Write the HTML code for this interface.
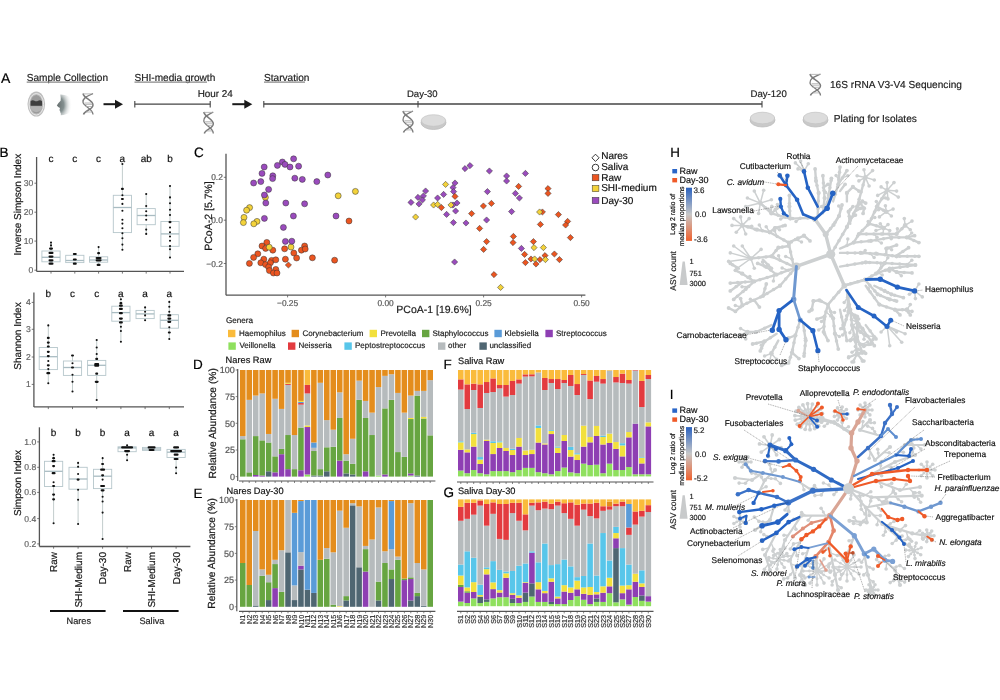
<!DOCTYPE html>
<html><head><meta charset="utf-8"><style>
html,body{margin:0;padding:0;background:#fff;width:1000px;height:700px;overflow:hidden}
svg{display:block;filter:blur(0.4px);font-family:"Liberation Sans",sans-serif}
text{text-rendering:geometricPrecision;stroke:currentColor;stroke-width:0.18px}
</style></head><body>
<svg width="1000" height="700" viewBox="0 0 1000 700">
<rect width="1000" height="700" fill="#fff"/>
<text x="1.0" y="83.0" font-size="14" fill="#000" style="color:#000" text-anchor="start" >A</text>
<text x="26.7" y="80.8" font-size="10.1" fill="#222" style="color:#222" text-anchor="start" >Sample Collection</text>
<line x1="26.7" y1="82.2" x2="100.0" y2="82.2" stroke="#888" stroke-width="1.2" />
<text x="134.5" y="80.8" font-size="10.1" fill="#222" style="color:#222" text-anchor="start" >SHI-media growth</text>
<line x1="134.5" y1="82.2" x2="207.0" y2="82.2" stroke="#888" stroke-width="1.2" />
<text x="264.0" y="80.8" font-size="10.1" fill="#222" style="color:#222" text-anchor="start" >Starvation</text>
<line x1="264.0" y1="82.2" x2="305.0" y2="82.2" stroke="#888" stroke-width="1.2" />
<ellipse cx="36.3" cy="104.1" rx="8.8" ry="12.5" fill="#bdbdbd"/>
<ellipse cx="36.3" cy="104.3" rx="7.3" ry="10.8" fill="none" stroke="#ececec" stroke-width="0.9"/>
<ellipse cx="36.3" cy="104.3" rx="6.1" ry="9.3" fill="#9a9a9a"/>
<path d="M30.6,101.2 Q32.5,99.6 34.5,100.8 Q36.3,101.8 38.1,100.8 Q40.2,99.6 42,101.2 L42,105.8 L30.6,105.8 Z" fill="#3e3e3e"/>
<path d="M30.4,106.2 L42.2,106.2 Q42,111.5 36.3,112.2 Q30.6,111.5 30.4,106.2 Z" fill="#b3b3b3"/>
<defs><radialGradient id="ng" gradientUnits="userSpaceOnUse" cx="58.5" cy="105" r="13.5" gradientTransform="translate(58.5,105) scale(1,1.4) translate(-58.5,-105)"><stop offset="0" stop-color="#6c7575"/><stop offset="0.4" stop-color="#849090"/><stop offset="1" stop-color="#fff" stop-opacity="0"/></radialGradient></defs>
<path d="M60.3,94.4 Q61,98 60.6,100.8 Q57.6,103.6 56.8,105.6 Q58,107.4 60,107.9 L59.4,110.2 Q60.6,111 60.2,112 Q61.2,113.5 60.8,115.2 Q73,115 73,104.6 Q72,94 60.3,94.4 Z" fill="url(#ng)"/>
<path d="M83.0,93.5 C84.0,98.8 93.0,99.8 93.0,105.0 C93.0,109.9 84.5,110.3 83.5,114.5" stroke="#7a7a7a" stroke-width="1.5" fill="none"/>
<path d="M93.0,93.5 C88.5,96.0 82.5,97.3 83.0,102.3 C83.5,106.5 93.0,108.6 93.0,114.5" stroke="#7a7a7a" stroke-width="1.3" fill="none"/>
<line x1="83.5" y1="93.9" x2="92.5" y2="93.9" stroke="#aaa" stroke-width="0.8"/>
<line x1="84.5" y1="103.0" x2="91.5" y2="103.0" stroke="#aaa" stroke-width="0.8"/>
<line x1="85.0" y1="104.4" x2="92.0" y2="104.4" stroke="#aaa" stroke-width="0.8"/>
<line x1="85.5" y1="106.5" x2="92.0" y2="106.5" stroke="#aaa" stroke-width="0.8"/>
<line x1="86.0" y1="112.0" x2="92.0" y2="112.0" stroke="#aaa" stroke-width="0.8"/>
<line x1="103.5" y1="104.2" x2="117.0" y2="104.2" stroke="#1a1a1a" stroke-width="2" />
<path d="M115,99.7 L123,104.2 L115,108.7 Z" fill="#1a1a1a"/>
<line x1="134.8" y1="104.2" x2="210.2" y2="104.2" stroke="#444" stroke-width="1.3" />
<line x1="134.8" y1="101.0" x2="134.8" y2="107.5" stroke="#444" stroke-width="1.1" />
<line x1="210.2" y1="101.0" x2="210.2" y2="107.5" stroke="#444" stroke-width="1.1" />
<text x="197.7" y="96.8" font-size="9.9" fill="#222" style="color:#222" text-anchor="start" >Hour 24</text>
<path d="M203.8,112.0 C204.8,117.4 213.3,118.5 213.3,123.8 C213.3,128.8 205.2,129.2 204.3,133.5" stroke="#7a7a7a" stroke-width="1.5" fill="none"/>
<path d="M213.3,112.0 C209.0,114.6 203.3,115.9 203.8,121.0 C204.3,125.3 213.3,127.5 213.3,133.5" stroke="#7a7a7a" stroke-width="1.3" fill="none"/>
<line x1="204.3" y1="112.4" x2="212.8" y2="112.4" stroke="#aaa" stroke-width="0.8"/>
<line x1="205.2" y1="121.7" x2="211.9" y2="121.7" stroke="#aaa" stroke-width="0.8"/>
<line x1="205.7" y1="123.2" x2="212.4" y2="123.2" stroke="#aaa" stroke-width="0.8"/>
<line x1="206.2" y1="125.3" x2="212.4" y2="125.3" stroke="#aaa" stroke-width="0.8"/>
<line x1="206.7" y1="130.9" x2="212.4" y2="130.9" stroke="#aaa" stroke-width="0.8"/>
<line x1="232.3" y1="104.2" x2="246.3" y2="104.2" stroke="#1a1a1a" stroke-width="2" />
<path d="M244.3,99.7 L252.3,104.2 L244.3,108.7 Z" fill="#1a1a1a"/>
<line x1="263.8" y1="104.0" x2="762.0" y2="104.0" stroke="#444" stroke-width="1.3" />
<line x1="263.8" y1="101.0" x2="263.8" y2="107.5" stroke="#444" stroke-width="1.1" />
<line x1="418.0" y1="101.0" x2="418.0" y2="107.5" stroke="#444" stroke-width="1.1" />
<line x1="762.0" y1="101.0" x2="762.0" y2="107.5" stroke="#444" stroke-width="1.1" />
<text x="407.0" y="97.0" font-size="9.5" fill="#222" style="color:#222" text-anchor="start" >Day-30</text>
<text x="750.5" y="97.0" font-size="9.6" fill="#222" style="color:#222" text-anchor="start" >Day-120</text>
<path d="M403.0,111.0 C404.0,116.4 413.0,117.5 413.0,122.8 C413.0,127.8 404.5,128.2 403.5,132.5" stroke="#7a7a7a" stroke-width="1.5" fill="none"/>
<path d="M413.0,111.0 C408.5,113.6 402.5,114.9 403.0,120.0 C403.5,124.3 413.0,126.5 413.0,132.5" stroke="#7a7a7a" stroke-width="1.3" fill="none"/>
<line x1="403.5" y1="111.4" x2="412.5" y2="111.4" stroke="#aaa" stroke-width="0.8"/>
<line x1="404.5" y1="120.7" x2="411.5" y2="120.7" stroke="#aaa" stroke-width="0.8"/>
<line x1="405.0" y1="122.2" x2="412.0" y2="122.2" stroke="#aaa" stroke-width="0.8"/>
<line x1="405.5" y1="124.3" x2="412.0" y2="124.3" stroke="#aaa" stroke-width="0.8"/>
<line x1="406.0" y1="129.9" x2="412.0" y2="129.9" stroke="#aaa" stroke-width="0.8"/>
<ellipse cx="433.5" cy="122.5" rx="12.5" ry="7" fill="#c9c9c9" stroke="#bdbdbd" stroke-width="0.8"/>
<ellipse cx="433.5" cy="120.5" rx="12.2" ry="5.8" fill="#dcdcdc" stroke="#c4c4c4" stroke-width="0.7"/>
<ellipse cx="762.5" cy="120.0" rx="12.5" ry="7" fill="#c9c9c9" stroke="#bdbdbd" stroke-width="0.8"/>
<ellipse cx="762.5" cy="118.0" rx="12.2" ry="5.8" fill="#dcdcdc" stroke="#c4c4c4" stroke-width="0.7"/>
<path d="M810.0,74.0 C811.0,79.4 820.5,80.5 820.5,85.8 C820.5,90.8 811.6,91.2 810.5,95.5" stroke="#7a7a7a" stroke-width="1.5" fill="none"/>
<path d="M820.5,74.0 C815.8,76.6 809.5,77.9 810.0,83.0 C810.5,87.3 820.5,89.5 820.5,95.5" stroke="#7a7a7a" stroke-width="1.3" fill="none"/>
<line x1="810.5" y1="74.4" x2="820.0" y2="74.4" stroke="#aaa" stroke-width="0.8"/>
<line x1="811.6" y1="83.7" x2="818.9" y2="83.7" stroke="#aaa" stroke-width="0.8"/>
<line x1="812.1" y1="85.2" x2="819.5" y2="85.2" stroke="#aaa" stroke-width="0.8"/>
<line x1="812.6" y1="87.3" x2="819.5" y2="87.3" stroke="#aaa" stroke-width="0.8"/>
<line x1="813.1" y1="92.9" x2="819.5" y2="92.9" stroke="#aaa" stroke-width="0.8"/>
<text x="830.0" y="88.0" font-size="10.1" fill="#222" style="color:#222" text-anchor="start" >16S rRNA V3-V4 Sequencing</text>
<ellipse cx="815.5" cy="120.0" rx="12.5" ry="7" fill="#c9c9c9" stroke="#bdbdbd" stroke-width="0.8"/>
<ellipse cx="815.5" cy="118.0" rx="12.2" ry="5.8" fill="#dcdcdc" stroke="#c4c4c4" stroke-width="0.7"/>
<text x="833.8" y="122.0" font-size="10.1" fill="#222" style="color:#222" text-anchor="start" >Plating for Isolates</text>
<text x="-0.6" y="156.8" font-size="13.5" fill="#000" style="color:#000" text-anchor="start" >B</text>
<line x1="36.6" y1="157.0" x2="36.6" y2="271.4" stroke="#555" stroke-width="1.3" />
<line x1="36.6" y1="271.4" x2="184.0" y2="271.4" stroke="#555" stroke-width="1.3" />
<line x1="34.4" y1="270.2" x2="36.6" y2="270.2" stroke="#555" stroke-width="0.8" />
<text x="33.4" y="273.2" font-size="8.6" fill="#666" style="color:#666" text-anchor="end" >0</text>
<line x1="34.4" y1="241.1" x2="36.6" y2="241.1" stroke="#555" stroke-width="0.8" />
<text x="33.4" y="244.1" font-size="8.6" fill="#666" style="color:#666" text-anchor="end" >10</text>
<line x1="34.4" y1="212.2" x2="36.6" y2="212.2" stroke="#555" stroke-width="0.8" />
<text x="33.4" y="215.2" font-size="8.6" fill="#666" style="color:#666" text-anchor="end" >20</text>
<line x1="34.4" y1="183.2" x2="36.6" y2="183.2" stroke="#555" stroke-width="0.8" />
<text x="33.4" y="186.2" font-size="8.6" fill="#666" style="color:#666" text-anchor="end" >30</text>
<line x1="51.0" y1="271.4" x2="51.0" y2="273.6" stroke="#555" stroke-width="0.8" />
<line x1="74.8" y1="271.4" x2="74.8" y2="273.6" stroke="#555" stroke-width="0.8" />
<line x1="98.6" y1="271.4" x2="98.6" y2="273.6" stroke="#555" stroke-width="0.8" />
<line x1="122.4" y1="271.4" x2="122.4" y2="273.6" stroke="#555" stroke-width="0.8" />
<line x1="146.2" y1="271.4" x2="146.2" y2="273.6" stroke="#555" stroke-width="0.8" />
<line x1="170.0" y1="271.4" x2="170.0" y2="273.6" stroke="#555" stroke-width="0.8" />
<line x1="51.0" y1="242.5" x2="51.0" y2="251.0" stroke="#9aa" stroke-width="0.6" />
<line x1="51.0" y1="261.8" x2="51.0" y2="264.5" stroke="#9aa" stroke-width="0.6" />
<rect x="41.9" y="251.0" width="18.2" height="10.8" fill="none" stroke="#b6c6cb" stroke-width="0.9"/>
<line x1="41.9" y1="257.3" x2="60.1" y2="257.3" stroke="#a9bcc2" stroke-width="1.3" />
<line x1="74.8" y1="254.0" x2="74.8" y2="255.3" stroke="#9aa" stroke-width="0.6" />
<line x1="74.8" y1="262.6" x2="74.8" y2="264.0" stroke="#9aa" stroke-width="0.6" />
<rect x="65.7" y="255.3" width="18.2" height="7.3" fill="none" stroke="#b6c6cb" stroke-width="0.9"/>
<line x1="65.7" y1="260.5" x2="83.9" y2="260.5" stroke="#a9bcc2" stroke-width="1.3" />
<line x1="98.6" y1="247.0" x2="98.6" y2="256.8" stroke="#9aa" stroke-width="0.6" />
<line x1="98.6" y1="262.2" x2="98.6" y2="265.0" stroke="#9aa" stroke-width="0.6" />
<rect x="89.5" y="256.8" width="18.2" height="5.4" fill="none" stroke="#b6c6cb" stroke-width="0.9"/>
<line x1="89.5" y1="260.0" x2="107.7" y2="260.0" stroke="#a9bcc2" stroke-width="1.3" />
<line x1="122.4" y1="164.0" x2="122.4" y2="195.3" stroke="#9aa" stroke-width="0.6" />
<line x1="122.4" y1="232.6" x2="122.4" y2="249.7" stroke="#9aa" stroke-width="0.6" />
<rect x="113.3" y="195.3" width="18.2" height="37.3" fill="none" stroke="#b6c6cb" stroke-width="0.9"/>
<line x1="113.3" y1="207.5" x2="131.5" y2="207.5" stroke="#a9bcc2" stroke-width="1.3" />
<line x1="146.2" y1="194.0" x2="146.2" y2="208.6" stroke="#9aa" stroke-width="0.6" />
<line x1="146.2" y1="224.7" x2="146.2" y2="233.9" stroke="#9aa" stroke-width="0.6" />
<rect x="137.1" y="208.6" width="18.2" height="16.1" fill="none" stroke="#b6c6cb" stroke-width="0.9"/>
<line x1="137.1" y1="215.5" x2="155.3" y2="215.5" stroke="#a9bcc2" stroke-width="1.3" />
<line x1="170.0" y1="186.0" x2="170.0" y2="221.5" stroke="#9aa" stroke-width="0.6" />
<line x1="170.0" y1="246.3" x2="170.0" y2="257.5" stroke="#9aa" stroke-width="0.6" />
<rect x="160.9" y="221.5" width="18.2" height="24.8" fill="none" stroke="#b6c6cb" stroke-width="0.9"/>
<line x1="160.9" y1="233.9" x2="179.1" y2="233.9" stroke="#a9bcc2" stroke-width="1.3" />
<circle cx="51.0" cy="242.6" r="1.05" fill="#111"/>
<circle cx="51.0" cy="245.4" r="1.05" fill="#111"/>
<rect x="49.0" y="247.5" width="4.0" height="2.2" rx="1.1" fill="#111"/>
<rect x="48.5" y="251.8" width="5.0" height="2.2" rx="1.1" fill="#111"/>
<rect x="48.5" y="255.5" width="5.0" height="2.2" rx="1.1" fill="#111"/>
<rect x="48.5" y="259.2" width="5.0" height="2.2" rx="1.1" fill="#111"/>
<rect x="48.5" y="262.6" width="5.0" height="2.2" rx="1.1" fill="#111"/>
<rect x="72.8" y="252.9" width="4.0" height="2.2" rx="1.1" fill="#111"/>
<rect x="72.8" y="258.4" width="4.0" height="2.2" rx="1.1" fill="#111"/>
<rect x="72.8" y="262.6" width="4.0" height="2.2" rx="1.1" fill="#111"/>
<circle cx="98.6" cy="247.1" r="1.05" fill="#111"/>
<rect x="97.1" y="252.1" width="3.0" height="2.2" rx="1.1" fill="#111"/>
<rect x="95.6" y="256.9" width="6.0" height="2.2" rx="1.1" fill="#111"/>
<rect x="95.6" y="259.2" width="6.0" height="2.2" rx="1.1" fill="#111"/>
<rect x="96.6" y="263.8" width="4.0" height="2.2" rx="1.1" fill="#111"/>
<circle cx="122.4" cy="164.0" r="1.05" fill="#111"/>
<rect x="120.9" y="187.8" width="3.0" height="2.2" rx="1.1" fill="#111"/>
<circle cx="122.4" cy="195.3" r="1.05" fill="#111"/>
<rect x="120.9" y="197.9" width="3.0" height="2.2" rx="1.1" fill="#111"/>
<circle cx="122.4" cy="203.9" r="1.05" fill="#111"/>
<circle cx="122.4" cy="210.7" r="1.05" fill="#111"/>
<circle cx="122.4" cy="219.7" r="1.05" fill="#111"/>
<circle cx="122.4" cy="223.6" r="1.05" fill="#111"/>
<circle cx="122.4" cy="228.3" r="1.05" fill="#111"/>
<circle cx="122.4" cy="233.2" r="1.05" fill="#111"/>
<circle cx="122.4" cy="238.2" r="1.05" fill="#111"/>
<circle cx="122.4" cy="244.6" r="1.05" fill="#111"/>
<circle cx="122.4" cy="249.8" r="1.05" fill="#111"/>
<circle cx="146.2" cy="194.0" r="1.05" fill="#111"/>
<circle cx="146.2" cy="206.0" r="1.05" fill="#111"/>
<circle cx="146.2" cy="211.2" r="1.05" fill="#111"/>
<circle cx="146.2" cy="215.5" r="1.05" fill="#111"/>
<circle cx="146.2" cy="219.7" r="1.05" fill="#111"/>
<circle cx="146.2" cy="229.6" r="1.05" fill="#111"/>
<circle cx="146.2" cy="233.9" r="1.05" fill="#111"/>
<circle cx="170.0" cy="186.0" r="1.05" fill="#111"/>
<circle cx="170.0" cy="197.4" r="1.05" fill="#111"/>
<circle cx="170.0" cy="203.2" r="1.05" fill="#111"/>
<circle cx="170.0" cy="209.7" r="1.05" fill="#111"/>
<circle cx="170.0" cy="215.0" r="1.05" fill="#111"/>
<rect x="168.5" y="221.0" width="3.0" height="2.2" rx="1.1" fill="#111"/>
<circle cx="170.0" cy="227.5" r="1.05" fill="#111"/>
<circle cx="170.0" cy="232.2" r="1.05" fill="#111"/>
<circle cx="170.0" cy="236.5" r="1.05" fill="#111"/>
<circle cx="170.0" cy="240.8" r="1.05" fill="#111"/>
<circle cx="170.0" cy="246.1" r="1.05" fill="#111"/>
<circle cx="170.0" cy="249.3" r="1.05" fill="#111"/>
<circle cx="170.0" cy="257.5" r="1.05" fill="#111"/>
<text x="51.0" y="161.6" font-size="10" fill="#111" style="color:#111" text-anchor="middle" >c</text>
<text x="74.8" y="161.6" font-size="10" fill="#111" style="color:#111" text-anchor="middle" >c</text>
<text x="98.6" y="161.6" font-size="10" fill="#111" style="color:#111" text-anchor="middle" >c</text>
<text x="122.4" y="161.6" font-size="10" fill="#111" style="color:#111" text-anchor="middle" >a</text>
<text x="146.2" y="161.6" font-size="10" fill="#111" style="color:#111" text-anchor="middle" >ab</text>
<text x="170.0" y="161.6" font-size="10" fill="#111" style="color:#111" text-anchor="middle" >b</text>
<text x="0" y="0" font-size="10" fill="#222" text-anchor="middle" transform="translate(21.3,204.7) rotate(-90)">Inverse Simpson Index</text>
<line x1="33.9" y1="292.4" x2="33.9" y2="406.9" stroke="#555" stroke-width="1.3" />
<line x1="33.9" y1="406.9" x2="184.0" y2="406.9" stroke="#555" stroke-width="1.3" />
<line x1="31.7" y1="384.4" x2="33.9" y2="384.4" stroke="#555" stroke-width="0.8" />
<text x="30.7" y="387.4" font-size="8.6" fill="#666" style="color:#666" text-anchor="end" >1</text>
<line x1="31.7" y1="357.0" x2="33.9" y2="357.0" stroke="#555" stroke-width="0.8" />
<text x="30.7" y="360.0" font-size="8.6" fill="#666" style="color:#666" text-anchor="end" >2</text>
<line x1="31.7" y1="329.3" x2="33.9" y2="329.3" stroke="#555" stroke-width="0.8" />
<text x="30.7" y="332.3" font-size="8.6" fill="#666" style="color:#666" text-anchor="end" >3</text>
<line x1="31.7" y1="302.4" x2="33.9" y2="302.4" stroke="#555" stroke-width="0.8" />
<text x="30.7" y="305.4" font-size="8.6" fill="#666" style="color:#666" text-anchor="end" >4</text>
<line x1="48.3" y1="406.9" x2="48.3" y2="409.1" stroke="#555" stroke-width="0.8" />
<line x1="72.5" y1="406.9" x2="72.5" y2="409.1" stroke="#555" stroke-width="0.8" />
<line x1="96.7" y1="406.9" x2="96.7" y2="409.1" stroke="#555" stroke-width="0.8" />
<line x1="120.9" y1="406.9" x2="120.9" y2="409.1" stroke="#555" stroke-width="0.8" />
<line x1="145.1" y1="406.9" x2="145.1" y2="409.1" stroke="#555" stroke-width="0.8" />
<line x1="169.3" y1="406.9" x2="169.3" y2="409.1" stroke="#555" stroke-width="0.8" />
<line x1="48.3" y1="325.4" x2="48.3" y2="347.5" stroke="#9aa" stroke-width="0.6" />
<line x1="48.3" y1="369.6" x2="48.3" y2="383.3" stroke="#9aa" stroke-width="0.6" />
<rect x="39.2" y="347.5" width="18.2" height="22.1" fill="none" stroke="#b6c6cb" stroke-width="0.9"/>
<line x1="39.2" y1="356.7" x2="57.4" y2="356.7" stroke="#a9bcc2" stroke-width="1.3" />
<line x1="72.5" y1="355.5" x2="72.5" y2="361.0" stroke="#9aa" stroke-width="0.6" />
<line x1="72.5" y1="375.4" x2="72.5" y2="391.5" stroke="#9aa" stroke-width="0.6" />
<rect x="63.4" y="361.0" width="18.2" height="14.4" fill="none" stroke="#b6c6cb" stroke-width="0.9"/>
<line x1="63.4" y1="367.5" x2="81.6" y2="367.5" stroke="#a9bcc2" stroke-width="1.3" />
<line x1="96.7" y1="340.0" x2="96.7" y2="360.4" stroke="#9aa" stroke-width="0.6" />
<line x1="96.7" y1="375.4" x2="96.7" y2="400.0" stroke="#9aa" stroke-width="0.6" />
<rect x="87.6" y="360.4" width="18.2" height="15.0" fill="none" stroke="#b6c6cb" stroke-width="0.9"/>
<line x1="87.6" y1="365.3" x2="105.8" y2="365.3" stroke="#a9bcc2" stroke-width="1.3" />
<line x1="120.9" y1="299.0" x2="120.9" y2="306.2" stroke="#9aa" stroke-width="0.6" />
<line x1="120.9" y1="321.2" x2="120.9" y2="341.7" stroke="#9aa" stroke-width="0.6" />
<rect x="111.8" y="306.2" width="18.2" height="15.0" fill="none" stroke="#b6c6cb" stroke-width="0.9"/>
<line x1="111.8" y1="312.6" x2="130.0" y2="312.6" stroke="#a9bcc2" stroke-width="1.3" />
<line x1="145.1" y1="307.4" x2="145.1" y2="310.4" stroke="#9aa" stroke-width="0.6" />
<line x1="145.1" y1="318.6" x2="145.1" y2="320.3" stroke="#9aa" stroke-width="0.6" />
<rect x="136.0" y="310.4" width="18.2" height="8.2" fill="none" stroke="#b6c6cb" stroke-width="0.9"/>
<line x1="136.0" y1="313.9" x2="154.2" y2="313.9" stroke="#a9bcc2" stroke-width="1.3" />
<line x1="169.3" y1="301.9" x2="169.3" y2="314.7" stroke="#9aa" stroke-width="0.6" />
<line x1="169.3" y1="328.2" x2="169.3" y2="339.0" stroke="#9aa" stroke-width="0.6" />
<rect x="160.2" y="314.7" width="18.2" height="13.5" fill="none" stroke="#b6c6cb" stroke-width="0.9"/>
<line x1="160.2" y1="320.3" x2="178.4" y2="320.3" stroke="#a9bcc2" stroke-width="1.3" />
<circle cx="48.3" cy="325.4" r="1.05" fill="#111"/>
<rect x="46.8" y="336.8" width="3.0" height="2.2" rx="1.1" fill="#111"/>
<rect x="46.8" y="341.5" width="3.0" height="2.2" rx="1.1" fill="#111"/>
<rect x="46.8" y="345.4" width="3.0" height="2.2" rx="1.1" fill="#111"/>
<rect x="46.8" y="350.7" width="3.0" height="2.2" rx="1.1" fill="#111"/>
<rect x="46.8" y="355.0" width="3.0" height="2.2" rx="1.1" fill="#111"/>
<circle cx="48.3" cy="361.0" r="1.05" fill="#111"/>
<rect x="46.8" y="364.2" width="3.0" height="2.2" rx="1.1" fill="#111"/>
<circle cx="48.3" cy="369.0" r="1.05" fill="#111"/>
<rect x="46.3" y="372.1" width="4.0" height="2.2" rx="1.1" fill="#111"/>
<circle cx="48.3" cy="383.3" r="1.05" fill="#111"/>
<rect x="71.0" y="354.4" width="3.0" height="2.2" rx="1.1" fill="#111"/>
<circle cx="72.5" cy="363.2" r="1.05" fill="#111"/>
<rect x="71.0" y="366.4" width="3.0" height="2.2" rx="1.1" fill="#111"/>
<circle cx="72.5" cy="374.7" r="1.05" fill="#111"/>
<circle cx="72.5" cy="381.8" r="1.05" fill="#111"/>
<circle cx="72.5" cy="391.5" r="1.05" fill="#111"/>
<circle cx="96.7" cy="340.0" r="1.05" fill="#111"/>
<circle cx="96.7" cy="347.5" r="1.05" fill="#111"/>
<circle cx="96.7" cy="354.0" r="1.05" fill="#111"/>
<rect x="95.2" y="357.8" width="3.0" height="2.2" rx="1.1" fill="#111"/>
<rect x="94.2" y="363.1" width="5.0" height="2.2" rx="1.1" fill="#111"/>
<rect x="94.2" y="364.6" width="5.0" height="2.2" rx="1.1" fill="#111"/>
<rect x="95.2" y="372.6" width="3.0" height="2.2" rx="1.1" fill="#111"/>
<rect x="94.7" y="380.7" width="4.0" height="2.2" rx="1.1" fill="#111"/>
<circle cx="96.7" cy="400.0" r="1.05" fill="#111"/>
<circle cx="120.9" cy="299.3" r="1.05" fill="#111"/>
<rect x="119.4" y="302.1" width="3.0" height="2.2" rx="1.1" fill="#111"/>
<rect x="118.9" y="304.6" width="4.0" height="2.2" rx="1.1" fill="#111"/>
<rect x="118.9" y="307.8" width="4.0" height="2.2" rx="1.1" fill="#111"/>
<rect x="118.9" y="312.1" width="4.0" height="2.2" rx="1.1" fill="#111"/>
<rect x="118.9" y="317.5" width="4.0" height="2.2" rx="1.1" fill="#111"/>
<rect x="118.9" y="321.3" width="4.0" height="2.2" rx="1.1" fill="#111"/>
<circle cx="120.9" cy="326.7" r="1.05" fill="#111"/>
<circle cx="120.9" cy="331.0" r="1.05" fill="#111"/>
<circle cx="120.9" cy="341.7" r="1.05" fill="#111"/>
<circle cx="145.1" cy="307.4" r="1.05" fill="#111"/>
<circle cx="145.1" cy="311.7" r="1.05" fill="#111"/>
<circle cx="145.1" cy="315.4" r="1.05" fill="#111"/>
<circle cx="145.1" cy="320.3" r="1.05" fill="#111"/>
<circle cx="169.3" cy="301.9" r="1.05" fill="#111"/>
<circle cx="169.3" cy="306.8" r="1.05" fill="#111"/>
<circle cx="169.3" cy="311.7" r="1.05" fill="#111"/>
<rect x="167.3" y="314.3" width="4.0" height="2.2" rx="1.1" fill="#111"/>
<rect x="167.3" y="317.5" width="4.0" height="2.2" rx="1.1" fill="#111"/>
<rect x="167.3" y="320.7" width="4.0" height="2.2" rx="1.1" fill="#111"/>
<circle cx="169.3" cy="327.2" r="1.05" fill="#111"/>
<rect x="167.8" y="331.4" width="3.0" height="2.2" rx="1.1" fill="#111"/>
<circle cx="169.3" cy="339.0" r="1.05" fill="#111"/>
<text x="48.3" y="297.4" font-size="10" fill="#111" style="color:#111" text-anchor="middle" >b</text>
<text x="72.5" y="297.4" font-size="10" fill="#111" style="color:#111" text-anchor="middle" >c</text>
<text x="96.7" y="297.4" font-size="10" fill="#111" style="color:#111" text-anchor="middle" >c</text>
<text x="120.9" y="297.4" font-size="10" fill="#111" style="color:#111" text-anchor="middle" >a</text>
<text x="145.1" y="297.4" font-size="10" fill="#111" style="color:#111" text-anchor="middle" >a</text>
<text x="169.3" y="297.4" font-size="10" fill="#111" style="color:#111" text-anchor="middle" >a</text>
<text x="0" y="0" font-size="10" fill="#222" text-anchor="middle" transform="translate(21.3,336) rotate(-90)">Shannon Index</text>
<line x1="39.4" y1="427.3" x2="39.4" y2="546.5" stroke="#555" stroke-width="1.3" />
<line x1="39.4" y1="546.5" x2="190.4" y2="546.5" stroke="#555" stroke-width="1.3" />
<line x1="37.2" y1="543.9" x2="39.4" y2="543.9" stroke="#555" stroke-width="0.8" />
<text x="36.2" y="546.9" font-size="8.6" fill="#666" style="color:#666" text-anchor="end" >0.2</text>
<line x1="37.2" y1="518.6" x2="39.4" y2="518.6" stroke="#555" stroke-width="0.8" />
<text x="36.2" y="521.6" font-size="8.6" fill="#666" style="color:#666" text-anchor="end" >0.4</text>
<line x1="37.2" y1="492.4" x2="39.4" y2="492.4" stroke="#555" stroke-width="0.8" />
<text x="36.2" y="495.4" font-size="8.6" fill="#666" style="color:#666" text-anchor="end" >0.6</text>
<line x1="37.2" y1="467.3" x2="39.4" y2="467.3" stroke="#555" stroke-width="0.8" />
<text x="36.2" y="470.3" font-size="8.6" fill="#666" style="color:#666" text-anchor="end" >0.8</text>
<line x1="37.2" y1="441.9" x2="39.4" y2="441.9" stroke="#555" stroke-width="0.8" />
<text x="36.2" y="444.9" font-size="8.6" fill="#666" style="color:#666" text-anchor="end" >1.0</text>
<line x1="53.6" y1="546.5" x2="53.6" y2="548.7" stroke="#555" stroke-width="0.8" />
<line x1="78.1" y1="546.5" x2="78.1" y2="548.7" stroke="#555" stroke-width="0.8" />
<line x1="102.6" y1="546.5" x2="102.6" y2="548.7" stroke="#555" stroke-width="0.8" />
<line x1="127.1" y1="546.5" x2="127.1" y2="548.7" stroke="#555" stroke-width="0.8" />
<line x1="151.6" y1="546.5" x2="151.6" y2="548.7" stroke="#555" stroke-width="0.8" />
<line x1="176.1" y1="546.5" x2="176.1" y2="548.7" stroke="#555" stroke-width="0.8" />
<line x1="53.6" y1="454.7" x2="53.6" y2="461.3" stroke="#9aa" stroke-width="0.6" />
<line x1="53.6" y1="486.5" x2="53.6" y2="523.3" stroke="#9aa" stroke-width="0.6" />
<rect x="44.5" y="461.3" width="18.2" height="25.2" fill="none" stroke="#b6c6cb" stroke-width="0.9"/>
<line x1="44.5" y1="471.3" x2="62.7" y2="471.3" stroke="#a9bcc2" stroke-width="1.3" />
<line x1="78.1" y1="462.9" x2="78.1" y2="467.3" stroke="#9aa" stroke-width="0.6" />
<line x1="78.1" y1="489.2" x2="78.1" y2="524.0" stroke="#9aa" stroke-width="0.6" />
<rect x="69.0" y="467.3" width="18.2" height="21.9" fill="none" stroke="#b6c6cb" stroke-width="0.9"/>
<line x1="69.0" y1="479.0" x2="87.2" y2="479.0" stroke="#a9bcc2" stroke-width="1.3" />
<line x1="102.6" y1="457.5" x2="102.6" y2="469.3" stroke="#9aa" stroke-width="0.6" />
<line x1="102.6" y1="488.6" x2="102.6" y2="539.0" stroke="#9aa" stroke-width="0.6" />
<rect x="93.5" y="469.3" width="18.2" height="19.3" fill="none" stroke="#b6c6cb" stroke-width="0.9"/>
<line x1="93.5" y1="476.2" x2="111.7" y2="476.2" stroke="#a9bcc2" stroke-width="1.3" />
<line x1="127.1" y1="445.3" x2="127.1" y2="446.8" stroke="#9aa" stroke-width="0.6" />
<line x1="127.1" y1="451.7" x2="127.1" y2="460.3" stroke="#9aa" stroke-width="0.6" />
<rect x="118.0" y="446.8" width="18.2" height="4.9" fill="none" stroke="#b6c6cb" stroke-width="0.9"/>
<line x1="118.0" y1="447.9" x2="136.2" y2="447.9" stroke="#a9bcc2" stroke-width="1.3" />
<line x1="151.6" y1="446.8" x2="151.6" y2="447.4" stroke="#9aa" stroke-width="0.6" />
<line x1="151.6" y1="450.4" x2="151.6" y2="451.0" stroke="#9aa" stroke-width="0.6" />
<rect x="142.5" y="447.4" width="18.2" height="3.0" fill="none" stroke="#b6c6cb" stroke-width="0.9"/>
<line x1="142.5" y1="449.0" x2="160.7" y2="449.0" stroke="#a9bcc2" stroke-width="1.3" />
<line x1="176.1" y1="447.4" x2="176.1" y2="449.4" stroke="#9aa" stroke-width="0.6" />
<line x1="176.1" y1="457.5" x2="176.1" y2="473.2" stroke="#9aa" stroke-width="0.6" />
<rect x="167.0" y="449.4" width="18.2" height="8.1" fill="none" stroke="#b6c6cb" stroke-width="0.9"/>
<line x1="167.0" y1="452.2" x2="185.2" y2="452.2" stroke="#a9bcc2" stroke-width="1.3" />
<circle cx="53.6" cy="454.7" r="1.05" fill="#111"/>
<rect x="52.1" y="457.1" width="3.0" height="2.2" rx="1.1" fill="#111"/>
<rect x="51.6" y="460.1" width="4.0" height="2.2" rx="1.1" fill="#111"/>
<rect x="52.1" y="465.0" width="3.0" height="2.2" rx="1.1" fill="#111"/>
<rect x="51.6" y="472.1" width="4.0" height="2.2" rx="1.1" fill="#111"/>
<circle cx="53.6" cy="482.2" r="1.05" fill="#111"/>
<rect x="52.1" y="484.9" width="3.0" height="2.2" rx="1.1" fill="#111"/>
<rect x="52.1" y="493.5" width="3.0" height="2.2" rx="1.1" fill="#111"/>
<rect x="52.1" y="498.2" width="3.0" height="2.2" rx="1.1" fill="#111"/>
<circle cx="53.6" cy="523.3" r="1.05" fill="#111"/>
<circle cx="78.1" cy="462.9" r="1.05" fill="#111"/>
<circle cx="78.1" cy="466.7" r="1.05" fill="#111"/>
<circle cx="78.1" cy="474.0" r="1.05" fill="#111"/>
<rect x="76.6" y="478.5" width="3.0" height="2.2" rx="1.1" fill="#111"/>
<circle cx="78.1" cy="489.7" r="1.05" fill="#111"/>
<circle cx="78.1" cy="499.7" r="1.05" fill="#111"/>
<circle cx="78.1" cy="524.0" r="1.05" fill="#111"/>
<rect x="101.6" y="457.1" width="2.0" height="2.2" rx="1.1" fill="#111"/>
<rect x="101.1" y="462.9" width="3.0" height="2.2" rx="1.1" fill="#111"/>
<rect x="100.1" y="468.6" width="5.0" height="2.2" rx="1.1" fill="#111"/>
<rect x="101.1" y="474.2" width="3.0" height="2.2" rx="1.1" fill="#111"/>
<circle cx="102.6" cy="479.6" r="1.05" fill="#111"/>
<rect x="100.1" y="484.9" width="5.0" height="2.2" rx="1.1" fill="#111"/>
<rect x="100.6" y="489.2" width="4.0" height="2.2" rx="1.1" fill="#111"/>
<circle cx="102.6" cy="496.7" r="1.05" fill="#111"/>
<circle cx="102.6" cy="501.5" r="1.05" fill="#111"/>
<circle cx="102.6" cy="512.6" r="1.05" fill="#111"/>
<circle cx="102.6" cy="539.0" r="1.05" fill="#111"/>
<circle cx="127.1" cy="445.3" r="1.05" fill="#111"/>
<rect x="121.1" y="446.3" width="12.0" height="2.2" rx="1.1" fill="#111"/>
<rect x="124.1" y="450.0" width="6.0" height="2.2" rx="1.1" fill="#111"/>
<circle cx="127.1" cy="454.7" r="1.05" fill="#111"/>
<circle cx="127.1" cy="460.3" r="1.05" fill="#111"/>
<rect x="147.6" y="446.3" width="8.0" height="2.2" rx="1.1" fill="#111"/>
<rect x="148.6" y="448.9" width="6.0" height="2.2" rx="1.1" fill="#111"/>
<rect x="173.1" y="446.3" width="6.0" height="2.2" rx="1.1" fill="#111"/>
<rect x="170.1" y="450.0" width="12.0" height="2.2" rx="1.1" fill="#111"/>
<rect x="173.6" y="453.6" width="5.0" height="2.2" rx="1.1" fill="#111"/>
<rect x="173.6" y="457.9" width="5.0" height="2.2" rx="1.1" fill="#111"/>
<circle cx="176.1" cy="467.6" r="1.05" fill="#111"/>
<circle cx="176.1" cy="473.2" r="1.05" fill="#111"/>
<text x="53.6" y="435.5" font-size="10" fill="#111" style="color:#111" text-anchor="middle" >b</text>
<text x="78.1" y="435.5" font-size="10" fill="#111" style="color:#111" text-anchor="middle" >b</text>
<text x="102.6" y="435.5" font-size="10" fill="#111" style="color:#111" text-anchor="middle" >b</text>
<text x="127.1" y="435.5" font-size="10" fill="#111" style="color:#111" text-anchor="middle" >a</text>
<text x="151.6" y="435.5" font-size="10" fill="#111" style="color:#111" text-anchor="middle" >a</text>
<text x="176.1" y="435.5" font-size="10" fill="#111" style="color:#111" text-anchor="middle" >a</text>
<text x="0" y="0" font-size="10" fill="#222" text-anchor="middle" transform="translate(21.3,483) rotate(-90)">Simpson Index</text>
<text x="0" y="0" font-size="10" fill="#222" text-anchor="end" transform="translate(57.1,552) rotate(-90)">Raw</text>
<text x="0" y="0" font-size="10" fill="#222" text-anchor="end" transform="translate(81.6,552) rotate(-90)">SHI-Medium</text>
<text x="0" y="0" font-size="10" fill="#222" text-anchor="end" transform="translate(106.1,552) rotate(-90)">Day-30</text>
<text x="0" y="0" font-size="10" fill="#222" text-anchor="end" transform="translate(130.6,552) rotate(-90)">Raw</text>
<text x="0" y="0" font-size="10" fill="#222" text-anchor="end" transform="translate(155.1,552) rotate(-90)">SHI-Medium</text>
<text x="0" y="0" font-size="10" fill="#222" text-anchor="end" transform="translate(179.6,552) rotate(-90)">Day-30</text>
<line x1="50.0" y1="611.0" x2="105.6" y2="611.0" stroke="#111" stroke-width="2" />
<line x1="123.0" y1="611.0" x2="178.6" y2="611.0" stroke="#111" stroke-width="2" />
<text x="78.8" y="623.6" font-size="9.2" fill="#222" style="color:#222" text-anchor="middle" >Nares</text>
<text x="151.9" y="623.6" font-size="9.2" fill="#222" style="color:#222" text-anchor="middle" >Saliva</text>
<text x="194.0" y="156.6" font-size="13.5" fill="#000" style="color:#000" text-anchor="start" >C</text>
<line x1="226.0" y1="153.7" x2="226.0" y2="295.2" stroke="#555" stroke-width="1.3" />
<line x1="226.0" y1="295.2" x2="585.4" y2="295.2" stroke="#555" stroke-width="1.3" />
<line x1="223.8" y1="177.3" x2="226.0" y2="177.3" stroke="#555" stroke-width="0.8" />
<text x="222.8" y="180.3" font-size="8.4" fill="#555" style="color:#555" text-anchor="end" >0.2</text>
<line x1="223.8" y1="220.2" x2="226.0" y2="220.2" stroke="#555" stroke-width="0.8" />
<text x="222.8" y="223.2" font-size="8.4" fill="#555" style="color:#555" text-anchor="end" >0.0</text>
<line x1="223.8" y1="263.5" x2="226.0" y2="263.5" stroke="#555" stroke-width="0.8" />
<text x="222.8" y="266.5" font-size="8.4" fill="#555" style="color:#555" text-anchor="end" >−0.2</text>
<line x1="287.6" y1="295.2" x2="287.6" y2="297.4" stroke="#555" stroke-width="0.8" />
<text x="287.6" y="306.0" font-size="8.4" fill="#555" style="color:#555" text-anchor="middle" >−0.25</text>
<line x1="385.6" y1="295.2" x2="385.6" y2="297.4" stroke="#555" stroke-width="0.8" />
<text x="385.6" y="306.0" font-size="8.4" fill="#555" style="color:#555" text-anchor="middle" >0.00</text>
<line x1="483.6" y1="295.2" x2="483.6" y2="297.4" stroke="#555" stroke-width="0.8" />
<text x="483.6" y="306.0" font-size="8.4" fill="#555" style="color:#555" text-anchor="middle" >0.25</text>
<line x1="581.6" y1="295.2" x2="581.6" y2="297.4" stroke="#555" stroke-width="0.8" />
<text x="581.6" y="306.0" font-size="8.4" fill="#555" style="color:#555" text-anchor="middle" >0.50</text>
<text x="434.0" y="313.0" font-size="10.5" fill="#222" style="color:#222" text-anchor="middle" >PCoA-1 [19.6%]</text>
<text x="0" y="0" font-size="10.5" fill="#222" text-anchor="middle" transform="translate(212,216) rotate(-90)">PCoA-2 [5.7%]</text>
<circle cx="349.0" cy="221.0" r="3" fill="#ec5520" stroke="#333" stroke-width="0.5"/>
<circle cx="266.8" cy="242.4" r="3" fill="#ec5520" stroke="#333" stroke-width="0.5"/>
<circle cx="262.0" cy="246.0" r="3" fill="#ec5520" stroke="#333" stroke-width="0.5"/>
<circle cx="265.6" cy="248.4" r="3" fill="#ec5520" stroke="#333" stroke-width="0.5"/>
<circle cx="272.8" cy="250.2" r="3" fill="#ec5520" stroke="#333" stroke-width="0.5"/>
<circle cx="284.6" cy="248.8" r="3" fill="#ec5520" stroke="#333" stroke-width="0.5"/>
<circle cx="304.6" cy="246.0" r="3" fill="#ec5520" stroke="#333" stroke-width="0.5"/>
<circle cx="301.4" cy="250.2" r="3" fill="#ec5520" stroke="#333" stroke-width="0.5"/>
<circle cx="305.2" cy="249.0" r="3" fill="#ec5520" stroke="#333" stroke-width="0.5"/>
<circle cx="293.8" cy="253.0" r="3" fill="#ec5520" stroke="#333" stroke-width="0.5"/>
<circle cx="257.8" cy="253.8" r="3" fill="#ec5520" stroke="#333" stroke-width="0.5"/>
<circle cx="253.6" cy="257.4" r="3" fill="#ec5520" stroke="#333" stroke-width="0.5"/>
<circle cx="249.4" cy="263.4" r="3" fill="#ec5520" stroke="#333" stroke-width="0.5"/>
<circle cx="263.8" cy="259.2" r="3" fill="#ec5520" stroke="#333" stroke-width="0.5"/>
<circle cx="260.8" cy="262.8" r="3" fill="#ec5520" stroke="#333" stroke-width="0.5"/>
<circle cx="265.6" cy="264.6" r="3" fill="#ec5520" stroke="#333" stroke-width="0.5"/>
<circle cx="271.6" cy="260.4" r="3" fill="#ec5520" stroke="#333" stroke-width="0.5"/>
<circle cx="275.8" cy="259.8" r="3" fill="#ec5520" stroke="#333" stroke-width="0.5"/>
<circle cx="270.4" cy="262.8" r="3" fill="#ec5520" stroke="#333" stroke-width="0.5"/>
<circle cx="285.4" cy="259.2" r="3" fill="#ec5520" stroke="#333" stroke-width="0.5"/>
<circle cx="296.6" cy="258.0" r="3" fill="#ec5520" stroke="#333" stroke-width="0.5"/>
<circle cx="312.4" cy="257.8" r="3" fill="#ec5520" stroke="#333" stroke-width="0.5"/>
<circle cx="334.6" cy="260.2" r="3" fill="#ec5520" stroke="#333" stroke-width="0.5"/>
<circle cx="268.6" cy="267.0" r="3" fill="#ec5520" stroke="#333" stroke-width="0.5"/>
<circle cx="269.4" cy="270.6" r="3" fill="#ec5520" stroke="#333" stroke-width="0.5"/>
<circle cx="275.8" cy="269.4" r="3" fill="#ec5520" stroke="#333" stroke-width="0.5"/>
<circle cx="273.4" cy="273.0" r="3" fill="#ec5520" stroke="#333" stroke-width="0.5"/>
<circle cx="277.0" cy="273.0" r="3" fill="#ec5520" stroke="#333" stroke-width="0.5"/>
<circle cx="265.4" cy="197.4" r="3" fill="#f3d23a" stroke="#333" stroke-width="0.5"/>
<circle cx="338.2" cy="195.8" r="3" fill="#f3d23a" stroke="#333" stroke-width="0.5"/>
<circle cx="355.4" cy="191.4" r="3" fill="#f3d23a" stroke="#333" stroke-width="0.5"/>
<circle cx="249.6" cy="207.6" r="3" fill="#f3d23a" stroke="#333" stroke-width="0.5"/>
<circle cx="246.6" cy="210.2" r="3" fill="#f3d23a" stroke="#333" stroke-width="0.5"/>
<circle cx="244.0" cy="217.4" r="3" fill="#f3d23a" stroke="#333" stroke-width="0.5"/>
<circle cx="243.4" cy="222.6" r="3" fill="#f3d23a" stroke="#333" stroke-width="0.5"/>
<circle cx="257.0" cy="221.4" r="3" fill="#f3d23a" stroke="#333" stroke-width="0.5"/>
<circle cx="253.8" cy="223.8" r="3" fill="#f3d23a" stroke="#333" stroke-width="0.5"/>
<circle cx="269.2" cy="247.2" r="3" fill="#f3d23a" stroke="#333" stroke-width="0.5"/>
<circle cx="291.0" cy="247.0" r="3" fill="#f3d23a" stroke="#333" stroke-width="0.5"/>
<circle cx="293.6" cy="158.8" r="3" fill="#9a4bbd" stroke="#333" stroke-width="0.5"/>
<circle cx="282.4" cy="162.0" r="3" fill="#9a4bbd" stroke="#333" stroke-width="0.5"/>
<circle cx="285.0" cy="164.4" r="3" fill="#9a4bbd" stroke="#333" stroke-width="0.5"/>
<circle cx="277.4" cy="165.4" r="3" fill="#9a4bbd" stroke="#333" stroke-width="0.5"/>
<circle cx="290.0" cy="167.0" r="3" fill="#9a4bbd" stroke="#333" stroke-width="0.5"/>
<circle cx="298.6" cy="166.2" r="3" fill="#9a4bbd" stroke="#333" stroke-width="0.5"/>
<circle cx="264.2" cy="167.0" r="3" fill="#9a4bbd" stroke="#333" stroke-width="0.5"/>
<circle cx="262.0" cy="173.4" r="3" fill="#9a4bbd" stroke="#333" stroke-width="0.5"/>
<circle cx="272.8" cy="175.8" r="3" fill="#9a4bbd" stroke="#333" stroke-width="0.5"/>
<circle cx="272.6" cy="178.6" r="3" fill="#9a4bbd" stroke="#333" stroke-width="0.5"/>
<circle cx="294.8" cy="178.2" r="3" fill="#9a4bbd" stroke="#333" stroke-width="0.5"/>
<circle cx="302.3" cy="179.4" r="3" fill="#9a4bbd" stroke="#333" stroke-width="0.5"/>
<circle cx="316.8" cy="181.6" r="3" fill="#9a4bbd" stroke="#333" stroke-width="0.5"/>
<circle cx="327.8" cy="175.0" r="3" fill="#9a4bbd" stroke="#333" stroke-width="0.5"/>
<circle cx="253.6" cy="183.0" r="3" fill="#9a4bbd" stroke="#333" stroke-width="0.5"/>
<circle cx="260.8" cy="181.6" r="3" fill="#9a4bbd" stroke="#333" stroke-width="0.5"/>
<circle cx="268.6" cy="189.4" r="3" fill="#9a4bbd" stroke="#333" stroke-width="0.5"/>
<circle cx="265.8" cy="203.0" r="3" fill="#9a4bbd" stroke="#333" stroke-width="0.5"/>
<circle cx="285.8" cy="203.0" r="3" fill="#9a4bbd" stroke="#333" stroke-width="0.5"/>
<circle cx="304.6" cy="203.8" r="3" fill="#9a4bbd" stroke="#333" stroke-width="0.5"/>
<circle cx="264.4" cy="218.4" r="3" fill="#9a4bbd" stroke="#333" stroke-width="0.5"/>
<circle cx="293.4" cy="216.0" r="3" fill="#9a4bbd" stroke="#333" stroke-width="0.5"/>
<circle cx="336.0" cy="216.0" r="3" fill="#9a4bbd" stroke="#333" stroke-width="0.5"/>
<circle cx="283.4" cy="227.4" r="3" fill="#9a4bbd" stroke="#333" stroke-width="0.5"/>
<circle cx="285.4" cy="241.4" r="3" fill="#9a4bbd" stroke="#333" stroke-width="0.5"/>
<circle cx="291.8" cy="241.2" r="3" fill="#9a4bbd" stroke="#333" stroke-width="0.5"/>
<circle cx="264.4" cy="195.0" r="3" fill="#9a4bbd" stroke="#333" stroke-width="0.5"/>
<path d="M411.0,199.3 L414.1,202.4 L411.0,205.5 L407.9,202.4 Z" fill="#9a4bbd" stroke="#333" stroke-width="0.5"/>
<path d="M418.0,194.3 L421.1,197.4 L418.0,200.5 L414.9,197.4 Z" fill="#9a4bbd" stroke="#333" stroke-width="0.5"/>
<path d="M425.6,187.9 L428.7,191.0 L425.6,194.1 L422.5,191.0 Z" fill="#9a4bbd" stroke="#333" stroke-width="0.5"/>
<path d="M423.4,192.9 L426.5,196.0 L423.4,199.1 L420.3,196.0 Z" fill="#9a4bbd" stroke="#333" stroke-width="0.5"/>
<path d="M422.4,196.9 L425.5,200.0 L422.4,203.1 L419.3,200.0 Z" fill="#9a4bbd" stroke="#333" stroke-width="0.5"/>
<path d="M419.0,200.9 L422.1,204.0 L419.0,207.1 L415.9,204.0 Z" fill="#9a4bbd" stroke="#333" stroke-width="0.5"/>
<path d="M443.6,191.3 L446.7,194.4 L443.6,197.5 L440.5,194.4 Z" fill="#9a4bbd" stroke="#333" stroke-width="0.5"/>
<path d="M437.6,194.9 L440.7,198.0 L437.6,201.1 L434.5,198.0 Z" fill="#9a4bbd" stroke="#333" stroke-width="0.5"/>
<path d="M446.6,211.3 L449.7,214.4 L446.6,217.5 L443.5,214.4 Z" fill="#9a4bbd" stroke="#333" stroke-width="0.5"/>
<path d="M465.0,165.5 L468.1,168.6 L465.0,171.7 L461.9,168.6 Z" fill="#9a4bbd" stroke="#333" stroke-width="0.5"/>
<path d="M470.0,162.5 L473.1,165.6 L470.0,168.7 L466.9,165.6 Z" fill="#9a4bbd" stroke="#333" stroke-width="0.5"/>
<path d="M489.4,167.9 L492.5,171.0 L489.4,174.1 L486.3,171.0 Z" fill="#9a4bbd" stroke="#333" stroke-width="0.5"/>
<path d="M506.6,172.9 L509.7,176.0 L506.6,179.1 L503.5,176.0 Z" fill="#9a4bbd" stroke="#333" stroke-width="0.5"/>
<path d="M506.6,177.9 L509.7,181.0 L506.6,184.1 L503.5,181.0 Z" fill="#9a4bbd" stroke="#333" stroke-width="0.5"/>
<path d="M455.0,179.9 L458.1,183.0 L455.0,186.1 L451.9,183.0 Z" fill="#9a4bbd" stroke="#333" stroke-width="0.5"/>
<path d="M453.0,184.5 L456.1,187.6 L453.0,190.7 L449.9,187.6 Z" fill="#9a4bbd" stroke="#333" stroke-width="0.5"/>
<path d="M453.6,188.5 L456.7,191.6 L453.6,194.7 L450.5,191.6 Z" fill="#9a4bbd" stroke="#333" stroke-width="0.5"/>
<path d="M487.4,188.5 L490.5,191.6 L487.4,194.7 L484.3,191.6 Z" fill="#9a4bbd" stroke="#333" stroke-width="0.5"/>
<path d="M453.0,201.9 L456.1,205.0 L453.0,208.1 L449.9,205.0 Z" fill="#9a4bbd" stroke="#333" stroke-width="0.5"/>
<path d="M457.0,199.9 L460.1,203.0 L457.0,206.1 L453.9,203.0 Z" fill="#9a4bbd" stroke="#333" stroke-width="0.5"/>
<path d="M455.6,207.9 L458.7,211.0 L455.6,214.1 L452.5,211.0 Z" fill="#9a4bbd" stroke="#333" stroke-width="0.5"/>
<path d="M453.4,219.5 L456.5,222.6 L453.4,225.7 L450.3,222.6 Z" fill="#9a4bbd" stroke="#333" stroke-width="0.5"/>
<path d="M466.0,219.9 L469.1,223.0 L466.0,226.1 L462.9,223.0 Z" fill="#9a4bbd" stroke="#333" stroke-width="0.5"/>
<path d="M486.6,216.9 L489.7,220.0 L486.6,223.1 L483.5,220.0 Z" fill="#9a4bbd" stroke="#333" stroke-width="0.5"/>
<path d="M454.6,258.9 L457.7,262.0 L454.6,265.1 L451.5,262.0 Z" fill="#9a4bbd" stroke="#333" stroke-width="0.5"/>
<path d="M525.4,170.3 L528.5,173.4 L525.4,176.5 L522.3,173.4 Z" fill="#9a4bbd" stroke="#333" stroke-width="0.5"/>
<path d="M515.4,190.3 L518.5,193.4 L515.4,196.5 L512.3,193.4 Z" fill="#9a4bbd" stroke="#333" stroke-width="0.5"/>
<path d="M519.4,194.9 L522.5,198.0 L519.4,201.1 L516.3,198.0 Z" fill="#9a4bbd" stroke="#333" stroke-width="0.5"/>
<path d="M511.6,208.5 L514.7,211.6 L511.6,214.7 L508.5,211.6 Z" fill="#9a4bbd" stroke="#333" stroke-width="0.5"/>
<path d="M521.4,245.3 L524.5,248.4 L521.4,251.5 L518.3,248.4 Z" fill="#9a4bbd" stroke="#333" stroke-width="0.5"/>
<path d="M441.4,204.5 L444.5,207.6 L441.4,210.7 L438.3,207.6 Z" fill="#ec5520" stroke="#333" stroke-width="0.5"/>
<path d="M455.0,193.3 L458.1,196.4 L455.0,199.5 L451.9,196.4 Z" fill="#ec5520" stroke="#333" stroke-width="0.5"/>
<path d="M483.4,202.9 L486.5,206.0 L483.4,209.1 L480.3,206.0 Z" fill="#ec5520" stroke="#333" stroke-width="0.5"/>
<path d="M491.4,200.3 L494.5,203.4 L491.4,206.5 L488.3,203.4 Z" fill="#ec5520" stroke="#333" stroke-width="0.5"/>
<path d="M471.6,210.5 L474.7,213.6 L471.6,216.7 L468.5,213.6 Z" fill="#ec5520" stroke="#333" stroke-width="0.5"/>
<path d="M479.6,225.3 L482.7,228.4 L479.6,231.5 L476.5,228.4 Z" fill="#ec5520" stroke="#333" stroke-width="0.5"/>
<path d="M486.6,238.5 L489.7,241.6 L486.6,244.7 L483.5,241.6 Z" fill="#ec5520" stroke="#333" stroke-width="0.5"/>
<path d="M483.6,246.3 L486.7,249.4 L483.6,252.5 L480.5,249.4 Z" fill="#ec5520" stroke="#333" stroke-width="0.5"/>
<path d="M494.0,271.5 L497.1,274.6 L494.0,277.7 L490.9,274.6 Z" fill="#ec5520" stroke="#333" stroke-width="0.5"/>
<path d="M518.6,183.3 L521.7,186.4 L518.6,189.5 L515.5,186.4 Z" fill="#ec5520" stroke="#333" stroke-width="0.5"/>
<path d="M548.0,185.5 L551.1,188.6 L548.0,191.7 L544.9,188.6 Z" fill="#ec5520" stroke="#333" stroke-width="0.5"/>
<path d="M548.0,190.3 L551.1,193.4 L548.0,196.5 L544.9,193.4 Z" fill="#ec5520" stroke="#333" stroke-width="0.5"/>
<path d="M542.4,208.9 L545.5,212.0 L542.4,215.1 L539.3,212.0 Z" fill="#ec5520" stroke="#333" stroke-width="0.5"/>
<path d="M558.4,211.5 L561.5,214.6 L558.4,217.7 L555.3,214.6 Z" fill="#ec5520" stroke="#333" stroke-width="0.5"/>
<path d="M540.4,221.3 L543.5,224.4 L540.4,227.5 L537.3,224.4 Z" fill="#ec5520" stroke="#333" stroke-width="0.5"/>
<path d="M567.6,218.3 L570.7,221.4 L567.6,224.5 L564.5,221.4 Z" fill="#ec5520" stroke="#333" stroke-width="0.5"/>
<path d="M565.6,221.9 L568.7,225.0 L565.6,228.1 L562.5,225.0 Z" fill="#ec5520" stroke="#333" stroke-width="0.5"/>
<path d="M570.4,234.5 L573.5,237.6 L570.4,240.7 L567.3,237.6 Z" fill="#ec5520" stroke="#333" stroke-width="0.5"/>
<path d="M513.4,233.3 L516.5,236.4 L513.4,239.5 L510.3,236.4 Z" fill="#ec5520" stroke="#333" stroke-width="0.5"/>
<path d="M513.0,239.5 L516.1,242.6 L513.0,245.7 L509.9,242.6 Z" fill="#ec5520" stroke="#333" stroke-width="0.5"/>
<path d="M533.4,238.5 L536.5,241.6 L533.4,244.7 L530.3,241.6 Z" fill="#ec5520" stroke="#333" stroke-width="0.5"/>
<path d="M524.6,251.3 L527.7,254.4 L524.6,257.5 L521.5,254.4 Z" fill="#ec5520" stroke="#333" stroke-width="0.5"/>
<path d="M531.0,255.9 L534.1,259.0 L531.0,262.1 L527.9,259.0 Z" fill="#ec5520" stroke="#333" stroke-width="0.5"/>
<path d="M540.0,256.5 L543.1,259.6 L540.0,262.7 L536.9,259.6 Z" fill="#ec5520" stroke="#333" stroke-width="0.5"/>
<path d="M545.0,252.5 L548.1,255.6 L545.0,258.7 L541.9,255.6 Z" fill="#ec5520" stroke="#333" stroke-width="0.5"/>
<path d="M554.4,250.9 L557.5,254.0 L554.4,257.1 L551.3,254.0 Z" fill="#ec5520" stroke="#333" stroke-width="0.5"/>
<path d="M559.4,256.5 L562.5,259.6 L559.4,262.7 L556.3,259.6 Z" fill="#ec5520" stroke="#333" stroke-width="0.5"/>
<path d="M525.4,259.5 L528.5,262.6 L525.4,265.7 L522.3,262.6 Z" fill="#ec5520" stroke="#333" stroke-width="0.5"/>
<path d="M536.0,260.9 L539.1,264.0 L536.0,267.1 L532.9,264.0 Z" fill="#ec5520" stroke="#333" stroke-width="0.5"/>
<path d="M288.4,261.9 L291.5,265.0 L288.4,268.1 L285.3,265.0 Z" fill="#ec5520" stroke="#333" stroke-width="0.5"/>
<path d="M415.6,213.9 L418.7,217.0 L415.6,220.1 L412.5,217.0 Z" fill="#f3d23a" stroke="#333" stroke-width="0.5"/>
<path d="M445.6,181.3 L448.7,184.4 L445.6,187.5 L442.5,184.4 Z" fill="#f3d23a" stroke="#333" stroke-width="0.5"/>
<path d="M433.6,201.9 L436.7,205.0 L433.6,208.1 L430.5,205.0 Z" fill="#f3d23a" stroke="#333" stroke-width="0.5"/>
<path d="M437.6,201.3 L440.7,204.4 L437.6,207.5 L434.5,204.4 Z" fill="#f3d23a" stroke="#333" stroke-width="0.5"/>
<path d="M451.0,201.9 L454.1,205.0 L451.0,208.1 L447.9,205.0 Z" fill="#f3d23a" stroke="#333" stroke-width="0.5"/>
<path d="M500.6,284.3 L503.7,287.4 L500.6,290.5 L497.5,287.4 Z" fill="#f3d23a" stroke="#333" stroke-width="0.5"/>
<path d="M539.6,208.9 L542.7,212.0 L539.6,215.1 L536.5,212.0 Z" fill="#f3d23a" stroke="#333" stroke-width="0.5"/>
<path d="M534.0,244.5 L537.1,247.6 L534.0,250.7 L530.9,247.6 Z" fill="#f3d23a" stroke="#333" stroke-width="0.5"/>
<path d="M543.4,244.5 L546.5,247.6 L543.4,250.7 L540.3,247.6 Z" fill="#f3d23a" stroke="#333" stroke-width="0.5"/>
<path d="M534.6,255.9 L537.7,259.0 L534.6,262.1 L531.5,259.0 Z" fill="#f3d23a" stroke="#333" stroke-width="0.5"/>
<path d="M545.4,256.5 L548.5,259.6 L545.4,262.7 L542.3,259.6 Z" fill="#f3d23a" stroke="#333" stroke-width="0.5"/>
<path d="M595.5,154.2 L599.1,157.8 L595.5,161.4 L591.9,157.8 Z" fill="none" stroke="#222" stroke-width="0.9"/>
<circle cx="595.5" cy="167.5" r="3.3" fill="none" stroke="#222" stroke-width="0.9"/>
<rect x="592.2" y="174.5" width="6.7" height="6.3" fill="#ec5520" stroke="#333" stroke-width="0.5"/>
<rect x="592.2" y="185.4" width="6.7" height="6.3" fill="#f3d23a" stroke="#333" stroke-width="0.5"/>
<rect x="592.2" y="197.4" width="6.7" height="6.3" fill="#9a4bbd" stroke="#333" stroke-width="0.5"/>
<text x="601.2" y="158.9" font-size="10" fill="#111" style="color:#111" text-anchor="start" >Nares</text>
<text x="601.2" y="169.9" font-size="10" fill="#111" style="color:#111" text-anchor="start" >Saliva</text>
<text x="601.2" y="180.7" font-size="10" fill="#111" style="color:#111" text-anchor="start" >Raw</text>
<text x="601.2" y="191.4" font-size="10" fill="#111" style="color:#111" text-anchor="start" >SHI-medium</text>
<text x="601.2" y="203.9" font-size="10" fill="#111" style="color:#111" text-anchor="start" >Day-30</text>
<text x="226.0" y="323.0" font-size="8.1" fill="#222" style="color:#222" text-anchor="start" >Genera</text>
<rect x="228.00" y="329.80" width="7.40" height="7.40" fill="#fabb3b" />
<text x="239.0" y="335.5" font-size="8.0" fill="#222" style="color:#222" text-anchor="start" >Haemophilus</text>
<rect x="291.60" y="329.80" width="7.40" height="7.40" fill="#e48d1c" />
<text x="302.4" y="335.5" font-size="8.0" fill="#222" style="color:#222" text-anchor="start" >Corynebacterium</text>
<rect x="369.60" y="329.80" width="7.40" height="7.40" fill="#f2e03d" />
<text x="380.4" y="335.5" font-size="8.0" fill="#222" style="color:#222" text-anchor="start" >Prevotella</text>
<rect x="422.00" y="329.80" width="7.40" height="7.40" fill="#67a541" />
<text x="432.4" y="335.5" font-size="8.0" fill="#222" style="color:#222" text-anchor="start" >Staphylococcus</text>
<rect x="494.40" y="329.80" width="7.40" height="7.40" fill="#5a9bd8" />
<text x="504.4" y="335.5" font-size="8.0" fill="#222" style="color:#222" text-anchor="start" >Klebsiella</text>
<rect x="545.40" y="329.80" width="7.40" height="7.40" fill="#8e3fb3" />
<text x="556.0" y="335.5" font-size="8.0" fill="#222" style="color:#222" text-anchor="start" >Streptococcus</text>
<rect x="228.40" y="342.40" width="7.40" height="7.40" fill="#8fe05e" />
<text x="239.4" y="347.6" font-size="8.0" fill="#222" style="color:#222" text-anchor="start" >Veillonella</text>
<rect x="288.00" y="342.40" width="7.40" height="7.40" fill="#e33b3f" />
<text x="298.4" y="347.6" font-size="8.0" fill="#222" style="color:#222" text-anchor="start" >Neisseria</text>
<rect x="344.40" y="342.40" width="7.40" height="7.40" fill="#58c6ea" />
<text x="355.0" y="347.6" font-size="8.0" fill="#222" style="color:#222" text-anchor="start" >Peptostreptococcus</text>
<rect x="438.00" y="342.40" width="7.40" height="7.40" fill="#b6bbbd" />
<text x="448.0" y="347.6" font-size="8.0" fill="#222" style="color:#222" text-anchor="start" >other</text>
<rect x="479.40" y="342.40" width="7.40" height="7.40" fill="#4f6672" />
<text x="489.4" y="347.6" font-size="8.0" fill="#222" style="color:#222" text-anchor="start" >unclassified</text>
<text x="193.0" y="369.3" font-size="13.5" fill="#000" style="color:#000" text-anchor="start" >D</text>
<text x="225.6" y="363.4" font-size="9.25" fill="#111" style="color:#111" text-anchor="start" >Nares Raw</text>
<g>
<rect x="240.00" y="439.29" width="5.56" height="37.31" fill="#67a541"/>
<rect x="240.00" y="436.09" width="5.56" height="3.20" fill="#b6bbbd"/>
<rect x="240.00" y="370.00" width="5.56" height="66.09" fill="#e48d1c"/>
<rect x="246.46" y="472.34" width="5.56" height="4.26" fill="#67a541"/>
<rect x="246.46" y="399.85" width="5.56" height="72.49" fill="#b6bbbd"/>
<rect x="246.46" y="370.00" width="5.56" height="29.85" fill="#e48d1c"/>
<rect x="252.93" y="475.00" width="5.56" height="1.60" fill="#8e3fb3"/>
<rect x="252.93" y="436.09" width="5.56" height="38.91" fill="#67a541"/>
<rect x="252.93" y="395.58" width="5.56" height="40.51" fill="#b6bbbd"/>
<rect x="252.93" y="370.00" width="5.56" height="25.58" fill="#e48d1c"/>
<rect x="259.39" y="475.53" width="5.56" height="1.07" fill="#8e3fb3"/>
<rect x="259.39" y="440.36" width="5.56" height="35.18" fill="#67a541"/>
<rect x="259.39" y="393.45" width="5.56" height="46.90" fill="#b6bbbd"/>
<rect x="259.39" y="370.00" width="5.56" height="23.45" fill="#e48d1c"/>
<rect x="265.85" y="471.27" width="5.56" height="5.33" fill="#4f6672"/>
<rect x="265.85" y="442.49" width="5.56" height="28.78" fill="#67a541"/>
<rect x="265.85" y="433.96" width="5.56" height="8.53" fill="#b6bbbd"/>
<rect x="265.85" y="370.00" width="5.56" height="63.96" fill="#e48d1c"/>
<rect x="272.32" y="472.34" width="5.56" height="4.26" fill="#8e3fb3"/>
<rect x="272.32" y="456.35" width="5.56" height="15.99" fill="#67a541"/>
<rect x="272.32" y="398.78" width="5.56" height="57.56" fill="#b6bbbd"/>
<rect x="272.32" y="370.00" width="5.56" height="28.78" fill="#e48d1c"/>
<rect x="278.78" y="454.21" width="5.56" height="22.39" fill="#8e3fb3"/>
<rect x="278.78" y="448.88" width="5.56" height="5.33" fill="#67a541"/>
<rect x="278.78" y="408.91" width="5.56" height="39.98" fill="#b6bbbd"/>
<rect x="278.78" y="370.00" width="5.56" height="38.91" fill="#e48d1c"/>
<rect x="285.24" y="469.14" width="5.56" height="7.46" fill="#8e3fb3"/>
<rect x="285.24" y="435.03" width="5.56" height="34.11" fill="#67a541"/>
<rect x="285.24" y="384.92" width="5.56" height="50.10" fill="#b6bbbd"/>
<rect x="285.24" y="383.86" width="5.56" height="1.07" fill="#e33b3f"/>
<rect x="285.24" y="382.79" width="5.56" height="1.07" fill="#f2e03d"/>
<rect x="285.24" y="370.00" width="5.56" height="12.79" fill="#e48d1c"/>
<rect x="291.71" y="469.14" width="5.56" height="7.46" fill="#67a541"/>
<rect x="291.71" y="435.03" width="5.56" height="34.11" fill="#b6bbbd"/>
<rect x="291.71" y="370.00" width="5.56" height="65.03" fill="#e48d1c"/>
<rect x="298.17" y="470.20" width="5.56" height="6.40" fill="#8e3fb3"/>
<rect x="298.17" y="427.56" width="5.56" height="42.64" fill="#67a541"/>
<rect x="298.17" y="404.64" width="5.56" height="22.92" fill="#b6bbbd"/>
<rect x="298.17" y="403.05" width="5.56" height="1.60" fill="#e33b3f"/>
<rect x="298.17" y="401.98" width="5.56" height="1.07" fill="#5a9bd8"/>
<rect x="298.17" y="400.91" width="5.56" height="1.07" fill="#f2e03d"/>
<rect x="298.17" y="370.00" width="5.56" height="30.91" fill="#e48d1c"/>
<rect x="304.63" y="474.47" width="5.56" height="2.13" fill="#8fe05e"/>
<rect x="304.63" y="427.03" width="5.56" height="47.44" fill="#8e3fb3"/>
<rect x="304.63" y="425.43" width="5.56" height="1.60" fill="#f2e03d"/>
<rect x="304.63" y="393.45" width="5.56" height="31.98" fill="#b6bbbd"/>
<rect x="304.63" y="384.92" width="5.56" height="8.53" fill="#e33b3f"/>
<rect x="304.63" y="370.00" width="5.56" height="14.92" fill="#fabb3b"/>
<rect x="311.10" y="475.53" width="5.56" height="1.07" fill="#4f6672"/>
<rect x="311.10" y="451.02" width="5.56" height="24.52" fill="#67a541"/>
<rect x="311.10" y="447.82" width="5.56" height="3.20" fill="#b6bbbd"/>
<rect x="311.10" y="442.49" width="5.56" height="5.33" fill="#5a9bd8"/>
<rect x="311.10" y="370.00" width="5.56" height="72.49" fill="#e48d1c"/>
<rect x="317.56" y="475.53" width="5.56" height="1.07" fill="#4f6672"/>
<rect x="317.56" y="469.14" width="5.56" height="6.40" fill="#67a541"/>
<rect x="317.56" y="382.79" width="5.56" height="86.35" fill="#b6bbbd"/>
<rect x="317.56" y="370.00" width="5.56" height="12.79" fill="#e48d1c"/>
<rect x="324.02" y="471.27" width="5.56" height="5.33" fill="#4f6672"/>
<rect x="324.02" y="447.29" width="5.56" height="23.99" fill="#67a541"/>
<rect x="324.02" y="420.10" width="5.56" height="27.18" fill="#b6bbbd"/>
<rect x="324.02" y="370.00" width="5.56" height="50.10" fill="#e48d1c"/>
<rect x="330.49" y="446.75" width="5.56" height="29.85" fill="#67a541"/>
<rect x="330.49" y="429.70" width="5.56" height="17.06" fill="#b6bbbd"/>
<rect x="330.49" y="370.00" width="5.56" height="59.70" fill="#e48d1c"/>
<rect x="336.95" y="460.61" width="5.56" height="15.99" fill="#8e3fb3"/>
<rect x="336.95" y="417.97" width="5.56" height="42.64" fill="#67a541"/>
<rect x="336.95" y="392.39" width="5.56" height="25.58" fill="#b6bbbd"/>
<rect x="336.95" y="370.00" width="5.56" height="22.39" fill="#e48d1c"/>
<rect x="343.41" y="473.40" width="5.56" height="3.20" fill="#4f6672"/>
<rect x="343.41" y="460.61" width="5.56" height="12.79" fill="#67a541"/>
<rect x="343.41" y="454.21" width="5.56" height="6.40" fill="#b6bbbd"/>
<rect x="343.41" y="370.00" width="5.56" height="84.21" fill="#e48d1c"/>
<rect x="349.88" y="474.47" width="5.56" height="2.13" fill="#4f6672"/>
<rect x="349.88" y="463.81" width="5.56" height="10.66" fill="#67a541"/>
<rect x="349.88" y="438.76" width="5.56" height="25.05" fill="#b6bbbd"/>
<rect x="349.88" y="370.00" width="5.56" height="68.76" fill="#e48d1c"/>
<rect x="356.34" y="399.85" width="5.56" height="76.75" fill="#67a541"/>
<rect x="356.34" y="380.66" width="5.56" height="19.19" fill="#b6bbbd"/>
<rect x="356.34" y="370.00" width="5.56" height="10.66" fill="#e48d1c"/>
<rect x="362.80" y="471.27" width="5.56" height="5.33" fill="#8e3fb3"/>
<rect x="362.80" y="417.97" width="5.56" height="53.30" fill="#67a541"/>
<rect x="362.80" y="400.91" width="5.56" height="17.06" fill="#b6bbbd"/>
<rect x="362.80" y="370.00" width="5.56" height="30.91" fill="#e48d1c"/>
<rect x="369.27" y="435.03" width="5.56" height="41.57" fill="#67a541"/>
<rect x="369.27" y="412.64" width="5.56" height="22.39" fill="#b6bbbd"/>
<rect x="369.27" y="370.00" width="5.56" height="42.64" fill="#e48d1c"/>
<rect x="375.73" y="475.53" width="5.56" height="1.07" fill="#8fe05e"/>
<rect x="375.73" y="387.06" width="5.56" height="88.48" fill="#b6bbbd"/>
<rect x="375.73" y="370.00" width="5.56" height="17.06" fill="#e48d1c"/>
<rect x="382.19" y="474.47" width="5.56" height="2.13" fill="#8e3fb3"/>
<rect x="382.19" y="408.38" width="5.56" height="66.09" fill="#67a541"/>
<rect x="382.19" y="375.86" width="5.56" height="32.51" fill="#b6bbbd"/>
<rect x="382.19" y="370.00" width="5.56" height="5.86" fill="#e48d1c"/>
<rect x="388.66" y="399.85" width="5.56" height="76.75" fill="#67a541"/>
<rect x="388.66" y="374.26" width="5.56" height="25.58" fill="#b6bbbd"/>
<rect x="388.66" y="370.00" width="5.56" height="4.26" fill="#e48d1c"/>
<rect x="395.12" y="452.08" width="5.56" height="24.52" fill="#67a541"/>
<rect x="395.12" y="392.92" width="5.56" height="59.16" fill="#b6bbbd"/>
<rect x="395.12" y="370.00" width="5.56" height="22.92" fill="#e48d1c"/>
<rect x="401.58" y="456.88" width="5.56" height="19.72" fill="#67a541"/>
<rect x="401.58" y="412.64" width="5.56" height="44.24" fill="#b6bbbd"/>
<rect x="401.58" y="370.00" width="5.56" height="42.64" fill="#e48d1c"/>
<rect x="408.05" y="475.53" width="5.56" height="1.07" fill="#8fe05e"/>
<rect x="408.05" y="473.40" width="5.56" height="2.13" fill="#8e3fb3"/>
<rect x="408.05" y="419.04" width="5.56" height="54.37" fill="#67a541"/>
<rect x="408.05" y="417.97" width="5.56" height="1.07" fill="#f2e03d"/>
<rect x="408.05" y="395.58" width="5.56" height="22.39" fill="#b6bbbd"/>
<rect x="408.05" y="370.00" width="5.56" height="25.58" fill="#e48d1c"/>
<rect x="414.51" y="475.53" width="5.56" height="1.07" fill="#4f6672"/>
<rect x="414.51" y="395.58" width="5.56" height="79.95" fill="#67a541"/>
<rect x="414.51" y="390.89" width="5.56" height="4.69" fill="#b6bbbd"/>
<rect x="414.51" y="370.00" width="5.56" height="20.89" fill="#e48d1c"/>
<rect x="420.97" y="418.50" width="5.56" height="58.10" fill="#67a541"/>
<rect x="420.97" y="416.90" width="5.56" height="1.60" fill="#f2e03d"/>
<rect x="420.97" y="390.89" width="5.56" height="26.01" fill="#b6bbbd"/>
<rect x="420.97" y="370.00" width="5.56" height="20.89" fill="#e48d1c"/>
<rect x="427.44" y="435.35" width="5.56" height="41.25" fill="#67a541"/>
<rect x="427.44" y="380.13" width="5.56" height="55.22" fill="#b6bbbd"/>
<rect x="427.44" y="370.00" width="5.56" height="10.13" fill="#e48d1c"/>
</g>
<line x1="239.0" y1="481.0" x2="435.4" y2="481.0" stroke="#555" stroke-width="1.2" />
<line x1="242.8" y1="481.0" x2="242.8" y2="483.0" stroke="#555" stroke-width="0.7" />
<line x1="249.2" y1="481.0" x2="249.2" y2="483.0" stroke="#555" stroke-width="0.7" />
<line x1="255.7" y1="481.0" x2="255.7" y2="483.0" stroke="#555" stroke-width="0.7" />
<line x1="262.2" y1="481.0" x2="262.2" y2="483.0" stroke="#555" stroke-width="0.7" />
<line x1="268.6" y1="481.0" x2="268.6" y2="483.0" stroke="#555" stroke-width="0.7" />
<line x1="275.1" y1="481.0" x2="275.1" y2="483.0" stroke="#555" stroke-width="0.7" />
<line x1="281.6" y1="481.0" x2="281.6" y2="483.0" stroke="#555" stroke-width="0.7" />
<line x1="288.0" y1="481.0" x2="288.0" y2="483.0" stroke="#555" stroke-width="0.7" />
<line x1="294.5" y1="481.0" x2="294.5" y2="483.0" stroke="#555" stroke-width="0.7" />
<line x1="301.0" y1="481.0" x2="301.0" y2="483.0" stroke="#555" stroke-width="0.7" />
<line x1="307.4" y1="481.0" x2="307.4" y2="483.0" stroke="#555" stroke-width="0.7" />
<line x1="313.9" y1="481.0" x2="313.9" y2="483.0" stroke="#555" stroke-width="0.7" />
<line x1="320.3" y1="481.0" x2="320.3" y2="483.0" stroke="#555" stroke-width="0.7" />
<line x1="326.8" y1="481.0" x2="326.8" y2="483.0" stroke="#555" stroke-width="0.7" />
<line x1="333.3" y1="481.0" x2="333.3" y2="483.0" stroke="#555" stroke-width="0.7" />
<line x1="339.7" y1="481.0" x2="339.7" y2="483.0" stroke="#555" stroke-width="0.7" />
<line x1="346.2" y1="481.0" x2="346.2" y2="483.0" stroke="#555" stroke-width="0.7" />
<line x1="352.7" y1="481.0" x2="352.7" y2="483.0" stroke="#555" stroke-width="0.7" />
<line x1="359.1" y1="481.0" x2="359.1" y2="483.0" stroke="#555" stroke-width="0.7" />
<line x1="365.6" y1="481.0" x2="365.6" y2="483.0" stroke="#555" stroke-width="0.7" />
<line x1="372.0" y1="481.0" x2="372.0" y2="483.0" stroke="#555" stroke-width="0.7" />
<line x1="378.5" y1="481.0" x2="378.5" y2="483.0" stroke="#555" stroke-width="0.7" />
<line x1="385.0" y1="481.0" x2="385.0" y2="483.0" stroke="#555" stroke-width="0.7" />
<line x1="391.4" y1="481.0" x2="391.4" y2="483.0" stroke="#555" stroke-width="0.7" />
<line x1="397.9" y1="481.0" x2="397.9" y2="483.0" stroke="#555" stroke-width="0.7" />
<line x1="404.4" y1="481.0" x2="404.4" y2="483.0" stroke="#555" stroke-width="0.7" />
<line x1="410.8" y1="481.0" x2="410.8" y2="483.0" stroke="#555" stroke-width="0.7" />
<line x1="417.3" y1="481.0" x2="417.3" y2="483.0" stroke="#555" stroke-width="0.7" />
<line x1="423.8" y1="481.0" x2="423.8" y2="483.0" stroke="#555" stroke-width="0.7" />
<line x1="430.2" y1="481.0" x2="430.2" y2="483.0" stroke="#555" stroke-width="0.7" />
<line x1="237.7" y1="369.0" x2="237.7" y2="481.0" stroke="#555" stroke-width="1.2" />
<line x1="235.7" y1="476.6" x2="237.7" y2="476.6" stroke="#555" stroke-width="0.7" />
<text x="234.9" y="479.8" font-size="9" fill="#555" style="color:#555" text-anchor="end" >0</text>
<line x1="235.7" y1="450.0" x2="237.7" y2="450.0" stroke="#555" stroke-width="0.7" />
<text x="234.9" y="453.2" font-size="9" fill="#555" style="color:#555" text-anchor="end" >25</text>
<line x1="235.7" y1="423.3" x2="237.7" y2="423.3" stroke="#555" stroke-width="0.7" />
<text x="234.9" y="426.5" font-size="9" fill="#555" style="color:#555" text-anchor="end" >50</text>
<line x1="235.7" y1="396.6" x2="237.7" y2="396.6" stroke="#555" stroke-width="0.7" />
<text x="234.9" y="399.8" font-size="9" fill="#555" style="color:#555" text-anchor="end" >75</text>
<line x1="235.7" y1="370.0" x2="237.7" y2="370.0" stroke="#555" stroke-width="0.7" />
<text x="234.9" y="373.2" font-size="9" fill="#555" style="color:#555" text-anchor="end" >100</text>
<text x="0" y="0" font-size="10.3" fill="#222" text-anchor="middle" transform="translate(216.2,423.3) rotate(-90)">Relative Abundance (%)</text>
<text x="193.5" y="497.5" font-size="13.5" fill="#000" style="color:#000" text-anchor="start" >E</text>
<text x="226.6" y="494.0" font-size="9.25" fill="#111" style="color:#111" text-anchor="start" >Nares Day-30</text>
<g>
<rect x="240.00" y="563.01" width="5.56" height="43.79" fill="#67a541"/>
<rect x="240.00" y="500.00" width="5.56" height="63.01" fill="#e48d1c"/>
<rect x="246.46" y="585.01" width="5.56" height="21.79" fill="#67a541"/>
<rect x="246.46" y="500.00" width="5.56" height="85.01" fill="#e48d1c"/>
<rect x="252.93" y="605.52" width="5.56" height="1.28" fill="#4f6672"/>
<rect x="252.93" y="530.97" width="5.56" height="74.55" fill="#b6bbbd"/>
<rect x="252.93" y="500.00" width="5.56" height="30.97" fill="#e48d1c"/>
<rect x="259.39" y="575.83" width="5.56" height="30.97" fill="#67a541"/>
<rect x="259.39" y="569.42" width="5.56" height="6.41" fill="#b6bbbd"/>
<rect x="259.39" y="500.00" width="5.56" height="69.42" fill="#e48d1c"/>
<rect x="265.85" y="600.07" width="5.56" height="6.73" fill="#4f6672"/>
<rect x="265.85" y="582.24" width="5.56" height="17.84" fill="#67a541"/>
<rect x="265.85" y="574.76" width="5.56" height="7.48" fill="#b6bbbd"/>
<rect x="265.85" y="500.00" width="5.56" height="74.76" fill="#e48d1c"/>
<rect x="272.32" y="588.11" width="5.56" height="18.69" fill="#8e3fb3"/>
<rect x="272.32" y="564.08" width="5.56" height="24.03" fill="#67a541"/>
<rect x="272.32" y="559.81" width="5.56" height="4.27" fill="#b6bbbd"/>
<rect x="272.32" y="500.00" width="5.56" height="59.81" fill="#e48d1c"/>
<rect x="278.78" y="591.85" width="5.56" height="14.95" fill="#67a541"/>
<rect x="278.78" y="550.20" width="5.56" height="41.65" fill="#b6bbbd"/>
<rect x="278.78" y="500.00" width="5.56" height="50.20" fill="#e48d1c"/>
<rect x="285.24" y="552.33" width="5.56" height="54.47" fill="#4f6672"/>
<rect x="285.24" y="500.00" width="5.56" height="52.33" fill="#b6bbbd"/>
<rect x="291.71" y="600.07" width="5.56" height="6.73" fill="#4f6672"/>
<rect x="291.71" y="585.44" width="5.56" height="14.63" fill="#b6bbbd"/>
<rect x="291.71" y="512.82" width="5.56" height="72.62" fill="#5a9bd8"/>
<rect x="291.71" y="500.00" width="5.56" height="12.82" fill="#e48d1c"/>
<rect x="298.17" y="569.42" width="5.56" height="37.38" fill="#4f6672"/>
<rect x="298.17" y="565.68" width="5.56" height="3.74" fill="#8e3fb3"/>
<rect x="298.17" y="552.12" width="5.56" height="13.56" fill="#b6bbbd"/>
<rect x="298.17" y="501.07" width="5.56" height="51.05" fill="#5a9bd8"/>
<rect x="298.17" y="500.00" width="5.56" height="1.07" fill="#e48d1c"/>
<rect x="304.63" y="589.71" width="5.56" height="17.09" fill="#4f6672"/>
<rect x="304.63" y="500.00" width="5.56" height="89.71" fill="#5a9bd8"/>
<rect x="311.10" y="592.92" width="5.56" height="13.88" fill="#4f6672"/>
<rect x="311.10" y="500.00" width="5.56" height="92.92" fill="#5a9bd8"/>
<rect x="317.56" y="559.81" width="5.56" height="46.99" fill="#67a541"/>
<rect x="317.56" y="500.00" width="5.56" height="59.81" fill="#e48d1c"/>
<rect x="324.02" y="558.74" width="5.56" height="48.06" fill="#67a541"/>
<rect x="324.02" y="548.06" width="5.56" height="10.68" fill="#b6bbbd"/>
<rect x="324.02" y="500.00" width="5.56" height="48.06" fill="#e48d1c"/>
<rect x="330.49" y="604.66" width="5.56" height="2.14" fill="#67a541"/>
<rect x="330.49" y="552.33" width="5.56" height="52.33" fill="#b6bbbd"/>
<rect x="330.49" y="500.00" width="5.56" height="52.33" fill="#e48d1c"/>
<rect x="336.95" y="606.16" width="5.56" height="0.64" fill="#f2e03d"/>
<rect x="336.95" y="510.68" width="5.56" height="95.48" fill="#b6bbbd"/>
<rect x="336.95" y="500.00" width="5.56" height="10.68" fill="#e48d1c"/>
<rect x="343.41" y="600.39" width="5.56" height="6.41" fill="#4f6672"/>
<rect x="343.41" y="596.12" width="5.56" height="4.27" fill="#67a541"/>
<rect x="343.41" y="527.77" width="5.56" height="68.35" fill="#b6bbbd"/>
<rect x="343.41" y="500.00" width="5.56" height="27.77" fill="#e48d1c"/>
<rect x="349.88" y="505.34" width="5.56" height="101.46" fill="#4f6672"/>
<rect x="349.88" y="503.20" width="5.56" height="2.14" fill="#b6bbbd"/>
<rect x="349.88" y="500.00" width="5.56" height="3.20" fill="#e48d1c"/>
<rect x="356.34" y="567.28" width="5.56" height="39.52" fill="#4f6672"/>
<rect x="356.34" y="506.41" width="5.56" height="60.88" fill="#b6bbbd"/>
<rect x="356.34" y="500.00" width="5.56" height="6.41" fill="#e48d1c"/>
<rect x="362.80" y="571.56" width="5.56" height="35.24" fill="#8e3fb3"/>
<rect x="362.80" y="549.13" width="5.56" height="22.43" fill="#67a541"/>
<rect x="362.80" y="545.92" width="5.56" height="3.20" fill="#b6bbbd"/>
<rect x="362.80" y="500.00" width="5.56" height="45.92" fill="#e48d1c"/>
<rect x="369.27" y="539.52" width="5.56" height="67.28" fill="#b6bbbd"/>
<rect x="369.27" y="500.00" width="5.56" height="39.52" fill="#e48d1c"/>
<rect x="375.73" y="600.39" width="5.56" height="6.41" fill="#4f6672"/>
<rect x="375.73" y="581.60" width="5.56" height="18.80" fill="#67a541"/>
<rect x="375.73" y="507.48" width="5.56" height="74.12" fill="#b6bbbd"/>
<rect x="375.73" y="500.00" width="5.56" height="7.48" fill="#e48d1c"/>
<rect x="382.19" y="563.01" width="5.56" height="43.79" fill="#67a541"/>
<rect x="382.19" y="551.26" width="5.56" height="11.75" fill="#b6bbbd"/>
<rect x="382.19" y="500.00" width="5.56" height="51.26" fill="#e48d1c"/>
<rect x="388.66" y="579.03" width="5.56" height="27.77" fill="#4f6672"/>
<rect x="388.66" y="569.42" width="5.56" height="9.61" fill="#67a541"/>
<rect x="388.66" y="549.13" width="5.56" height="20.29" fill="#b6bbbd"/>
<rect x="388.66" y="501.07" width="5.56" height="48.06" fill="#5a9bd8"/>
<rect x="388.66" y="500.00" width="5.56" height="1.07" fill="#e48d1c"/>
<rect x="395.12" y="559.81" width="5.56" height="46.99" fill="#67a541"/>
<rect x="395.12" y="556.60" width="5.56" height="3.20" fill="#b6bbbd"/>
<rect x="395.12" y="500.00" width="5.56" height="56.60" fill="#e48d1c"/>
<rect x="401.58" y="580.10" width="5.56" height="26.70" fill="#8e3fb3"/>
<rect x="401.58" y="578.50" width="5.56" height="1.60" fill="#67a541"/>
<rect x="401.58" y="500.00" width="5.56" height="78.50" fill="#e48d1c"/>
<rect x="408.05" y="600.39" width="5.56" height="6.41" fill="#4f6672"/>
<rect x="408.05" y="579.03" width="5.56" height="21.36" fill="#8e3fb3"/>
<rect x="408.05" y="577.32" width="5.56" height="1.71" fill="#67a541"/>
<rect x="408.05" y="503.20" width="5.56" height="74.12" fill="#b6bbbd"/>
<rect x="408.05" y="500.00" width="5.56" height="3.20" fill="#e48d1c"/>
<rect x="414.51" y="596.12" width="5.56" height="10.68" fill="#4f6672"/>
<rect x="414.51" y="592.92" width="5.56" height="3.20" fill="#67a541"/>
<rect x="414.51" y="563.01" width="5.56" height="29.90" fill="#b6bbbd"/>
<rect x="414.51" y="500.00" width="5.56" height="63.01" fill="#e48d1c"/>
<rect x="420.97" y="605.73" width="5.56" height="1.07" fill="#4f6672"/>
<rect x="420.97" y="569.42" width="5.56" height="36.31" fill="#b6bbbd"/>
<rect x="420.97" y="500.00" width="5.56" height="69.42" fill="#e48d1c"/>
<rect x="427.44" y="500.00" width="5.56" height="106.80" fill="#67a541"/>
</g>
<line x1="239.0" y1="611.3" x2="435.4" y2="611.3" stroke="#555" stroke-width="1.2" />
<line x1="242.8" y1="611.3" x2="242.8" y2="613.3" stroke="#555" stroke-width="0.7" />
<line x1="249.2" y1="611.3" x2="249.2" y2="613.3" stroke="#555" stroke-width="0.7" />
<line x1="255.7" y1="611.3" x2="255.7" y2="613.3" stroke="#555" stroke-width="0.7" />
<line x1="262.2" y1="611.3" x2="262.2" y2="613.3" stroke="#555" stroke-width="0.7" />
<line x1="268.6" y1="611.3" x2="268.6" y2="613.3" stroke="#555" stroke-width="0.7" />
<line x1="275.1" y1="611.3" x2="275.1" y2="613.3" stroke="#555" stroke-width="0.7" />
<line x1="281.6" y1="611.3" x2="281.6" y2="613.3" stroke="#555" stroke-width="0.7" />
<line x1="288.0" y1="611.3" x2="288.0" y2="613.3" stroke="#555" stroke-width="0.7" />
<line x1="294.5" y1="611.3" x2="294.5" y2="613.3" stroke="#555" stroke-width="0.7" />
<line x1="301.0" y1="611.3" x2="301.0" y2="613.3" stroke="#555" stroke-width="0.7" />
<line x1="307.4" y1="611.3" x2="307.4" y2="613.3" stroke="#555" stroke-width="0.7" />
<line x1="313.9" y1="611.3" x2="313.9" y2="613.3" stroke="#555" stroke-width="0.7" />
<line x1="320.3" y1="611.3" x2="320.3" y2="613.3" stroke="#555" stroke-width="0.7" />
<line x1="326.8" y1="611.3" x2="326.8" y2="613.3" stroke="#555" stroke-width="0.7" />
<line x1="333.3" y1="611.3" x2="333.3" y2="613.3" stroke="#555" stroke-width="0.7" />
<line x1="339.7" y1="611.3" x2="339.7" y2="613.3" stroke="#555" stroke-width="0.7" />
<line x1="346.2" y1="611.3" x2="346.2" y2="613.3" stroke="#555" stroke-width="0.7" />
<line x1="352.7" y1="611.3" x2="352.7" y2="613.3" stroke="#555" stroke-width="0.7" />
<line x1="359.1" y1="611.3" x2="359.1" y2="613.3" stroke="#555" stroke-width="0.7" />
<line x1="365.6" y1="611.3" x2="365.6" y2="613.3" stroke="#555" stroke-width="0.7" />
<line x1="372.0" y1="611.3" x2="372.0" y2="613.3" stroke="#555" stroke-width="0.7" />
<line x1="378.5" y1="611.3" x2="378.5" y2="613.3" stroke="#555" stroke-width="0.7" />
<line x1="385.0" y1="611.3" x2="385.0" y2="613.3" stroke="#555" stroke-width="0.7" />
<line x1="391.4" y1="611.3" x2="391.4" y2="613.3" stroke="#555" stroke-width="0.7" />
<line x1="397.9" y1="611.3" x2="397.9" y2="613.3" stroke="#555" stroke-width="0.7" />
<line x1="404.4" y1="611.3" x2="404.4" y2="613.3" stroke="#555" stroke-width="0.7" />
<line x1="410.8" y1="611.3" x2="410.8" y2="613.3" stroke="#555" stroke-width="0.7" />
<line x1="417.3" y1="611.3" x2="417.3" y2="613.3" stroke="#555" stroke-width="0.7" />
<line x1="423.8" y1="611.3" x2="423.8" y2="613.3" stroke="#555" stroke-width="0.7" />
<line x1="430.2" y1="611.3" x2="430.2" y2="613.3" stroke="#555" stroke-width="0.7" />
<line x1="236.8" y1="499.0" x2="236.8" y2="611.3" stroke="#555" stroke-width="1.2" />
<line x1="234.8" y1="606.8" x2="236.8" y2="606.8" stroke="#555" stroke-width="0.7" />
<text x="234.0" y="610.0" font-size="9" fill="#555" style="color:#555" text-anchor="end" >0</text>
<line x1="234.8" y1="580.1" x2="236.8" y2="580.1" stroke="#555" stroke-width="0.7" />
<text x="234.0" y="583.3" font-size="9" fill="#555" style="color:#555" text-anchor="end" >25</text>
<line x1="234.8" y1="553.4" x2="236.8" y2="553.4" stroke="#555" stroke-width="0.7" />
<text x="234.0" y="556.6" font-size="9" fill="#555" style="color:#555" text-anchor="end" >50</text>
<line x1="234.8" y1="526.7" x2="236.8" y2="526.7" stroke="#555" stroke-width="0.7" />
<text x="234.0" y="529.9" font-size="9" fill="#555" style="color:#555" text-anchor="end" >75</text>
<line x1="234.8" y1="500.0" x2="236.8" y2="500.0" stroke="#555" stroke-width="0.7" />
<text x="234.0" y="503.2" font-size="9" fill="#555" style="color:#555" text-anchor="end" >100</text>
<text x="0" y="0" font-size="10.3" fill="#222" text-anchor="middle" transform="translate(215.3,553.4) rotate(-90)">Relative Abundance (%)</text>
<text x="0" y="0" font-size="7.2" fill="#555" text-anchor="end" transform="translate(245.3,614.8) rotate(-90)">N1</text>
<text x="0" y="0" font-size="7.2" fill="#555" text-anchor="end" transform="translate(251.7,614.8) rotate(-90)">N2</text>
<text x="0" y="0" font-size="7.2" fill="#555" text-anchor="end" transform="translate(258.2,614.8) rotate(-90)">N3</text>
<text x="0" y="0" font-size="7.2" fill="#555" text-anchor="end" transform="translate(264.7,614.8) rotate(-90)">N4</text>
<text x="0" y="0" font-size="7.2" fill="#555" text-anchor="end" transform="translate(271.1,614.8) rotate(-90)">N5</text>
<text x="0" y="0" font-size="7.2" fill="#555" text-anchor="end" transform="translate(277.6,614.8) rotate(-90)">N6</text>
<text x="0" y="0" font-size="7.2" fill="#555" text-anchor="end" transform="translate(284.1,614.8) rotate(-90)">N7</text>
<text x="0" y="0" font-size="7.2" fill="#555" text-anchor="end" transform="translate(290.5,614.8) rotate(-90)">N8</text>
<text x="0" y="0" font-size="7.2" fill="#555" text-anchor="end" transform="translate(297.0,614.8) rotate(-90)">N9</text>
<text x="0" y="0" font-size="7.2" fill="#555" text-anchor="end" transform="translate(303.5,614.8) rotate(-90)">N10</text>
<text x="0" y="0" font-size="7.2" fill="#555" text-anchor="end" transform="translate(309.9,614.8) rotate(-90)">N11</text>
<text x="0" y="0" font-size="7.2" fill="#555" text-anchor="end" transform="translate(316.4,614.8) rotate(-90)">N12</text>
<text x="0" y="0" font-size="7.2" fill="#555" text-anchor="end" transform="translate(322.8,614.8) rotate(-90)">N13</text>
<text x="0" y="0" font-size="7.2" fill="#555" text-anchor="end" transform="translate(329.3,614.8) rotate(-90)">N14</text>
<text x="0" y="0" font-size="7.2" fill="#555" text-anchor="end" transform="translate(335.8,614.8) rotate(-90)">N15</text>
<text x="0" y="0" font-size="7.2" fill="#555" text-anchor="end" transform="translate(342.2,614.8) rotate(-90)">1N6</text>
<text x="0" y="0" font-size="7.2" fill="#555" text-anchor="end" transform="translate(348.7,614.8) rotate(-90)">N17</text>
<text x="0" y="0" font-size="7.2" fill="#555" text-anchor="end" transform="translate(355.2,614.8) rotate(-90)">N18</text>
<text x="0" y="0" font-size="7.2" fill="#555" text-anchor="end" transform="translate(361.6,614.8) rotate(-90)">N19</text>
<text x="0" y="0" font-size="7.2" fill="#555" text-anchor="end" transform="translate(368.1,614.8) rotate(-90)">N20</text>
<text x="0" y="0" font-size="7.2" fill="#555" text-anchor="end" transform="translate(374.5,614.8) rotate(-90)">N21</text>
<text x="0" y="0" font-size="7.2" fill="#555" text-anchor="end" transform="translate(381.0,614.8) rotate(-90)">N22</text>
<text x="0" y="0" font-size="7.2" fill="#555" text-anchor="end" transform="translate(387.5,614.8) rotate(-90)">N23</text>
<text x="0" y="0" font-size="7.2" fill="#555" text-anchor="end" transform="translate(393.9,614.8) rotate(-90)">N24</text>
<text x="0" y="0" font-size="7.2" fill="#555" text-anchor="end" transform="translate(400.4,614.8) rotate(-90)">N25</text>
<text x="0" y="0" font-size="7.2" fill="#555" text-anchor="end" transform="translate(406.9,614.8) rotate(-90)">N26</text>
<text x="0" y="0" font-size="7.2" fill="#555" text-anchor="end" transform="translate(413.3,614.8) rotate(-90)">N27</text>
<text x="0" y="0" font-size="7.2" fill="#555" text-anchor="end" transform="translate(419.8,614.8) rotate(-90)">N28</text>
<text x="0" y="0" font-size="7.2" fill="#555" text-anchor="end" transform="translate(426.3,614.8) rotate(-90)">N29</text>
<text x="0" y="0" font-size="7.2" fill="#555" text-anchor="end" transform="translate(432.7,614.8) rotate(-90)">N30</text>
<text x="443.4" y="369.0" font-size="13.5" fill="#000" style="color:#000" text-anchor="start" >F</text>
<text x="458.0" y="364.4" font-size="9.25" fill="#111" style="color:#111" text-anchor="start" >Saliva Raw</text>
<g>
<rect x="458.00" y="470.55" width="5.57" height="5.85" fill="#8fe05e"/>
<rect x="458.00" y="449.80" width="5.57" height="20.75" fill="#8e3fb3"/>
<rect x="458.00" y="442.35" width="5.57" height="7.45" fill="#f2e03d"/>
<rect x="458.00" y="441.29" width="5.57" height="1.06" fill="#58c6ea"/>
<rect x="458.00" y="389.58" width="5.57" height="51.71" fill="#b6bbbd"/>
<rect x="458.00" y="379.36" width="5.57" height="10.21" fill="#e33b3f"/>
<rect x="458.00" y="370.00" width="5.57" height="9.36" fill="#fabb3b"/>
<rect x="464.47" y="473.21" width="5.57" height="3.19" fill="#8fe05e"/>
<rect x="464.47" y="452.35" width="5.57" height="20.85" fill="#8e3fb3"/>
<rect x="464.47" y="449.37" width="5.57" height="2.98" fill="#f2e03d"/>
<rect x="464.47" y="409.05" width="5.57" height="40.33" fill="#b6bbbd"/>
<rect x="464.47" y="384.36" width="5.57" height="24.68" fill="#e33b3f"/>
<rect x="464.47" y="370.00" width="5.57" height="14.36" fill="#fabb3b"/>
<rect x="470.93" y="470.02" width="5.57" height="6.38" fill="#8fe05e"/>
<rect x="470.93" y="446.61" width="5.57" height="23.41" fill="#8e3fb3"/>
<rect x="470.93" y="434.05" width="5.57" height="12.56" fill="#f2e03d"/>
<rect x="470.93" y="432.78" width="5.57" height="1.28" fill="#58c6ea"/>
<rect x="470.93" y="390.00" width="5.57" height="42.77" fill="#b6bbbd"/>
<rect x="470.93" y="383.62" width="5.57" height="6.38" fill="#e33b3f"/>
<rect x="470.93" y="370.00" width="5.57" height="13.62" fill="#fabb3b"/>
<rect x="477.40" y="473.21" width="5.57" height="3.19" fill="#8fe05e"/>
<rect x="477.40" y="463.95" width="5.57" height="9.26" fill="#8e3fb3"/>
<rect x="477.40" y="459.59" width="5.57" height="4.36" fill="#f2e03d"/>
<rect x="477.40" y="457.04" width="5.57" height="2.55" fill="#58c6ea"/>
<rect x="477.40" y="407.98" width="5.57" height="49.05" fill="#b6bbbd"/>
<rect x="477.40" y="384.36" width="5.57" height="23.62" fill="#e33b3f"/>
<rect x="477.40" y="370.00" width="5.57" height="14.36" fill="#fabb3b"/>
<rect x="483.87" y="474.27" width="5.57" height="2.13" fill="#8fe05e"/>
<rect x="483.87" y="440.97" width="5.57" height="33.30" fill="#8e3fb3"/>
<rect x="483.87" y="439.69" width="5.57" height="1.28" fill="#f2e03d"/>
<rect x="483.87" y="392.98" width="5.57" height="46.71" fill="#b6bbbd"/>
<rect x="483.87" y="382.02" width="5.57" height="10.96" fill="#e33b3f"/>
<rect x="483.87" y="370.00" width="5.57" height="12.02" fill="#fabb3b"/>
<rect x="490.33" y="471.08" width="5.57" height="5.32" fill="#8fe05e"/>
<rect x="490.33" y="454.06" width="5.57" height="17.02" fill="#8e3fb3"/>
<rect x="490.33" y="442.99" width="5.57" height="11.07" fill="#f2e03d"/>
<rect x="490.33" y="441.29" width="5.57" height="1.70" fill="#58c6ea"/>
<rect x="490.33" y="392.02" width="5.57" height="49.26" fill="#b6bbbd"/>
<rect x="490.33" y="378.41" width="5.57" height="13.62" fill="#e33b3f"/>
<rect x="490.33" y="370.00" width="5.57" height="8.41" fill="#fabb3b"/>
<rect x="496.80" y="471.08" width="5.57" height="5.32" fill="#8fe05e"/>
<rect x="496.80" y="447.99" width="5.57" height="23.09" fill="#8e3fb3"/>
<rect x="496.80" y="442.35" width="5.57" height="5.64" fill="#f2e03d"/>
<rect x="496.80" y="441.29" width="5.57" height="1.06" fill="#58c6ea"/>
<rect x="496.80" y="388.41" width="5.57" height="52.88" fill="#b6bbbd"/>
<rect x="496.80" y="385.00" width="5.57" height="3.40" fill="#e33b3f"/>
<rect x="496.80" y="370.00" width="5.57" height="15.00" fill="#fabb3b"/>
<rect x="503.27" y="471.08" width="5.57" height="5.32" fill="#8fe05e"/>
<rect x="503.27" y="450.97" width="5.57" height="20.11" fill="#8e3fb3"/>
<rect x="503.27" y="447.99" width="5.57" height="2.98" fill="#f2e03d"/>
<rect x="503.27" y="396.60" width="5.57" height="51.39" fill="#b6bbbd"/>
<rect x="503.27" y="385.00" width="5.57" height="11.60" fill="#e33b3f"/>
<rect x="503.27" y="370.00" width="5.57" height="15.00" fill="#fabb3b"/>
<rect x="509.73" y="472.14" width="5.57" height="4.26" fill="#8fe05e"/>
<rect x="509.73" y="455.01" width="5.57" height="17.13" fill="#8e3fb3"/>
<rect x="509.73" y="450.01" width="5.57" height="5.00" fill="#f2e03d"/>
<rect x="509.73" y="448.74" width="5.57" height="1.28" fill="#58c6ea"/>
<rect x="509.73" y="395.00" width="5.57" height="53.73" fill="#b6bbbd"/>
<rect x="509.73" y="380.96" width="5.57" height="14.04" fill="#e33b3f"/>
<rect x="509.73" y="370.00" width="5.57" height="10.96" fill="#fabb3b"/>
<rect x="516.20" y="470.02" width="5.57" height="6.38" fill="#8fe05e"/>
<rect x="516.20" y="446.61" width="5.57" height="23.41" fill="#8e3fb3"/>
<rect x="516.20" y="437.99" width="5.57" height="8.62" fill="#f2e03d"/>
<rect x="516.20" y="383.62" width="5.57" height="54.37" fill="#b6bbbd"/>
<rect x="516.20" y="379.36" width="5.57" height="4.26" fill="#e33b3f"/>
<rect x="516.20" y="370.00" width="5.57" height="9.36" fill="#fabb3b"/>
<rect x="522.67" y="467.89" width="5.57" height="8.51" fill="#8fe05e"/>
<rect x="522.67" y="455.01" width="5.57" height="12.87" fill="#8e3fb3"/>
<rect x="522.67" y="450.44" width="5.57" height="4.58" fill="#f2e03d"/>
<rect x="522.67" y="376.60" width="5.57" height="73.84" fill="#b6bbbd"/>
<rect x="522.67" y="374.36" width="5.57" height="2.23" fill="#e33b3f"/>
<rect x="522.67" y="370.00" width="5.57" height="4.36" fill="#fabb3b"/>
<rect x="529.13" y="467.89" width="5.57" height="8.51" fill="#8fe05e"/>
<rect x="529.13" y="454.06" width="5.57" height="13.83" fill="#8e3fb3"/>
<rect x="529.13" y="449.80" width="5.57" height="4.26" fill="#f2e03d"/>
<rect x="529.13" y="376.38" width="5.57" height="73.42" fill="#b6bbbd"/>
<rect x="529.13" y="374.26" width="5.57" height="2.13" fill="#e33b3f"/>
<rect x="529.13" y="370.00" width="5.57" height="4.26" fill="#fabb3b"/>
<rect x="535.60" y="472.14" width="5.57" height="4.26" fill="#8fe05e"/>
<rect x="535.60" y="442.56" width="5.57" height="29.58" fill="#8e3fb3"/>
<rect x="535.60" y="427.99" width="5.57" height="14.58" fill="#f2e03d"/>
<rect x="535.60" y="425.43" width="5.57" height="2.55" fill="#58c6ea"/>
<rect x="535.60" y="372.45" width="5.57" height="52.99" fill="#b6bbbd"/>
<rect x="535.60" y="370.00" width="5.57" height="2.45" fill="#fabb3b"/>
<rect x="542.07" y="473.21" width="5.57" height="3.19" fill="#8fe05e"/>
<rect x="542.07" y="444.48" width="5.57" height="28.73" fill="#8e3fb3"/>
<rect x="542.07" y="443.42" width="5.57" height="1.06" fill="#f2e03d"/>
<rect x="542.07" y="390.00" width="5.57" height="53.41" fill="#b6bbbd"/>
<rect x="542.07" y="377.98" width="5.57" height="12.02" fill="#e33b3f"/>
<rect x="542.07" y="370.00" width="5.57" height="7.98" fill="#fabb3b"/>
<rect x="548.53" y="474.27" width="5.57" height="2.13" fill="#8fe05e"/>
<rect x="548.53" y="434.05" width="5.57" height="40.22" fill="#8e3fb3"/>
<rect x="548.53" y="430.97" width="5.57" height="3.09" fill="#f2e03d"/>
<rect x="548.53" y="430.12" width="5.57" height="0.85" fill="#58c6ea"/>
<rect x="548.53" y="382.98" width="5.57" height="47.14" fill="#b6bbbd"/>
<rect x="548.53" y="379.04" width="5.57" height="3.94" fill="#e33b3f"/>
<rect x="548.53" y="370.00" width="5.57" height="9.04" fill="#fabb3b"/>
<rect x="555.00" y="471.08" width="5.57" height="5.32" fill="#8fe05e"/>
<rect x="555.00" y="452.99" width="5.57" height="18.09" fill="#8e3fb3"/>
<rect x="555.00" y="447.67" width="5.57" height="5.32" fill="#f2e03d"/>
<rect x="555.00" y="446.61" width="5.57" height="1.06" fill="#58c6ea"/>
<rect x="555.00" y="389.05" width="5.57" height="57.56" fill="#b6bbbd"/>
<rect x="555.00" y="379.04" width="5.57" height="10.00" fill="#e33b3f"/>
<rect x="555.00" y="370.00" width="5.57" height="9.04" fill="#fabb3b"/>
<rect x="561.47" y="467.57" width="5.57" height="8.83" fill="#8fe05e"/>
<rect x="561.47" y="440.97" width="5.57" height="26.60" fill="#8e3fb3"/>
<rect x="561.47" y="435.01" width="5.57" height="5.96" fill="#f2e03d"/>
<rect x="561.47" y="382.98" width="5.57" height="52.03" fill="#b6bbbd"/>
<rect x="561.47" y="380.00" width="5.57" height="2.98" fill="#e33b3f"/>
<rect x="561.47" y="370.00" width="5.57" height="10.00" fill="#fabb3b"/>
<rect x="567.93" y="472.36" width="5.57" height="4.04" fill="#8fe05e"/>
<rect x="567.93" y="456.61" width="5.57" height="15.75" fill="#8e3fb3"/>
<rect x="567.93" y="450.01" width="5.57" height="6.60" fill="#f2e03d"/>
<rect x="567.93" y="446.82" width="5.57" height="3.19" fill="#58c6ea"/>
<rect x="567.93" y="385.96" width="5.57" height="60.86" fill="#b6bbbd"/>
<rect x="567.93" y="375.00" width="5.57" height="10.96" fill="#e33b3f"/>
<rect x="567.93" y="370.00" width="5.57" height="5.00" fill="#fabb3b"/>
<rect x="574.40" y="473.21" width="5.57" height="3.19" fill="#8fe05e"/>
<rect x="574.40" y="460.01" width="5.57" height="13.19" fill="#8e3fb3"/>
<rect x="574.40" y="454.38" width="5.57" height="5.64" fill="#f2e03d"/>
<rect x="574.40" y="453.20" width="5.57" height="1.17" fill="#58c6ea"/>
<rect x="574.40" y="395.00" width="5.57" height="58.20" fill="#b6bbbd"/>
<rect x="574.40" y="384.04" width="5.57" height="10.96" fill="#e33b3f"/>
<rect x="574.40" y="370.00" width="5.57" height="14.04" fill="#fabb3b"/>
<rect x="580.87" y="463.63" width="5.57" height="12.77" fill="#8fe05e"/>
<rect x="580.87" y="446.61" width="5.57" height="17.02" fill="#8e3fb3"/>
<rect x="580.87" y="425.65" width="5.57" height="20.96" fill="#f2e03d"/>
<rect x="580.87" y="375.00" width="5.57" height="50.65" fill="#b6bbbd"/>
<rect x="580.87" y="374.04" width="5.57" height="0.96" fill="#e33b3f"/>
<rect x="580.87" y="370.00" width="5.57" height="4.04" fill="#fabb3b"/>
<rect x="587.33" y="465.02" width="5.57" height="11.38" fill="#8fe05e"/>
<rect x="587.33" y="442.35" width="5.57" height="22.66" fill="#8e3fb3"/>
<rect x="587.33" y="437.03" width="5.57" height="5.32" fill="#f2e03d"/>
<rect x="587.33" y="399.05" width="5.57" height="37.98" fill="#b6bbbd"/>
<rect x="587.33" y="380.43" width="5.57" height="18.62" fill="#e33b3f"/>
<rect x="587.33" y="370.00" width="5.57" height="10.43" fill="#fabb3b"/>
<rect x="593.80" y="464.70" width="5.57" height="11.70" fill="#8fe05e"/>
<rect x="593.80" y="435.97" width="5.57" height="28.73" fill="#8e3fb3"/>
<rect x="593.80" y="425.97" width="5.57" height="10.00" fill="#f2e03d"/>
<rect x="593.80" y="381.70" width="5.57" height="44.26" fill="#b6bbbd"/>
<rect x="593.80" y="375.96" width="5.57" height="5.75" fill="#e33b3f"/>
<rect x="593.80" y="370.00" width="5.57" height="5.96" fill="#fabb3b"/>
<rect x="600.27" y="473.21" width="5.57" height="3.19" fill="#8fe05e"/>
<rect x="600.27" y="444.48" width="5.57" height="28.73" fill="#8e3fb3"/>
<rect x="600.27" y="437.03" width="5.57" height="7.45" fill="#f2e03d"/>
<rect x="600.27" y="435.65" width="5.57" height="1.38" fill="#58c6ea"/>
<rect x="600.27" y="383.62" width="5.57" height="52.03" fill="#b6bbbd"/>
<rect x="600.27" y="379.04" width="5.57" height="4.58" fill="#e33b3f"/>
<rect x="600.27" y="370.00" width="5.57" height="9.04" fill="#fabb3b"/>
<rect x="606.73" y="463.63" width="5.57" height="12.77" fill="#8fe05e"/>
<rect x="606.73" y="442.99" width="5.57" height="20.64" fill="#8e3fb3"/>
<rect x="606.73" y="433.63" width="5.57" height="9.36" fill="#f2e03d"/>
<rect x="606.73" y="370.53" width="5.57" height="63.10" fill="#b6bbbd"/>
<rect x="606.73" y="370.00" width="5.57" height="0.53" fill="#fabb3b"/>
<rect x="613.20" y="470.02" width="5.57" height="6.38" fill="#8fe05e"/>
<rect x="613.20" y="448.95" width="5.57" height="21.07" fill="#8e3fb3"/>
<rect x="613.20" y="442.03" width="5.57" height="6.92" fill="#f2e03d"/>
<rect x="613.20" y="382.45" width="5.57" height="59.58" fill="#b6bbbd"/>
<rect x="613.20" y="377.02" width="5.57" height="5.43" fill="#e33b3f"/>
<rect x="613.20" y="370.00" width="5.57" height="7.02" fill="#fabb3b"/>
<rect x="619.67" y="470.02" width="5.57" height="6.38" fill="#8fe05e"/>
<rect x="619.67" y="456.40" width="5.57" height="13.62" fill="#8e3fb3"/>
<rect x="619.67" y="445.44" width="5.57" height="10.96" fill="#f2e03d"/>
<rect x="619.67" y="443.20" width="5.57" height="2.23" fill="#58c6ea"/>
<rect x="619.67" y="382.98" width="5.57" height="60.22" fill="#b6bbbd"/>
<rect x="619.67" y="373.62" width="5.57" height="9.36" fill="#e33b3f"/>
<rect x="619.67" y="370.00" width="5.57" height="3.62" fill="#fabb3b"/>
<rect x="626.13" y="467.04" width="5.57" height="9.36" fill="#8fe05e"/>
<rect x="626.13" y="437.35" width="5.57" height="29.69" fill="#8e3fb3"/>
<rect x="626.13" y="432.03" width="5.57" height="5.32" fill="#f2e03d"/>
<rect x="626.13" y="383.62" width="5.57" height="48.41" fill="#b6bbbd"/>
<rect x="626.13" y="380.00" width="5.57" height="3.62" fill="#e33b3f"/>
<rect x="626.13" y="370.00" width="5.57" height="10.00" fill="#fabb3b"/>
<rect x="632.60" y="474.27" width="5.57" height="2.13" fill="#8fe05e"/>
<rect x="632.60" y="423.63" width="5.57" height="50.65" fill="#8e3fb3"/>
<rect x="632.60" y="370.53" width="5.57" height="53.09" fill="#b6bbbd"/>
<rect x="632.60" y="370.00" width="5.57" height="0.53" fill="#e33b3f"/>
<rect x="639.07" y="474.27" width="5.57" height="2.13" fill="#8fe05e"/>
<rect x="639.07" y="463.42" width="5.57" height="10.85" fill="#8e3fb3"/>
<rect x="639.07" y="457.99" width="5.57" height="5.43" fill="#f2e03d"/>
<rect x="639.07" y="457.25" width="5.57" height="0.74" fill="#58c6ea"/>
<rect x="639.07" y="407.03" width="5.57" height="50.22" fill="#b6bbbd"/>
<rect x="639.07" y="380.96" width="5.57" height="26.07" fill="#e33b3f"/>
<rect x="639.07" y="370.00" width="5.57" height="10.96" fill="#fabb3b"/>
<rect x="645.53" y="474.27" width="5.57" height="2.13" fill="#8fe05e"/>
<rect x="645.53" y="426.39" width="5.57" height="47.88" fill="#8e3fb3"/>
<rect x="645.53" y="422.35" width="5.57" height="4.04" fill="#f2e03d"/>
<rect x="645.53" y="379.04" width="5.57" height="43.30" fill="#b6bbbd"/>
<rect x="645.53" y="375.00" width="5.57" height="4.04" fill="#e33b3f"/>
<rect x="645.53" y="370.00" width="5.57" height="5.00" fill="#fabb3b"/>
</g>
<line x1="457.0" y1="482.0" x2="653.5" y2="482.0" stroke="#555" stroke-width="1.2" />
<line x1="460.8" y1="482.0" x2="460.8" y2="484.0" stroke="#555" stroke-width="0.7" />
<line x1="467.2" y1="482.0" x2="467.2" y2="484.0" stroke="#555" stroke-width="0.7" />
<line x1="473.7" y1="482.0" x2="473.7" y2="484.0" stroke="#555" stroke-width="0.7" />
<line x1="480.2" y1="482.0" x2="480.2" y2="484.0" stroke="#555" stroke-width="0.7" />
<line x1="486.7" y1="482.0" x2="486.7" y2="484.0" stroke="#555" stroke-width="0.7" />
<line x1="493.1" y1="482.0" x2="493.1" y2="484.0" stroke="#555" stroke-width="0.7" />
<line x1="499.6" y1="482.0" x2="499.6" y2="484.0" stroke="#555" stroke-width="0.7" />
<line x1="506.1" y1="482.0" x2="506.1" y2="484.0" stroke="#555" stroke-width="0.7" />
<line x1="512.5" y1="482.0" x2="512.5" y2="484.0" stroke="#555" stroke-width="0.7" />
<line x1="519.0" y1="482.0" x2="519.0" y2="484.0" stroke="#555" stroke-width="0.7" />
<line x1="525.4" y1="482.0" x2="525.4" y2="484.0" stroke="#555" stroke-width="0.7" />
<line x1="531.9" y1="482.0" x2="531.9" y2="484.0" stroke="#555" stroke-width="0.7" />
<line x1="538.4" y1="482.0" x2="538.4" y2="484.0" stroke="#555" stroke-width="0.7" />
<line x1="544.8" y1="482.0" x2="544.8" y2="484.0" stroke="#555" stroke-width="0.7" />
<line x1="551.3" y1="482.0" x2="551.3" y2="484.0" stroke="#555" stroke-width="0.7" />
<line x1="557.8" y1="482.0" x2="557.8" y2="484.0" stroke="#555" stroke-width="0.7" />
<line x1="564.2" y1="482.0" x2="564.2" y2="484.0" stroke="#555" stroke-width="0.7" />
<line x1="570.7" y1="482.0" x2="570.7" y2="484.0" stroke="#555" stroke-width="0.7" />
<line x1="577.2" y1="482.0" x2="577.2" y2="484.0" stroke="#555" stroke-width="0.7" />
<line x1="583.6" y1="482.0" x2="583.6" y2="484.0" stroke="#555" stroke-width="0.7" />
<line x1="590.1" y1="482.0" x2="590.1" y2="484.0" stroke="#555" stroke-width="0.7" />
<line x1="596.6" y1="482.0" x2="596.6" y2="484.0" stroke="#555" stroke-width="0.7" />
<line x1="603.0" y1="482.0" x2="603.0" y2="484.0" stroke="#555" stroke-width="0.7" />
<line x1="609.5" y1="482.0" x2="609.5" y2="484.0" stroke="#555" stroke-width="0.7" />
<line x1="616.0" y1="482.0" x2="616.0" y2="484.0" stroke="#555" stroke-width="0.7" />
<line x1="622.4" y1="482.0" x2="622.4" y2="484.0" stroke="#555" stroke-width="0.7" />
<line x1="628.9" y1="482.0" x2="628.9" y2="484.0" stroke="#555" stroke-width="0.7" />
<line x1="635.4" y1="482.0" x2="635.4" y2="484.0" stroke="#555" stroke-width="0.7" />
<line x1="641.8" y1="482.0" x2="641.8" y2="484.0" stroke="#555" stroke-width="0.7" />
<line x1="648.3" y1="482.0" x2="648.3" y2="484.0" stroke="#555" stroke-width="0.7" />
<text x="443.5" y="497.0" font-size="13.5" fill="#000" style="color:#000" text-anchor="start" >G</text>
<text x="457.9" y="494.0" font-size="9.25" fill="#111" style="color:#111" text-anchor="start" >Saliva Day-30</text>
<g>
<rect x="458.00" y="601.61" width="5.57" height="4.59" fill="#8fe05e"/>
<rect x="458.00" y="586.98" width="5.57" height="14.63" fill="#8e3fb3"/>
<rect x="458.00" y="584.84" width="5.57" height="2.14" fill="#67a541"/>
<rect x="458.00" y="575.55" width="5.57" height="9.29" fill="#f2e03d"/>
<rect x="458.00" y="564.55" width="5.57" height="11.00" fill="#58c6ea"/>
<rect x="458.00" y="520.76" width="5.57" height="43.79" fill="#b6bbbd"/>
<rect x="458.00" y="506.88" width="5.57" height="13.88" fill="#e33b3f"/>
<rect x="458.00" y="499.40" width="5.57" height="7.48" fill="#fabb3b"/>
<rect x="464.47" y="603.00" width="5.57" height="3.20" fill="#8fe05e"/>
<rect x="464.47" y="592.74" width="5.57" height="10.25" fill="#8e3fb3"/>
<rect x="464.47" y="591.25" width="5.57" height="1.50" fill="#67a541"/>
<rect x="464.47" y="587.40" width="5.57" height="3.84" fill="#f2e03d"/>
<rect x="464.47" y="551.30" width="5.57" height="36.10" fill="#58c6ea"/>
<rect x="464.47" y="518.84" width="5.57" height="32.47" fill="#b6bbbd"/>
<rect x="464.47" y="502.82" width="5.57" height="16.02" fill="#e33b3f"/>
<rect x="464.47" y="499.40" width="5.57" height="3.42" fill="#fabb3b"/>
<rect x="470.93" y="598.40" width="5.57" height="7.80" fill="#8fe05e"/>
<rect x="470.93" y="592.00" width="5.57" height="6.41" fill="#8e3fb3"/>
<rect x="470.93" y="582.17" width="5.57" height="9.83" fill="#f2e03d"/>
<rect x="470.93" y="557.71" width="5.57" height="24.46" fill="#58c6ea"/>
<rect x="470.93" y="514.67" width="5.57" height="43.04" fill="#b6bbbd"/>
<rect x="470.93" y="502.82" width="5.57" height="11.85" fill="#e33b3f"/>
<rect x="470.93" y="499.40" width="5.57" height="3.42" fill="#fabb3b"/>
<rect x="477.40" y="603.00" width="5.57" height="3.20" fill="#8fe05e"/>
<rect x="477.40" y="596.59" width="5.57" height="6.41" fill="#4f6672"/>
<rect x="477.40" y="594.99" width="5.57" height="1.60" fill="#f2e03d"/>
<rect x="477.40" y="584.73" width="5.57" height="10.25" fill="#58c6ea"/>
<rect x="477.40" y="505.59" width="5.57" height="79.14" fill="#b6bbbd"/>
<rect x="477.40" y="500.47" width="5.57" height="5.13" fill="#e33b3f"/>
<rect x="477.40" y="499.40" width="5.57" height="1.07" fill="#fabb3b"/>
<rect x="483.87" y="601.93" width="5.57" height="4.27" fill="#8fe05e"/>
<rect x="483.87" y="599.36" width="5.57" height="2.56" fill="#4f6672"/>
<rect x="483.87" y="574.37" width="5.57" height="24.99" fill="#8e3fb3"/>
<rect x="483.87" y="569.14" width="5.57" height="5.23" fill="#f2e03d"/>
<rect x="483.87" y="567.32" width="5.57" height="1.82" fill="#58c6ea"/>
<rect x="483.87" y="525.67" width="5.57" height="41.65" fill="#b6bbbd"/>
<rect x="483.87" y="503.99" width="5.57" height="21.68" fill="#e33b3f"/>
<rect x="483.87" y="499.40" width="5.57" height="4.59" fill="#fabb3b"/>
<rect x="490.33" y="598.40" width="5.57" height="7.80" fill="#8fe05e"/>
<rect x="490.33" y="589.11" width="5.57" height="9.29" fill="#8e3fb3"/>
<rect x="490.33" y="582.38" width="5.57" height="6.73" fill="#f2e03d"/>
<rect x="490.33" y="561.13" width="5.57" height="21.25" fill="#58c6ea"/>
<rect x="490.33" y="513.82" width="5.57" height="47.31" fill="#b6bbbd"/>
<rect x="490.33" y="502.39" width="5.57" height="11.43" fill="#e33b3f"/>
<rect x="490.33" y="499.40" width="5.57" height="2.99" fill="#fabb3b"/>
<rect x="496.80" y="597.23" width="5.57" height="8.97" fill="#8fe05e"/>
<rect x="496.80" y="592.53" width="5.57" height="4.70" fill="#8e3fb3"/>
<rect x="496.80" y="590.18" width="5.57" height="2.35" fill="#f2e03d"/>
<rect x="496.80" y="569.89" width="5.57" height="20.29" fill="#58c6ea"/>
<rect x="496.80" y="538.92" width="5.57" height="30.97" fill="#b6bbbd"/>
<rect x="496.80" y="503.99" width="5.57" height="34.92" fill="#e33b3f"/>
<rect x="496.80" y="499.40" width="5.57" height="4.59" fill="#fabb3b"/>
<rect x="503.27" y="597.23" width="5.57" height="8.97" fill="#8fe05e"/>
<rect x="503.27" y="577.79" width="5.57" height="19.44" fill="#8e3fb3"/>
<rect x="503.27" y="573.31" width="5.57" height="4.49" fill="#f2e03d"/>
<rect x="503.27" y="571.49" width="5.57" height="1.82" fill="#58c6ea"/>
<rect x="503.27" y="539.88" width="5.57" height="31.61" fill="#b6bbbd"/>
<rect x="503.27" y="503.99" width="5.57" height="35.88" fill="#e33b3f"/>
<rect x="503.27" y="499.40" width="5.57" height="4.59" fill="#fabb3b"/>
<rect x="509.73" y="603.00" width="5.57" height="3.20" fill="#8fe05e"/>
<rect x="509.73" y="598.83" width="5.57" height="4.17" fill="#4f6672"/>
<rect x="509.73" y="594.77" width="5.57" height="4.06" fill="#8e3fb3"/>
<rect x="509.73" y="593.17" width="5.57" height="1.60" fill="#f2e03d"/>
<rect x="509.73" y="570.96" width="5.57" height="22.21" fill="#58c6ea"/>
<rect x="509.73" y="513.07" width="5.57" height="57.89" fill="#b6bbbd"/>
<rect x="509.73" y="502.82" width="5.57" height="10.25" fill="#e33b3f"/>
<rect x="509.73" y="499.40" width="5.57" height="3.42" fill="#fabb3b"/>
<rect x="516.20" y="603.00" width="5.57" height="3.20" fill="#8fe05e"/>
<rect x="516.20" y="597.76" width="5.57" height="5.23" fill="#8e3fb3"/>
<rect x="516.20" y="595.41" width="5.57" height="2.35" fill="#f2e03d"/>
<rect x="516.20" y="565.72" width="5.57" height="29.69" fill="#58c6ea"/>
<rect x="516.20" y="520.76" width="5.57" height="44.96" fill="#b6bbbd"/>
<rect x="516.20" y="502.82" width="5.57" height="17.94" fill="#e33b3f"/>
<rect x="516.20" y="499.40" width="5.57" height="3.42" fill="#fabb3b"/>
<rect x="522.67" y="601.93" width="5.57" height="4.27" fill="#8fe05e"/>
<rect x="522.67" y="592.53" width="5.57" height="9.40" fill="#4f6672"/>
<rect x="522.67" y="582.92" width="5.57" height="9.61" fill="#8e3fb3"/>
<rect x="522.67" y="582.17" width="5.57" height="0.75" fill="#f2e03d"/>
<rect x="522.67" y="563.48" width="5.57" height="18.69" fill="#58c6ea"/>
<rect x="522.67" y="530.37" width="5.57" height="33.11" fill="#b6bbbd"/>
<rect x="522.67" y="514.35" width="5.57" height="16.02" fill="#e33b3f"/>
<rect x="522.67" y="499.40" width="5.57" height="14.95" fill="#fabb3b"/>
<rect x="529.13" y="596.59" width="5.57" height="9.61" fill="#8fe05e"/>
<rect x="529.13" y="583.34" width="5.57" height="13.24" fill="#4f6672"/>
<rect x="529.13" y="552.69" width="5.57" height="30.65" fill="#8e3fb3"/>
<rect x="529.13" y="551.30" width="5.57" height="1.39" fill="#58c6ea"/>
<rect x="529.13" y="505.59" width="5.57" height="45.71" fill="#b6bbbd"/>
<rect x="529.13" y="502.82" width="5.57" height="2.78" fill="#e33b3f"/>
<rect x="529.13" y="499.40" width="5.57" height="3.42" fill="#fabb3b"/>
<rect x="535.60" y="601.93" width="5.57" height="4.27" fill="#8fe05e"/>
<rect x="535.60" y="589.33" width="5.57" height="12.60" fill="#8e3fb3"/>
<rect x="535.60" y="582.17" width="5.57" height="7.16" fill="#f2e03d"/>
<rect x="535.60" y="562.31" width="5.57" height="19.86" fill="#58c6ea"/>
<rect x="535.60" y="510.19" width="5.57" height="52.12" fill="#b6bbbd"/>
<rect x="535.60" y="502.39" width="5.57" height="7.80" fill="#e33b3f"/>
<rect x="535.60" y="499.40" width="5.57" height="2.99" fill="#fabb3b"/>
<rect x="542.07" y="601.93" width="5.57" height="4.27" fill="#8fe05e"/>
<rect x="542.07" y="593.17" width="5.57" height="8.76" fill="#8e3fb3"/>
<rect x="542.07" y="590.93" width="5.57" height="2.24" fill="#f2e03d"/>
<rect x="542.07" y="543.51" width="5.57" height="47.42" fill="#58c6ea"/>
<rect x="542.07" y="508.58" width="5.57" height="34.92" fill="#b6bbbd"/>
<rect x="542.07" y="501.64" width="5.57" height="6.94" fill="#e33b3f"/>
<rect x="542.07" y="499.40" width="5.57" height="2.24" fill="#fabb3b"/>
<rect x="548.53" y="604.06" width="5.57" height="2.14" fill="#8fe05e"/>
<rect x="548.53" y="601.93" width="5.57" height="2.14" fill="#4f6672"/>
<rect x="548.53" y="581.74" width="5.57" height="20.19" fill="#8e3fb3"/>
<rect x="548.53" y="578.33" width="5.57" height="3.42" fill="#f2e03d"/>
<rect x="548.53" y="565.08" width="5.57" height="13.24" fill="#58c6ea"/>
<rect x="548.53" y="509.23" width="5.57" height="55.86" fill="#b6bbbd"/>
<rect x="548.53" y="503.67" width="5.57" height="5.55" fill="#e33b3f"/>
<rect x="548.53" y="499.40" width="5.57" height="4.27" fill="#fabb3b"/>
<rect x="555.00" y="604.06" width="5.57" height="2.14" fill="#8fe05e"/>
<rect x="555.00" y="598.40" width="5.57" height="5.66" fill="#8e3fb3"/>
<rect x="555.00" y="596.59" width="5.57" height="1.82" fill="#f2e03d"/>
<rect x="555.00" y="564.12" width="5.57" height="32.47" fill="#58c6ea"/>
<rect x="555.00" y="505.59" width="5.57" height="58.53" fill="#b6bbbd"/>
<rect x="555.00" y="501.64" width="5.57" height="3.95" fill="#e33b3f"/>
<rect x="555.00" y="499.40" width="5.57" height="2.24" fill="#fabb3b"/>
<rect x="561.47" y="604.06" width="5.57" height="2.14" fill="#8fe05e"/>
<rect x="561.47" y="591.57" width="5.57" height="12.50" fill="#8e3fb3"/>
<rect x="561.47" y="585.16" width="5.57" height="6.41" fill="#f2e03d"/>
<rect x="561.47" y="559.53" width="5.57" height="25.63" fill="#58c6ea"/>
<rect x="561.47" y="513.07" width="5.57" height="46.46" fill="#b6bbbd"/>
<rect x="561.47" y="503.24" width="5.57" height="9.83" fill="#e33b3f"/>
<rect x="561.47" y="499.40" width="5.57" height="3.84" fill="#fabb3b"/>
<rect x="567.93" y="600.01" width="5.57" height="6.19" fill="#8fe05e"/>
<rect x="567.93" y="592.74" width="5.57" height="7.26" fill="#8e3fb3"/>
<rect x="567.93" y="587.40" width="5.57" height="5.34" fill="#f2e03d"/>
<rect x="567.93" y="566.36" width="5.57" height="21.04" fill="#58c6ea"/>
<rect x="567.93" y="518.84" width="5.57" height="47.53" fill="#b6bbbd"/>
<rect x="567.93" y="502.39" width="5.57" height="16.45" fill="#e33b3f"/>
<rect x="567.93" y="499.40" width="5.57" height="2.99" fill="#fabb3b"/>
<rect x="574.40" y="596.16" width="5.57" height="10.04" fill="#8fe05e"/>
<rect x="574.40" y="589.33" width="5.57" height="6.84" fill="#8e3fb3"/>
<rect x="574.40" y="580.57" width="5.57" height="8.76" fill="#f2e03d"/>
<rect x="574.40" y="577.15" width="5.57" height="3.42" fill="#58c6ea"/>
<rect x="574.40" y="525.67" width="5.57" height="51.48" fill="#b6bbbd"/>
<rect x="574.40" y="504.74" width="5.57" height="20.93" fill="#e33b3f"/>
<rect x="574.40" y="499.40" width="5.57" height="5.34" fill="#fabb3b"/>
<rect x="580.87" y="599.79" width="5.57" height="6.41" fill="#8fe05e"/>
<rect x="580.87" y="593.81" width="5.57" height="5.98" fill="#8e3fb3"/>
<rect x="580.87" y="587.40" width="5.57" height="6.41" fill="#f2e03d"/>
<rect x="580.87" y="575.98" width="5.57" height="11.43" fill="#58c6ea"/>
<rect x="580.87" y="509.65" width="5.57" height="66.32" fill="#b6bbbd"/>
<rect x="580.87" y="503.57" width="5.57" height="6.09" fill="#e33b3f"/>
<rect x="580.87" y="499.40" width="5.57" height="4.17" fill="#fabb3b"/>
<rect x="587.33" y="604.06" width="5.57" height="2.14" fill="#8fe05e"/>
<rect x="587.33" y="594.99" width="5.57" height="9.08" fill="#8e3fb3"/>
<rect x="587.33" y="586.98" width="5.57" height="8.01" fill="#f2e03d"/>
<rect x="587.33" y="543.51" width="5.57" height="43.47" fill="#58c6ea"/>
<rect x="587.33" y="516.06" width="5.57" height="27.45" fill="#b6bbbd"/>
<rect x="587.33" y="503.57" width="5.57" height="12.50" fill="#e33b3f"/>
<rect x="587.33" y="499.40" width="5.57" height="4.17" fill="#fabb3b"/>
<rect x="593.80" y="601.93" width="5.57" height="4.27" fill="#8fe05e"/>
<rect x="593.80" y="598.40" width="5.57" height="3.52" fill="#4f6672"/>
<rect x="593.80" y="594.35" width="5.57" height="4.06" fill="#8e3fb3"/>
<rect x="593.80" y="592.00" width="5.57" height="2.35" fill="#f2e03d"/>
<rect x="593.80" y="575.55" width="5.57" height="16.45" fill="#58c6ea"/>
<rect x="593.80" y="518.41" width="5.57" height="57.14" fill="#b6bbbd"/>
<rect x="593.80" y="502.82" width="5.57" height="15.59" fill="#e33b3f"/>
<rect x="593.80" y="499.40" width="5.57" height="3.42" fill="#fabb3b"/>
<rect x="600.27" y="601.93" width="5.57" height="4.27" fill="#8fe05e"/>
<rect x="600.27" y="592.74" width="5.57" height="9.18" fill="#8e3fb3"/>
<rect x="600.27" y="586.34" width="5.57" height="6.41" fill="#f2e03d"/>
<rect x="600.27" y="533.04" width="5.57" height="53.29" fill="#58c6ea"/>
<rect x="600.27" y="510.83" width="5.57" height="22.21" fill="#b6bbbd"/>
<rect x="600.27" y="506.24" width="5.57" height="4.59" fill="#e33b3f"/>
<rect x="600.27" y="499.40" width="5.57" height="6.84" fill="#fabb3b"/>
<rect x="606.73" y="593.17" width="5.57" height="13.03" fill="#8fe05e"/>
<rect x="606.73" y="586.34" width="5.57" height="6.84" fill="#8e3fb3"/>
<rect x="606.73" y="577.79" width="5.57" height="8.54" fill="#f2e03d"/>
<rect x="606.73" y="560.49" width="5.57" height="17.30" fill="#58c6ea"/>
<rect x="606.73" y="509.65" width="5.57" height="50.84" fill="#b6bbbd"/>
<rect x="606.73" y="506.24" width="5.57" height="3.42" fill="#e33b3f"/>
<rect x="606.73" y="501.54" width="5.57" height="4.70" fill="#e48d1c"/>
<rect x="606.73" y="499.40" width="5.57" height="2.14" fill="#fabb3b"/>
<rect x="613.20" y="602.36" width="5.57" height="3.84" fill="#8fe05e"/>
<rect x="613.20" y="548.10" width="5.57" height="54.25" fill="#4f6672"/>
<rect x="613.20" y="538.28" width="5.57" height="9.83" fill="#8e3fb3"/>
<rect x="613.20" y="533.04" width="5.57" height="5.23" fill="#f2e03d"/>
<rect x="613.20" y="526.85" width="5.57" height="6.19" fill="#58c6ea"/>
<rect x="613.20" y="506.24" width="5.57" height="20.61" fill="#b6bbbd"/>
<rect x="613.20" y="503.67" width="5.57" height="2.56" fill="#e33b3f"/>
<rect x="613.20" y="499.40" width="5.57" height="4.27" fill="#fabb3b"/>
<rect x="619.67" y="599.36" width="5.57" height="6.84" fill="#8fe05e"/>
<rect x="619.67" y="593.17" width="5.57" height="6.19" fill="#8e3fb3"/>
<rect x="619.67" y="585.59" width="5.57" height="7.58" fill="#f2e03d"/>
<rect x="619.67" y="548.10" width="5.57" height="37.49" fill="#58c6ea"/>
<rect x="619.67" y="506.24" width="5.57" height="41.87" fill="#b6bbbd"/>
<rect x="619.67" y="501.64" width="5.57" height="4.59" fill="#e33b3f"/>
<rect x="619.67" y="499.40" width="5.57" height="2.24" fill="#fabb3b"/>
<rect x="626.13" y="604.60" width="5.57" height="1.60" fill="#8fe05e"/>
<rect x="626.13" y="589.33" width="5.57" height="15.27" fill="#8e3fb3"/>
<rect x="626.13" y="585.16" width="5.57" height="4.17" fill="#f2e03d"/>
<rect x="626.13" y="564.55" width="5.57" height="20.61" fill="#58c6ea"/>
<rect x="626.13" y="534.86" width="5.57" height="29.69" fill="#b6bbbd"/>
<rect x="626.13" y="527.49" width="5.57" height="7.37" fill="#e33b3f"/>
<rect x="626.13" y="503.99" width="5.57" height="23.50" fill="#5a9bd8"/>
<rect x="626.13" y="499.40" width="5.57" height="4.59" fill="#fabb3b"/>
<rect x="632.60" y="597.02" width="5.57" height="9.18" fill="#8fe05e"/>
<rect x="632.60" y="581.74" width="5.57" height="15.27" fill="#8e3fb3"/>
<rect x="632.60" y="573.73" width="5.57" height="8.01" fill="#f2e03d"/>
<rect x="632.60" y="524.60" width="5.57" height="49.13" fill="#b6bbbd"/>
<rect x="632.60" y="511.47" width="5.57" height="13.14" fill="#e33b3f"/>
<rect x="632.60" y="499.40" width="5.57" height="12.07" fill="#fabb3b"/>
<rect x="639.07" y="600.86" width="5.57" height="5.34" fill="#8fe05e"/>
<rect x="639.07" y="595.41" width="5.57" height="5.45" fill="#4f6672"/>
<rect x="639.07" y="586.98" width="5.57" height="8.44" fill="#8e3fb3"/>
<rect x="639.07" y="583.34" width="5.57" height="3.63" fill="#f2e03d"/>
<rect x="639.07" y="570.32" width="5.57" height="13.03" fill="#58c6ea"/>
<rect x="639.07" y="516.59" width="5.57" height="53.72" fill="#b6bbbd"/>
<rect x="639.07" y="510.83" width="5.57" height="5.77" fill="#e33b3f"/>
<rect x="639.07" y="499.40" width="5.57" height="11.43" fill="#fabb3b"/>
<rect x="645.53" y="601.61" width="5.57" height="4.59" fill="#8fe05e"/>
<rect x="645.53" y="596.16" width="5.57" height="5.45" fill="#8e3fb3"/>
<rect x="645.53" y="512.00" width="5.57" height="84.16" fill="#b6bbbd"/>
<rect x="645.53" y="505.17" width="5.57" height="6.84" fill="#e33b3f"/>
<rect x="645.53" y="499.40" width="5.57" height="5.77" fill="#fabb3b"/>
</g>
<line x1="457.0" y1="611.4" x2="653.5" y2="611.4" stroke="#555" stroke-width="1.2" />
<line x1="460.8" y1="611.4" x2="460.8" y2="613.4" stroke="#555" stroke-width="0.7" />
<line x1="467.2" y1="611.4" x2="467.2" y2="613.4" stroke="#555" stroke-width="0.7" />
<line x1="473.7" y1="611.4" x2="473.7" y2="613.4" stroke="#555" stroke-width="0.7" />
<line x1="480.2" y1="611.4" x2="480.2" y2="613.4" stroke="#555" stroke-width="0.7" />
<line x1="486.7" y1="611.4" x2="486.7" y2="613.4" stroke="#555" stroke-width="0.7" />
<line x1="493.1" y1="611.4" x2="493.1" y2="613.4" stroke="#555" stroke-width="0.7" />
<line x1="499.6" y1="611.4" x2="499.6" y2="613.4" stroke="#555" stroke-width="0.7" />
<line x1="506.1" y1="611.4" x2="506.1" y2="613.4" stroke="#555" stroke-width="0.7" />
<line x1="512.5" y1="611.4" x2="512.5" y2="613.4" stroke="#555" stroke-width="0.7" />
<line x1="519.0" y1="611.4" x2="519.0" y2="613.4" stroke="#555" stroke-width="0.7" />
<line x1="525.4" y1="611.4" x2="525.4" y2="613.4" stroke="#555" stroke-width="0.7" />
<line x1="531.9" y1="611.4" x2="531.9" y2="613.4" stroke="#555" stroke-width="0.7" />
<line x1="538.4" y1="611.4" x2="538.4" y2="613.4" stroke="#555" stroke-width="0.7" />
<line x1="544.8" y1="611.4" x2="544.8" y2="613.4" stroke="#555" stroke-width="0.7" />
<line x1="551.3" y1="611.4" x2="551.3" y2="613.4" stroke="#555" stroke-width="0.7" />
<line x1="557.8" y1="611.4" x2="557.8" y2="613.4" stroke="#555" stroke-width="0.7" />
<line x1="564.2" y1="611.4" x2="564.2" y2="613.4" stroke="#555" stroke-width="0.7" />
<line x1="570.7" y1="611.4" x2="570.7" y2="613.4" stroke="#555" stroke-width="0.7" />
<line x1="577.2" y1="611.4" x2="577.2" y2="613.4" stroke="#555" stroke-width="0.7" />
<line x1="583.6" y1="611.4" x2="583.6" y2="613.4" stroke="#555" stroke-width="0.7" />
<line x1="590.1" y1="611.4" x2="590.1" y2="613.4" stroke="#555" stroke-width="0.7" />
<line x1="596.6" y1="611.4" x2="596.6" y2="613.4" stroke="#555" stroke-width="0.7" />
<line x1="603.0" y1="611.4" x2="603.0" y2="613.4" stroke="#555" stroke-width="0.7" />
<line x1="609.5" y1="611.4" x2="609.5" y2="613.4" stroke="#555" stroke-width="0.7" />
<line x1="616.0" y1="611.4" x2="616.0" y2="613.4" stroke="#555" stroke-width="0.7" />
<line x1="622.4" y1="611.4" x2="622.4" y2="613.4" stroke="#555" stroke-width="0.7" />
<line x1="628.9" y1="611.4" x2="628.9" y2="613.4" stroke="#555" stroke-width="0.7" />
<line x1="635.4" y1="611.4" x2="635.4" y2="613.4" stroke="#555" stroke-width="0.7" />
<line x1="641.8" y1="611.4" x2="641.8" y2="613.4" stroke="#555" stroke-width="0.7" />
<line x1="648.3" y1="611.4" x2="648.3" y2="613.4" stroke="#555" stroke-width="0.7" />
<text x="0" y="0" font-size="7.2" fill="#555" text-anchor="end" transform="translate(463.3,614.9) rotate(-90)">S1</text>
<text x="0" y="0" font-size="7.2" fill="#555" text-anchor="end" transform="translate(469.8,614.9) rotate(-90)">S2</text>
<text x="0" y="0" font-size="7.2" fill="#555" text-anchor="end" transform="translate(476.2,614.9) rotate(-90)">S3</text>
<text x="0" y="0" font-size="7.2" fill="#555" text-anchor="end" transform="translate(482.7,614.9) rotate(-90)">S4</text>
<text x="0" y="0" font-size="7.2" fill="#555" text-anchor="end" transform="translate(489.2,614.9) rotate(-90)">S5</text>
<text x="0" y="0" font-size="7.2" fill="#555" text-anchor="end" transform="translate(495.6,614.9) rotate(-90)">S6</text>
<text x="0" y="0" font-size="7.2" fill="#555" text-anchor="end" transform="translate(502.1,614.9) rotate(-90)">S7</text>
<text x="0" y="0" font-size="7.2" fill="#555" text-anchor="end" transform="translate(508.6,614.9) rotate(-90)">S8</text>
<text x="0" y="0" font-size="7.2" fill="#555" text-anchor="end" transform="translate(515.0,614.9) rotate(-90)">S9</text>
<text x="0" y="0" font-size="7.2" fill="#555" text-anchor="end" transform="translate(521.5,614.9) rotate(-90)">S10</text>
<text x="0" y="0" font-size="7.2" fill="#555" text-anchor="end" transform="translate(527.9,614.9) rotate(-90)">S11</text>
<text x="0" y="0" font-size="7.2" fill="#555" text-anchor="end" transform="translate(534.4,614.9) rotate(-90)">S12</text>
<text x="0" y="0" font-size="7.2" fill="#555" text-anchor="end" transform="translate(540.9,614.9) rotate(-90)">S13</text>
<text x="0" y="0" font-size="7.2" fill="#555" text-anchor="end" transform="translate(547.3,614.9) rotate(-90)">S14</text>
<text x="0" y="0" font-size="7.2" fill="#555" text-anchor="end" transform="translate(553.8,614.9) rotate(-90)">S15</text>
<text x="0" y="0" font-size="7.2" fill="#555" text-anchor="end" transform="translate(560.3,614.9) rotate(-90)">S16</text>
<text x="0" y="0" font-size="7.2" fill="#555" text-anchor="end" transform="translate(566.8,614.9) rotate(-90)">S17</text>
<text x="0" y="0" font-size="7.2" fill="#555" text-anchor="end" transform="translate(573.2,614.9) rotate(-90)">S18</text>
<text x="0" y="0" font-size="7.2" fill="#555" text-anchor="end" transform="translate(579.7,614.9) rotate(-90)">S19</text>
<text x="0" y="0" font-size="7.2" fill="#555" text-anchor="end" transform="translate(586.1,614.9) rotate(-90)">S20</text>
<text x="0" y="0" font-size="7.2" fill="#555" text-anchor="end" transform="translate(592.6,614.9) rotate(-90)">S21</text>
<text x="0" y="0" font-size="7.2" fill="#555" text-anchor="end" transform="translate(599.1,614.9) rotate(-90)">S22</text>
<text x="0" y="0" font-size="7.2" fill="#555" text-anchor="end" transform="translate(605.5,614.9) rotate(-90)">S23</text>
<text x="0" y="0" font-size="7.2" fill="#555" text-anchor="end" transform="translate(612.0,614.9) rotate(-90)">S24</text>
<text x="0" y="0" font-size="7.2" fill="#555" text-anchor="end" transform="translate(618.5,614.9) rotate(-90)">S25</text>
<text x="0" y="0" font-size="7.2" fill="#555" text-anchor="end" transform="translate(624.9,614.9) rotate(-90)">S26</text>
<text x="0" y="0" font-size="7.2" fill="#555" text-anchor="end" transform="translate(631.4,614.9) rotate(-90)">S27</text>
<text x="0" y="0" font-size="7.2" fill="#555" text-anchor="end" transform="translate(637.9,614.9) rotate(-90)">S28</text>
<text x="0" y="0" font-size="7.2" fill="#555" text-anchor="end" transform="translate(644.3,614.9) rotate(-90)">S29</text>
<text x="0" y="0" font-size="7.2" fill="#555" text-anchor="end" transform="translate(650.8,614.9) rotate(-90)">S30</text>
<path d="M815.1,217.7 L790.3,218.6 L771.4,213.4 L760.3,203.1" stroke="#cdd0d1" stroke-width="2.4" fill="none" stroke-linecap="round" stroke-linejoin="round"/>
<circle cx="790.3" cy="218.6" r="2.1" fill="#cdd0d1" />
<circle cx="771.4" cy="213.4" r="2.1" fill="#cdd0d1" />
<circle cx="760.3" cy="203.1" r="1.9" fill="#cdd0d1" />
<circle cx="807.7" cy="218.0" r="1.75" fill="#cdd0d1" />
<circle cx="800.2" cy="218.2" r="1.75" fill="#cdd0d1" />
<line x1="800.2" y1="218.2" x2="796.0" y2="221.6" stroke="#cdd0d1" stroke-width="1.4" stroke-linecap="round"/>
<circle cx="796.0" cy="221.6" r="1.75" fill="#cdd0d1" />
<circle cx="792.7" cy="218.5" r="1.75" fill="#cdd0d1" />
<circle cx="785.3" cy="217.2" r="1.75" fill="#cdd0d1" />
<line x1="785.3" y1="217.2" x2="780.7" y2="219.0" stroke="#cdd0d1" stroke-width="1.4" stroke-linecap="round"/>
<circle cx="780.7" cy="219.0" r="1.75" fill="#cdd0d1" />
<circle cx="778.1" cy="215.3" r="1.75" fill="#cdd0d1" />
<line x1="778.1" y1="215.3" x2="775.2" y2="209.6" stroke="#cdd0d1" stroke-width="1.4" stroke-linecap="round"/>
<circle cx="775.2" cy="209.6" r="1.75" fill="#cdd0d1" />
<circle cx="771.0" cy="213.0" r="1.75" fill="#cdd0d1" />
<line x1="771.0" y1="213.0" x2="771.8" y2="206.3" stroke="#cdd0d1" stroke-width="1.4" stroke-linecap="round"/>
<circle cx="771.8" cy="206.3" r="1.75" fill="#cdd0d1" />
<circle cx="765.5" cy="208.0" r="1.75" fill="#cdd0d1" />
<path d="M790.3,218.6 L789.4,206.6 L789.4,195.4" stroke="#cdd0d1" stroke-width="2.4" fill="none" stroke-linecap="round" stroke-linejoin="round"/>
<circle cx="789.4" cy="206.6" r="2.1" fill="#cdd0d1" />
<circle cx="789.4" cy="195.4" r="1.9" fill="#cdd0d1" />
<circle cx="789.8" cy="211.1" r="1.75" fill="#cdd0d1" />
<circle cx="789.4" cy="203.6" r="1.75" fill="#cdd0d1" />
<path d="M771.4,213.4 L779.1,206.6" stroke="#cdd0d1" stroke-width="2.4" fill="none" stroke-linecap="round" stroke-linejoin="round"/>
<circle cx="779.1" cy="206.6" r="1.9" fill="#cdd0d1" />
<circle cx="777.0" cy="208.4" r="1.75" fill="#cdd0d1" />
<line x1="777.0" y1="208.4" x2="777.4" y2="204.5" stroke="#cdd0d1" stroke-width="1.4" stroke-linecap="round"/>
<circle cx="777.4" cy="204.5" r="1.75" fill="#cdd0d1" />
<path d="M817.7,216.0 L818.6,192.9 L816.0,180.9 L815.1,168.9" stroke="#cdd0d1" stroke-width="2.4" fill="none" stroke-linecap="round" stroke-linejoin="round"/>
<circle cx="818.6" cy="192.9" r="2.1" fill="#cdd0d1" />
<circle cx="816.0" cy="180.9" r="2.1" fill="#cdd0d1" />
<circle cx="815.1" cy="168.9" r="1.9" fill="#cdd0d1" />
<circle cx="818.0" cy="208.5" r="1.75" fill="#cdd0d1" />
<line x1="818.0" y1="208.5" x2="821.6" y2="206.5" stroke="#cdd0d1" stroke-width="1.4" stroke-linecap="round"/>
<circle cx="821.6" cy="206.5" r="1.75" fill="#cdd0d1" />
<circle cx="818.3" cy="201.0" r="1.75" fill="#cdd0d1" />
<circle cx="818.6" cy="192.9" r="1.75" fill="#cdd0d1" />
<circle cx="817.0" cy="185.5" r="1.75" fill="#cdd0d1" />
<circle cx="815.8" cy="178.1" r="1.75" fill="#cdd0d1" />
<path d="M822.9,213.4 L824.6,198.0 L822.9,175.7" stroke="#cdd0d1" stroke-width="2.4" fill="none" stroke-linecap="round" stroke-linejoin="round"/>
<circle cx="824.6" cy="198.0" r="2.1" fill="#cdd0d1" />
<circle cx="822.9" cy="175.7" r="1.9" fill="#cdd0d1" />
<circle cx="823.7" cy="206.0" r="1.75" fill="#cdd0d1" />
<line x1="823.7" y1="206.0" x2="828.0" y2="202.0" stroke="#cdd0d1" stroke-width="1.4" stroke-linecap="round"/>
<circle cx="828.0" cy="202.0" r="1.75" fill="#cdd0d1" />
<circle cx="824.6" cy="198.0" r="1.75" fill="#cdd0d1" />
<circle cx="824.0" cy="190.5" r="1.75" fill="#cdd0d1" />
<circle cx="823.4" cy="183.0" r="1.75" fill="#cdd0d1" />
<path d="M826.3,210.0 L831.4,178.3" stroke="#cdd0d1" stroke-width="2.4" fill="none" stroke-linecap="round" stroke-linejoin="round"/>
<circle cx="831.4" cy="178.3" r="1.9" fill="#cdd0d1" />
<circle cx="827.5" cy="202.6" r="1.75" fill="#cdd0d1" />
<circle cx="828.7" cy="195.2" r="1.75" fill="#cdd0d1" />
<line x1="828.7" y1="195.2" x2="825.5" y2="192.2" stroke="#cdd0d1" stroke-width="1.4" stroke-linecap="round"/>
<circle cx="825.5" cy="192.2" r="1.75" fill="#cdd0d1" />
<circle cx="829.9" cy="187.8" r="1.75" fill="#cdd0d1" />
<circle cx="831.1" cy="180.4" r="1.75" fill="#cdd0d1" />
<path d="M833.1,201.4 L838.3,184.3 L840.0,167.1" stroke="#cdd0d1" stroke-width="2.4" fill="none" stroke-linecap="round" stroke-linejoin="round"/>
<circle cx="838.3" cy="184.3" r="2.1" fill="#cdd0d1" />
<circle cx="840.0" cy="167.1" r="1.9" fill="#cdd0d1" />
<circle cx="835.3" cy="194.2" r="1.75" fill="#cdd0d1" />
<circle cx="837.5" cy="187.1" r="1.75" fill="#cdd0d1" />
<circle cx="838.8" cy="179.7" r="1.75" fill="#cdd0d1" />
<line x1="838.8" y1="179.7" x2="836.1" y2="175.5" stroke="#cdd0d1" stroke-width="1.4" stroke-linecap="round"/>
<circle cx="836.1" cy="175.5" r="1.75" fill="#cdd0d1" />
<circle cx="839.5" cy="172.2" r="1.75" fill="#cdd0d1" />
<path d="M838.3,184.3 L846.9,170.6" stroke="#cdd0d1" stroke-width="2.4" fill="none" stroke-linecap="round" stroke-linejoin="round"/>
<circle cx="846.9" cy="170.6" r="1.9" fill="#cdd0d1" />
<circle cx="842.3" cy="177.9" r="1.75" fill="#cdd0d1" />
<line x1="842.3" y1="177.9" x2="847.7" y2="175.8" stroke="#cdd0d1" stroke-width="1.4" stroke-linecap="round"/>
<circle cx="847.7" cy="175.8" r="1.75" fill="#cdd0d1" />
<path d="M822.9,187.7 L828.0,184.3" stroke="#cdd0d1" stroke-width="2.4" fill="none" stroke-linecap="round" stroke-linejoin="round"/>
<circle cx="828.0" cy="184.3" r="1.9" fill="#cdd0d1" />
<path d="M831.4,253.7 L846.9,227.1 L857.2,206.6 L864.9,178.3" stroke="#cdd0d1" stroke-width="2.4" fill="none" stroke-linecap="round" stroke-linejoin="round"/>
<circle cx="846.9" cy="227.1" r="2.1" fill="#cdd0d1" />
<circle cx="857.2" cy="206.6" r="2.1" fill="#cdd0d1" />
<circle cx="864.9" cy="178.3" r="1.9" fill="#cdd0d1" />
<circle cx="835.2" cy="247.2" r="1.75" fill="#cdd0d1" />
<circle cx="839.0" cy="240.7" r="1.75" fill="#cdd0d1" />
<circle cx="842.7" cy="234.3" r="1.75" fill="#cdd0d1" />
<circle cx="846.9" cy="227.1" r="1.75" fill="#cdd0d1" />
<circle cx="850.2" cy="220.4" r="1.75" fill="#cdd0d1" />
<circle cx="853.6" cy="213.7" r="1.75" fill="#cdd0d1" />
<circle cx="857.2" cy="206.6" r="1.75" fill="#cdd0d1" />
<circle cx="859.1" cy="199.3" r="1.75" fill="#cdd0d1" />
<circle cx="861.1" cy="192.1" r="1.75" fill="#cdd0d1" />
<circle cx="863.1" cy="184.9" r="1.75" fill="#cdd0d1" />
<path d="M846.9,227.1 L850.3,218.6 L855.4,215.1" stroke="#cdd0d1" stroke-width="2.4" fill="none" stroke-linecap="round" stroke-linejoin="round"/>
<circle cx="850.3" cy="218.6" r="2.1" fill="#cdd0d1" />
<circle cx="855.4" cy="215.1" r="1.9" fill="#cdd0d1" />
<circle cx="850.3" cy="218.6" r="1.75" fill="#cdd0d1" />
<path d="M857.2,206.6 L862.3,201.4 L865.7,203.1" stroke="#cdd0d1" stroke-width="2.4" fill="none" stroke-linecap="round" stroke-linejoin="round"/>
<circle cx="862.3" cy="201.4" r="2.1" fill="#cdd0d1" />
<circle cx="865.7" cy="203.1" r="1.9" fill="#cdd0d1" />
<circle cx="862.5" cy="201.5" r="1.75" fill="#cdd0d1" />
<path d="M793.7,266.6 L788.6,242.6 L769.7,232.3 L756.9,229.7 L742.3,225.4" stroke="#cdd0d1" stroke-width="2.4" fill="none" stroke-linecap="round" stroke-linejoin="round"/>
<circle cx="788.6" cy="242.6" r="2.1" fill="#cdd0d1" />
<circle cx="769.7" cy="232.3" r="2.1" fill="#cdd0d1" />
<circle cx="756.9" cy="229.7" r="2.1" fill="#cdd0d1" />
<circle cx="742.3" cy="225.4" r="1.9" fill="#cdd0d1" />
<circle cx="792.1" cy="259.2" r="1.75" fill="#cdd0d1" />
<line x1="792.1" y1="259.2" x2="785.7" y2="256.5" stroke="#cdd0d1" stroke-width="1.4" stroke-linecap="round"/>
<circle cx="785.7" cy="256.5" r="1.75" fill="#cdd0d1" />
<circle cx="790.6" cy="251.9" r="1.75" fill="#cdd0d1" />
<circle cx="789.0" cy="244.6" r="1.75" fill="#cdd0d1" />
<line x1="789.0" y1="244.6" x2="791.4" y2="242.0" stroke="#cdd0d1" stroke-width="1.4" stroke-linecap="round"/>
<circle cx="791.4" cy="242.0" r="1.75" fill="#cdd0d1" />
<circle cx="783.8" cy="240.0" r="1.75" fill="#cdd0d1" />
<circle cx="777.2" cy="236.4" r="1.75" fill="#cdd0d1" />
<line x1="777.2" y1="236.4" x2="774.6" y2="230.7" stroke="#cdd0d1" stroke-width="1.4" stroke-linecap="round"/>
<circle cx="774.6" cy="230.7" r="1.75" fill="#cdd0d1" />
<circle cx="769.7" cy="232.3" r="1.75" fill="#cdd0d1" />
<line x1="769.7" y1="232.3" x2="766.2" y2="226.7" stroke="#cdd0d1" stroke-width="1.4" stroke-linecap="round"/>
<circle cx="766.2" cy="226.7" r="1.75" fill="#cdd0d1" />
<circle cx="762.4" cy="230.8" r="1.75" fill="#cdd0d1" />
<line x1="762.4" y1="230.8" x2="759.3" y2="225.0" stroke="#cdd0d1" stroke-width="1.4" stroke-linecap="round"/>
<circle cx="759.3" cy="225.0" r="1.75" fill="#cdd0d1" />
<circle cx="755.0" cy="229.2" r="1.75" fill="#cdd0d1" />
<circle cx="747.9" cy="227.1" r="1.75" fill="#cdd0d1" />
<path d="M788.6,242.6 L798.0,238.3 L804.0,235.7 L810.0,240.9" stroke="#cdd0d1" stroke-width="2.4" fill="none" stroke-linecap="round" stroke-linejoin="round"/>
<circle cx="798.0" cy="238.3" r="2.1" fill="#cdd0d1" />
<circle cx="804.0" cy="235.7" r="2.1" fill="#cdd0d1" />
<circle cx="810.0" cy="240.9" r="1.9" fill="#cdd0d1" />
<circle cx="795.4" cy="239.5" r="1.75" fill="#cdd0d1" />
<line x1="795.4" y1="239.5" x2="801.5" y2="241.9" stroke="#cdd0d1" stroke-width="1.4" stroke-linecap="round"/>
<circle cx="801.5" cy="241.9" r="1.75" fill="#cdd0d1" />
<circle cx="804.0" cy="235.7" r="1.75" fill="#cdd0d1" />
<path d="M769.7,232.3 L774.9,228.0 L785.1,225.4" stroke="#cdd0d1" stroke-width="2.4" fill="none" stroke-linecap="round" stroke-linejoin="round"/>
<circle cx="774.9" cy="228.0" r="2.1" fill="#cdd0d1" />
<circle cx="785.1" cy="225.4" r="1.9" fill="#cdd0d1" />
<circle cx="775.6" cy="227.8" r="1.75" fill="#cdd0d1" />
<line x1="775.6" y1="227.8" x2="779.5" y2="229.8" stroke="#cdd0d1" stroke-width="1.4" stroke-linecap="round"/>
<circle cx="779.5" cy="229.8" r="1.75" fill="#cdd0d1" />
<circle cx="782.9" cy="226.0" r="1.75" fill="#cdd0d1" />
<path d="M793.7,266.6 L771.4,256.3 L750.9,258.5" stroke="#cdd0d1" stroke-width="2.4" fill="none" stroke-linecap="round" stroke-linejoin="round"/>
<circle cx="771.4" cy="256.3" r="2.1" fill="#cdd0d1" />
<circle cx="750.9" cy="258.5" r="1.9" fill="#cdd0d1" />
<circle cx="786.9" cy="263.4" r="1.75" fill="#cdd0d1" />
<circle cx="780.1" cy="260.3" r="1.75" fill="#cdd0d1" />
<line x1="780.1" y1="260.3" x2="778.6" y2="255.7" stroke="#cdd0d1" stroke-width="1.4" stroke-linecap="round"/>
<circle cx="778.6" cy="255.7" r="1.75" fill="#cdd0d1" />
<circle cx="773.3" cy="257.1" r="1.75" fill="#cdd0d1" />
<circle cx="766.0" cy="256.9" r="1.75" fill="#cdd0d1" />
<circle cx="758.6" cy="257.7" r="1.75" fill="#cdd0d1" />
<path d="M771.4,256.3 L778.3,247.7 L788.6,246.0" stroke="#cdd0d1" stroke-width="2.4" fill="none" stroke-linecap="round" stroke-linejoin="round"/>
<circle cx="778.3" cy="247.7" r="2.1" fill="#cdd0d1" />
<circle cx="788.6" cy="246.0" r="1.9" fill="#cdd0d1" />
<circle cx="776.1" cy="250.4" r="1.75" fill="#cdd0d1" />
<circle cx="782.3" cy="247.1" r="1.75" fill="#cdd0d1" />
<path d="M762.9,259.7 L771.4,268.3" stroke="#cdd0d1" stroke-width="2.4" fill="none" stroke-linecap="round" stroke-linejoin="round"/>
<circle cx="771.4" cy="268.3" r="1.9" fill="#cdd0d1" />
<circle cx="768.2" cy="265.0" r="1.75" fill="#cdd0d1" />
<path d="M840.0,248.6 L853.7,242.6 L858.9,234.0 L869.1,223.7 L876.9,206.6 L887.1,190.3" stroke="#cdd0d1" stroke-width="2.4" fill="none" stroke-linecap="round" stroke-linejoin="round"/>
<circle cx="853.7" cy="242.6" r="2.1" fill="#cdd0d1" />
<circle cx="858.9" cy="234.0" r="2.1" fill="#cdd0d1" />
<circle cx="869.1" cy="223.7" r="2.1" fill="#cdd0d1" />
<circle cx="876.9" cy="206.6" r="2.1" fill="#cdd0d1" />
<circle cx="887.1" cy="190.3" r="1.9" fill="#cdd0d1" />
<circle cx="846.9" cy="245.6" r="1.75" fill="#cdd0d1" />
<line x1="846.9" y1="245.6" x2="847.8" y2="239.1" stroke="#cdd0d1" stroke-width="1.4" stroke-linecap="round"/>
<circle cx="847.8" cy="239.1" r="1.75" fill="#cdd0d1" />
<circle cx="853.7" cy="242.6" r="1.75" fill="#cdd0d1" />
<circle cx="857.6" cy="236.1" r="1.75" fill="#cdd0d1" />
<circle cx="862.4" cy="230.4" r="1.75" fill="#cdd0d1" />
<circle cx="867.7" cy="225.1" r="1.75" fill="#cdd0d1" />
<line x1="867.7" y1="225.1" x2="868.2" y2="221.4" stroke="#cdd0d1" stroke-width="1.4" stroke-linecap="round"/>
<circle cx="868.2" cy="221.4" r="1.75" fill="#cdd0d1" />
<circle cx="871.4" cy="218.7" r="1.75" fill="#cdd0d1" />
<line x1="871.4" y1="218.7" x2="874.8" y2="217.4" stroke="#cdd0d1" stroke-width="1.4" stroke-linecap="round"/>
<circle cx="874.8" cy="217.4" r="1.75" fill="#cdd0d1" />
<circle cx="874.5" cy="211.9" r="1.75" fill="#cdd0d1" />
<line x1="874.5" y1="211.9" x2="878.7" y2="209.7" stroke="#cdd0d1" stroke-width="1.4" stroke-linecap="round"/>
<circle cx="878.7" cy="209.7" r="1.75" fill="#cdd0d1" />
<circle cx="877.8" cy="205.1" r="1.75" fill="#cdd0d1" />
<line x1="877.8" y1="205.1" x2="876.3" y2="201.4" stroke="#cdd0d1" stroke-width="1.4" stroke-linecap="round"/>
<circle cx="876.3" cy="201.4" r="1.75" fill="#cdd0d1" />
<circle cx="881.8" cy="198.8" r="1.75" fill="#cdd0d1" />
<line x1="881.8" y1="198.8" x2="885.6" y2="198.0" stroke="#cdd0d1" stroke-width="1.4" stroke-linecap="round"/>
<circle cx="885.6" cy="198.0" r="1.75" fill="#cdd0d1" />
<circle cx="885.8" cy="192.5" r="1.75" fill="#cdd0d1" />
<path d="M876.9,206.6 L886.3,211.7" stroke="#cdd0d1" stroke-width="2.4" fill="none" stroke-linecap="round" stroke-linejoin="round"/>
<circle cx="886.3" cy="211.7" r="1.9" fill="#cdd0d1" />
<circle cx="883.4" cy="210.2" r="1.75" fill="#cdd0d1" />
<path d="M869.1,223.7 L883.7,228.0" stroke="#cdd0d1" stroke-width="2.4" fill="none" stroke-linecap="round" stroke-linejoin="round"/>
<circle cx="883.7" cy="228.0" r="1.9" fill="#cdd0d1" />
<circle cx="876.3" cy="225.8" r="1.75" fill="#cdd0d1" />
<path d="M858.9,234.0 L896.6,234.0 L905.1,225.4" stroke="#cdd0d1" stroke-width="2.4" fill="none" stroke-linecap="round" stroke-linejoin="round"/>
<circle cx="896.6" cy="234.0" r="2.1" fill="#cdd0d1" />
<circle cx="905.1" cy="225.4" r="1.9" fill="#cdd0d1" />
<circle cx="866.4" cy="234.0" r="1.75" fill="#cdd0d1" />
<circle cx="873.9" cy="234.0" r="1.75" fill="#cdd0d1" />
<line x1="873.9" y1="234.0" x2="877.0" y2="237.2" stroke="#cdd0d1" stroke-width="1.4" stroke-linecap="round"/>
<circle cx="877.0" cy="237.2" r="1.75" fill="#cdd0d1" />
<circle cx="881.4" cy="234.0" r="1.75" fill="#cdd0d1" />
<circle cx="888.9" cy="234.0" r="1.75" fill="#cdd0d1" />
<line x1="888.9" y1="234.0" x2="891.2" y2="238.8" stroke="#cdd0d1" stroke-width="1.4" stroke-linecap="round"/>
<circle cx="891.2" cy="238.8" r="1.75" fill="#cdd0d1" />
<circle cx="896.6" cy="234.0" r="1.75" fill="#cdd0d1" />
<line x1="896.6" y1="234.0" x2="897.4" y2="228.7" stroke="#cdd0d1" stroke-width="1.4" stroke-linecap="round"/>
<circle cx="897.4" cy="228.7" r="1.75" fill="#cdd0d1" />
<circle cx="901.9" cy="228.7" r="1.75" fill="#cdd0d1" />
<path d="M853.7,242.6 L870.9,240.9 L891.4,237.4 L906.9,237.4 L918.9,242.6" stroke="#cdd0d1" stroke-width="2.4" fill="none" stroke-linecap="round" stroke-linejoin="round"/>
<circle cx="870.9" cy="240.9" r="2.1" fill="#cdd0d1" />
<circle cx="891.4" cy="237.4" r="2.1" fill="#cdd0d1" />
<circle cx="906.9" cy="237.4" r="2.1" fill="#cdd0d1" />
<circle cx="918.9" cy="242.6" r="1.9" fill="#cdd0d1" />
<circle cx="861.2" cy="241.8" r="1.75" fill="#cdd0d1" />
<circle cx="868.6" cy="241.1" r="1.75" fill="#cdd0d1" />
<circle cx="876.1" cy="240.0" r="1.75" fill="#cdd0d1" />
<line x1="876.1" y1="240.0" x2="881.4" y2="243.1" stroke="#cdd0d1" stroke-width="1.4" stroke-linecap="round"/>
<circle cx="881.4" cy="243.1" r="1.75" fill="#cdd0d1" />
<circle cx="883.5" cy="238.8" r="1.75" fill="#cdd0d1" />
<circle cx="891.4" cy="237.4" r="1.75" fill="#cdd0d1" />
<circle cx="898.9" cy="237.4" r="1.75" fill="#cdd0d1" />
<circle cx="906.9" cy="237.4" r="1.75" fill="#cdd0d1" />
<line x1="906.9" y1="237.4" x2="911.7" y2="233.1" stroke="#cdd0d1" stroke-width="1.4" stroke-linecap="round"/>
<circle cx="911.7" cy="233.1" r="1.75" fill="#cdd0d1" />
<circle cx="913.8" cy="240.4" r="1.75" fill="#cdd0d1" />
<path d="M906.9,237.4 L914.6,235.7" stroke="#cdd0d1" stroke-width="2.4" fill="none" stroke-linecap="round" stroke-linejoin="round"/>
<circle cx="914.6" cy="235.7" r="1.9" fill="#cdd0d1" />
<path d="M840.0,252.9 L860.6,252.9 L876.0,253.7 L896.6,256.3 L918.9,256.3" stroke="#cdd0d1" stroke-width="2.4" fill="none" stroke-linecap="round" stroke-linejoin="round"/>
<circle cx="860.6" cy="252.9" r="2.1" fill="#cdd0d1" />
<circle cx="876.0" cy="253.7" r="2.1" fill="#cdd0d1" />
<circle cx="896.6" cy="256.3" r="2.1" fill="#cdd0d1" />
<circle cx="918.9" cy="256.3" r="1.9" fill="#cdd0d1" />
<circle cx="847.5" cy="252.9" r="1.75" fill="#cdd0d1" />
<circle cx="855.0" cy="252.9" r="1.75" fill="#cdd0d1" />
<circle cx="862.5" cy="253.0" r="1.75" fill="#cdd0d1" />
<line x1="862.5" y1="253.0" x2="865.2" y2="250.5" stroke="#cdd0d1" stroke-width="1.4" stroke-linecap="round"/>
<circle cx="865.2" cy="250.5" r="1.75" fill="#cdd0d1" />
<circle cx="870.0" cy="253.4" r="1.75" fill="#cdd0d1" />
<line x1="870.0" y1="253.4" x2="874.1" y2="257.6" stroke="#cdd0d1" stroke-width="1.4" stroke-linecap="round"/>
<circle cx="874.1" cy="257.6" r="1.75" fill="#cdd0d1" />
<circle cx="877.5" cy="253.9" r="1.75" fill="#cdd0d1" />
<circle cx="884.9" cy="254.8" r="1.75" fill="#cdd0d1" />
<circle cx="892.3" cy="255.8" r="1.75" fill="#cdd0d1" />
<circle cx="899.8" cy="256.3" r="1.75" fill="#cdd0d1" />
<circle cx="907.3" cy="256.3" r="1.75" fill="#cdd0d1" />
<circle cx="914.8" cy="256.3" r="1.75" fill="#cdd0d1" />
<path d="M886.3,254.6 L886.3,248.6 L896.6,245.1" stroke="#cdd0d1" stroke-width="2.4" fill="none" stroke-linecap="round" stroke-linejoin="round"/>
<circle cx="886.3" cy="248.6" r="2.1" fill="#cdd0d1" />
<circle cx="896.6" cy="245.1" r="1.9" fill="#cdd0d1" />
<circle cx="887.7" cy="248.1" r="1.75" fill="#cdd0d1" />
<line x1="887.7" y1="248.1" x2="891.6" y2="249.7" stroke="#cdd0d1" stroke-width="1.4" stroke-linecap="round"/>
<circle cx="891.6" cy="249.7" r="1.75" fill="#cdd0d1" />
<path d="M896.6,255.4 L908.6,247.7" stroke="#cdd0d1" stroke-width="2.4" fill="none" stroke-linecap="round" stroke-linejoin="round"/>
<circle cx="908.6" cy="247.7" r="1.9" fill="#cdd0d1" />
<circle cx="902.9" cy="251.4" r="1.75" fill="#cdd0d1" />
<path d="M840.0,266.6 L865.7,262.3 L884.6,263.1 L915.4,264.9" stroke="#cdd0d1" stroke-width="2.4" fill="none" stroke-linecap="round" stroke-linejoin="round"/>
<circle cx="865.7" cy="262.3" r="2.1" fill="#cdd0d1" />
<circle cx="884.6" cy="263.1" r="2.1" fill="#cdd0d1" />
<circle cx="915.4" cy="264.9" r="1.9" fill="#cdd0d1" />
<circle cx="847.4" cy="265.3" r="1.75" fill="#cdd0d1" />
<circle cx="854.8" cy="264.1" r="1.75" fill="#cdd0d1" />
<circle cx="862.2" cy="262.9" r="1.75" fill="#cdd0d1" />
<circle cx="869.6" cy="262.5" r="1.75" fill="#cdd0d1" />
<circle cx="877.1" cy="262.8" r="1.75" fill="#cdd0d1" />
<circle cx="884.6" cy="263.2" r="1.75" fill="#cdd0d1" />
<line x1="884.6" y1="263.2" x2="887.8" y2="257.8" stroke="#cdd0d1" stroke-width="1.4" stroke-linecap="round"/>
<circle cx="887.8" cy="257.8" r="1.75" fill="#cdd0d1" />
<circle cx="892.1" cy="263.6" r="1.75" fill="#cdd0d1" />
<circle cx="899.6" cy="264.0" r="1.75" fill="#cdd0d1" />
<circle cx="907.1" cy="264.4" r="1.75" fill="#cdd0d1" />
<line x1="907.1" y1="264.4" x2="911.8" y2="260.2" stroke="#cdd0d1" stroke-width="1.4" stroke-linecap="round"/>
<circle cx="911.8" cy="260.2" r="1.75" fill="#cdd0d1" />
<path d="M850.3,223.7 L848.6,211.7 L852.9,206.6" stroke="#cdd0d1" stroke-width="2.4" fill="none" stroke-linecap="round" stroke-linejoin="round"/>
<circle cx="848.6" cy="211.7" r="2.1" fill="#cdd0d1" />
<circle cx="852.9" cy="206.6" r="1.9" fill="#cdd0d1" />
<circle cx="849.2" cy="216.3" r="1.75" fill="#cdd0d1" />
<circle cx="850.4" cy="209.5" r="1.75" fill="#cdd0d1" />
<path d="M854.6,211.7 L860.6,208.3" stroke="#cdd0d1" stroke-width="2.4" fill="none" stroke-linecap="round" stroke-linejoin="round"/>
<circle cx="860.6" cy="208.3" r="1.9" fill="#cdd0d1" />
<path d="M846.9,201.4 L846.9,192.9 L852.9,186.9 L858.9,191.1" stroke="#cdd0d1" stroke-width="2.4" fill="none" stroke-linecap="round" stroke-linejoin="round"/>
<circle cx="846.9" cy="192.9" r="2.1" fill="#cdd0d1" />
<circle cx="852.9" cy="186.9" r="2.1" fill="#cdd0d1" />
<circle cx="858.9" cy="191.1" r="1.9" fill="#cdd0d1" />
<circle cx="846.9" cy="192.9" r="1.75" fill="#cdd0d1" />
<circle cx="852.9" cy="186.9" r="1.75" fill="#cdd0d1" />
<path d="M858.9,201.4 L864.0,208.3 L863.1,213.4" stroke="#cdd0d1" stroke-width="2.4" fill="none" stroke-linecap="round" stroke-linejoin="round"/>
<circle cx="864.0" cy="208.3" r="2.1" fill="#cdd0d1" />
<circle cx="863.1" cy="213.4" r="1.9" fill="#cdd0d1" />
<circle cx="864.0" cy="208.3" r="1.75" fill="#cdd0d1" />
<path d="M840.0,191.1 L845.1,184.3" stroke="#cdd0d1" stroke-width="2.4" fill="none" stroke-linecap="round" stroke-linejoin="round"/>
<circle cx="845.1" cy="184.3" r="1.9" fill="#cdd0d1" />
<path d="M795.4,267.7 L776.6,274.6 L754.3,281.4 L730.3,283.1" stroke="#cdd0d1" stroke-width="2.4" fill="none" stroke-linecap="round" stroke-linejoin="round"/>
<circle cx="776.6" cy="274.6" r="2.1" fill="#cdd0d1" />
<circle cx="754.3" cy="281.4" r="2.1" fill="#cdd0d1" />
<circle cx="730.3" cy="283.1" r="1.9" fill="#cdd0d1" />
<circle cx="788.4" cy="270.3" r="1.75" fill="#cdd0d1" />
<line x1="788.4" y1="270.3" x2="782.1" y2="268.0" stroke="#cdd0d1" stroke-width="1.4" stroke-linecap="round"/>
<circle cx="782.1" cy="268.0" r="1.75" fill="#cdd0d1" />
<circle cx="781.3" cy="272.8" r="1.75" fill="#cdd0d1" />
<circle cx="774.2" cy="275.3" r="1.75" fill="#cdd0d1" />
<line x1="774.2" y1="275.3" x2="773.4" y2="281.0" stroke="#cdd0d1" stroke-width="1.4" stroke-linecap="round"/>
<circle cx="773.4" cy="281.0" r="1.75" fill="#cdd0d1" />
<circle cx="767.1" cy="277.5" r="1.75" fill="#cdd0d1" />
<circle cx="759.9" cy="279.7" r="1.75" fill="#cdd0d1" />
<circle cx="752.7" cy="281.5" r="1.75" fill="#cdd0d1" />
<line x1="752.7" y1="281.5" x2="749.8" y2="276.5" stroke="#cdd0d1" stroke-width="1.4" stroke-linecap="round"/>
<circle cx="749.8" cy="276.5" r="1.75" fill="#cdd0d1" />
<circle cx="745.2" cy="282.1" r="1.75" fill="#cdd0d1" />
<circle cx="737.7" cy="282.6" r="1.75" fill="#cdd0d1" />
<path d="M754.3,281.4 L742.3,273.7 L735.4,270.3" stroke="#cdd0d1" stroke-width="2.4" fill="none" stroke-linecap="round" stroke-linejoin="round"/>
<circle cx="742.3" cy="273.7" r="2.1" fill="#cdd0d1" />
<circle cx="735.4" cy="270.3" r="1.9" fill="#cdd0d1" />
<circle cx="748.0" cy="277.4" r="1.75" fill="#cdd0d1" />
<circle cx="741.6" cy="273.4" r="1.75" fill="#cdd0d1" />
<path d="M776.6,274.6 L766.3,266.9 L757.7,263.4" stroke="#cdd0d1" stroke-width="2.4" fill="none" stroke-linecap="round" stroke-linejoin="round"/>
<circle cx="766.3" cy="266.9" r="2.1" fill="#cdd0d1" />
<circle cx="757.7" cy="263.4" r="1.9" fill="#cdd0d1" />
<circle cx="770.6" cy="270.1" r="1.75" fill="#cdd0d1" />
<circle cx="764.3" cy="266.1" r="1.75" fill="#cdd0d1" />
<line x1="764.3" y1="266.1" x2="762.5" y2="262.1" stroke="#cdd0d1" stroke-width="1.4" stroke-linecap="round"/>
<circle cx="762.5" cy="262.1" r="1.75" fill="#cdd0d1" />
<path d="M742.3,282.3 L730.3,290.9" stroke="#cdd0d1" stroke-width="2.4" fill="none" stroke-linecap="round" stroke-linejoin="round"/>
<circle cx="730.3" cy="290.9" r="1.9" fill="#cdd0d1" />
<circle cx="736.2" cy="286.6" r="1.75" fill="#cdd0d1" />
<path d="M754.3,281.4 L745.7,289.1 L733.7,299.4" stroke="#cdd0d1" stroke-width="2.4" fill="none" stroke-linecap="round" stroke-linejoin="round"/>
<circle cx="745.7" cy="289.1" r="2.1" fill="#cdd0d1" />
<circle cx="733.7" cy="299.4" r="1.9" fill="#cdd0d1" />
<circle cx="748.7" cy="286.4" r="1.75" fill="#cdd0d1" />
<line x1="748.7" y1="286.4" x2="742.0" y2="286.8" stroke="#cdd0d1" stroke-width="1.4" stroke-linecap="round"/>
<circle cx="742.0" cy="286.8" r="1.75" fill="#cdd0d1" />
<circle cx="743.1" cy="291.4" r="1.75" fill="#cdd0d1" />
<circle cx="737.4" cy="296.3" r="1.75" fill="#cdd0d1" />
<path d="M738.9,268.6 L730.3,263.4" stroke="#cdd0d1" stroke-width="2.4" fill="none" stroke-linecap="round" stroke-linejoin="round"/>
<circle cx="730.3" cy="263.4" r="1.9" fill="#cdd0d1" />
<circle cx="732.4" cy="264.7" r="1.75" fill="#cdd0d1" />
<path d="M795.4,267.7 L780.0,285.7 L762.9,296.0 L742.3,305.4 L735.4,311.4" stroke="#cdd0d1" stroke-width="2.4" fill="none" stroke-linecap="round" stroke-linejoin="round"/>
<circle cx="780.0" cy="285.7" r="2.1" fill="#cdd0d1" />
<circle cx="762.9" cy="296.0" r="2.1" fill="#cdd0d1" />
<circle cx="742.3" cy="305.4" r="2.1" fill="#cdd0d1" />
<circle cx="735.4" cy="311.4" r="1.9" fill="#cdd0d1" />
<circle cx="790.6" cy="273.4" r="1.75" fill="#cdd0d1" />
<circle cx="785.7" cy="279.1" r="1.75" fill="#cdd0d1" />
<circle cx="780.0" cy="285.7" r="1.75" fill="#cdd0d1" />
<circle cx="773.6" cy="289.6" r="1.75" fill="#cdd0d1" />
<circle cx="767.1" cy="293.4" r="1.75" fill="#cdd0d1" />
<circle cx="760.6" cy="297.0" r="1.75" fill="#cdd0d1" />
<circle cx="753.8" cy="300.2" r="1.75" fill="#cdd0d1" />
<line x1="753.8" y1="300.2" x2="750.4" y2="299.2" stroke="#cdd0d1" stroke-width="1.4" stroke-linecap="round"/>
<circle cx="750.4" cy="299.2" r="1.75" fill="#cdd0d1" />
<circle cx="746.9" cy="303.3" r="1.75" fill="#cdd0d1" />
<circle cx="740.5" cy="307.0" r="1.75" fill="#cdd0d1" />
<line x1="740.5" y1="307.0" x2="735.3" y2="305.5" stroke="#cdd0d1" stroke-width="1.4" stroke-linecap="round"/>
<circle cx="735.3" cy="305.5" r="1.75" fill="#cdd0d1" />
<path d="M762.9,296.0 L766.3,284.0" stroke="#cdd0d1" stroke-width="2.4" fill="none" stroke-linecap="round" stroke-linejoin="round"/>
<circle cx="766.3" cy="284.0" r="1.9" fill="#cdd0d1" />
<circle cx="764.9" cy="288.8" r="1.75" fill="#cdd0d1" />
<path d="M742.3,305.4 L740.6,298.6" stroke="#cdd0d1" stroke-width="2.4" fill="none" stroke-linecap="round" stroke-linejoin="round"/>
<circle cx="740.6" cy="298.6" r="1.9" fill="#cdd0d1" />
<path d="M754.3,300.3 L759.4,307.1" stroke="#cdd0d1" stroke-width="2.4" fill="none" stroke-linecap="round" stroke-linejoin="round"/>
<circle cx="759.4" cy="307.1" r="1.9" fill="#cdd0d1" />
<path d="M735.4,311.4 L728.6,308.0" stroke="#cdd0d1" stroke-width="2.4" fill="none" stroke-linecap="round" stroke-linejoin="round"/>
<circle cx="728.6" cy="308.0" r="1.9" fill="#cdd0d1" />
<path d="M771.4,325.1 L756.0,332.0 L747.4,332.0" stroke="#cdd0d1" stroke-width="2.4" fill="none" stroke-linecap="round" stroke-linejoin="round"/>
<circle cx="756.0" cy="332.0" r="2.1" fill="#cdd0d1" />
<circle cx="747.4" cy="332.0" r="1.9" fill="#cdd0d1" />
<circle cx="764.6" cy="328.2" r="1.75" fill="#cdd0d1" />
<circle cx="756.0" cy="332.0" r="1.75" fill="#cdd0d1" />
<path d="M776.6,333.7 L764.6,341.4 L752.6,344.0" stroke="#cdd0d1" stroke-width="2.4" fill="none" stroke-linecap="round" stroke-linejoin="round"/>
<circle cx="764.6" cy="341.4" r="2.1" fill="#cdd0d1" />
<circle cx="752.6" cy="344.0" r="1.9" fill="#cdd0d1" />
<circle cx="770.3" cy="337.8" r="1.75" fill="#cdd0d1" />
<circle cx="763.9" cy="341.6" r="1.75" fill="#cdd0d1" />
<line x1="763.9" y1="341.6" x2="761.3" y2="345.2" stroke="#cdd0d1" stroke-width="1.4" stroke-linecap="round"/>
<circle cx="761.3" cy="345.2" r="1.75" fill="#cdd0d1" />
<circle cx="756.5" cy="343.2" r="1.75" fill="#cdd0d1" />
<path d="M764.6,341.4 L760.3,350.9" stroke="#cdd0d1" stroke-width="2.4" fill="none" stroke-linecap="round" stroke-linejoin="round"/>
<circle cx="760.3" cy="350.9" r="1.9" fill="#cdd0d1" />
<circle cx="761.5" cy="348.3" r="1.75" fill="#cdd0d1" />
<path d="M778.3,340.6 L771.4,353.4" stroke="#cdd0d1" stroke-width="2.4" fill="none" stroke-linecap="round" stroke-linejoin="round"/>
<circle cx="771.4" cy="353.4" r="1.9" fill="#cdd0d1" />
<circle cx="774.8" cy="347.2" r="1.75" fill="#cdd0d1" />
<path d="M800.2,320.0 L795.4,335.4 L792.0,352.6 L788.6,362.9" stroke="#cdd0d1" stroke-width="2.4" fill="none" stroke-linecap="round" stroke-linejoin="round"/>
<circle cx="795.4" cy="335.4" r="2.1" fill="#cdd0d1" />
<circle cx="792.0" cy="352.6" r="2.1" fill="#cdd0d1" />
<circle cx="788.6" cy="362.9" r="1.9" fill="#cdd0d1" />
<circle cx="798.0" cy="327.2" r="1.75" fill="#cdd0d1" />
<circle cx="795.4" cy="335.4" r="1.75" fill="#cdd0d1" />
<circle cx="794.0" cy="342.8" r="1.75" fill="#cdd0d1" />
<circle cx="792.5" cy="350.1" r="1.75" fill="#cdd0d1" />
<circle cx="790.4" cy="357.3" r="1.75" fill="#cdd0d1" />
<path d="M795.4,335.4 L788.6,338.0" stroke="#cdd0d1" stroke-width="2.4" fill="none" stroke-linecap="round" stroke-linejoin="round"/>
<circle cx="788.6" cy="338.0" r="1.9" fill="#cdd0d1" />
<path d="M792.0,352.6 L798.9,358.6" stroke="#cdd0d1" stroke-width="2.4" fill="none" stroke-linecap="round" stroke-linejoin="round"/>
<circle cx="798.9" cy="358.6" r="1.9" fill="#cdd0d1" />
<path d="M788.6,362.9 L781.7,365.4" stroke="#cdd0d1" stroke-width="2.4" fill="none" stroke-linecap="round" stroke-linejoin="round"/>
<circle cx="781.7" cy="365.4" r="1.9" fill="#cdd0d1" />
<path d="M803.1,323.4 L805.7,340.6 L804.0,356.0" stroke="#cdd0d1" stroke-width="2.4" fill="none" stroke-linecap="round" stroke-linejoin="round"/>
<circle cx="805.7" cy="340.6" r="2.1" fill="#cdd0d1" />
<circle cx="804.0" cy="356.0" r="1.9" fill="#cdd0d1" />
<circle cx="804.3" cy="330.8" r="1.75" fill="#cdd0d1" />
<circle cx="805.4" cy="338.3" r="1.75" fill="#cdd0d1" />
<circle cx="805.1" cy="345.7" r="1.75" fill="#cdd0d1" />
<circle cx="804.3" cy="353.2" r="1.75" fill="#cdd0d1" />
<path d="M843.4,286.6 L828.0,304.6" stroke="#cdd0d1" stroke-width="2.4" fill="none" stroke-linecap="round" stroke-linejoin="round"/>
<circle cx="828.0" cy="304.6" r="1.9" fill="#cdd0d1" />
<circle cx="838.6" cy="292.3" r="1.75" fill="#cdd0d1" />
<circle cx="833.7" cy="298.0" r="1.75" fill="#cdd0d1" />
<path d="M828.0,304.6 L819.4,300.3 L813.4,301.1 L811.7,309.7 L809.1,311.4" stroke="#cdd0d1" stroke-width="2.4" fill="none" stroke-linecap="round" stroke-linejoin="round"/>
<circle cx="819.4" cy="300.3" r="2.1" fill="#cdd0d1" />
<circle cx="813.4" cy="301.1" r="2.1" fill="#cdd0d1" />
<circle cx="811.7" cy="309.7" r="2.1" fill="#cdd0d1" />
<circle cx="809.1" cy="311.4" r="1.9" fill="#cdd0d1" />
<circle cx="821.3" cy="301.2" r="1.75" fill="#cdd0d1" />
<circle cx="813.4" cy="301.1" r="1.75" fill="#cdd0d1" />
<circle cx="811.7" cy="309.7" r="1.75" fill="#cdd0d1" />
<path d="M828.0,304.6 L824.6,316.6 L823.7,332.0 L828.0,340.6" stroke="#cdd0d1" stroke-width="2.4" fill="none" stroke-linecap="round" stroke-linejoin="round"/>
<circle cx="824.6" cy="316.6" r="2.1" fill="#cdd0d1" />
<circle cx="823.7" cy="332.0" r="2.1" fill="#cdd0d1" />
<circle cx="828.0" cy="340.6" r="1.9" fill="#cdd0d1" />
<circle cx="825.9" cy="311.8" r="1.75" fill="#cdd0d1" />
<line x1="825.9" y1="311.8" x2="830.7" y2="316.1" stroke="#cdd0d1" stroke-width="1.4" stroke-linecap="round"/>
<circle cx="830.7" cy="316.1" r="1.75" fill="#cdd0d1" />
<circle cx="824.4" cy="319.1" r="1.75" fill="#cdd0d1" />
<line x1="824.4" y1="319.1" x2="821.5" y2="321.4" stroke="#cdd0d1" stroke-width="1.4" stroke-linecap="round"/>
<circle cx="821.5" cy="321.4" r="1.75" fill="#cdd0d1" />
<circle cx="824.0" cy="326.6" r="1.75" fill="#cdd0d1" />
<line x1="824.0" y1="326.6" x2="818.7" y2="329.9" stroke="#cdd0d1" stroke-width="1.4" stroke-linecap="round"/>
<circle cx="818.7" cy="329.9" r="1.75" fill="#cdd0d1" />
<circle cx="824.6" cy="333.9" r="1.75" fill="#cdd0d1" />
<path d="M828.0,304.6 L833.1,318.3 L834.9,333.7 L838.3,349.1" stroke="#cdd0d1" stroke-width="2.4" fill="none" stroke-linecap="round" stroke-linejoin="round"/>
<circle cx="833.1" cy="318.3" r="2.1" fill="#cdd0d1" />
<circle cx="834.9" cy="333.7" r="2.1" fill="#cdd0d1" />
<circle cx="838.3" cy="349.1" r="1.9" fill="#cdd0d1" />
<circle cx="830.6" cy="311.6" r="1.75" fill="#cdd0d1" />
<line x1="830.6" y1="311.6" x2="834.5" y2="312.6" stroke="#cdd0d1" stroke-width="1.4" stroke-linecap="round"/>
<circle cx="834.5" cy="312.6" r="1.75" fill="#cdd0d1" />
<circle cx="833.2" cy="318.6" r="1.75" fill="#cdd0d1" />
<circle cx="834.0" cy="326.1" r="1.75" fill="#cdd0d1" />
<circle cx="834.9" cy="333.7" r="1.75" fill="#cdd0d1" />
<line x1="834.9" y1="333.7" x2="839.3" y2="336.4" stroke="#cdd0d1" stroke-width="1.4" stroke-linecap="round"/>
<circle cx="839.3" cy="336.4" r="1.75" fill="#cdd0d1" />
<circle cx="836.5" cy="341.0" r="1.75" fill="#cdd0d1" />
<path d="M824.6,316.6 L816.9,319.1" stroke="#cdd0d1" stroke-width="2.4" fill="none" stroke-linecap="round" stroke-linejoin="round"/>
<circle cx="816.9" cy="319.1" r="1.9" fill="#cdd0d1" />
<path d="M840.0,309.7 L843.4,325.1 L846.9,340.6" stroke="#cdd0d1" stroke-width="2.4" fill="none" stroke-linecap="round" stroke-linejoin="round"/>
<circle cx="843.4" cy="325.1" r="2.1" fill="#cdd0d1" />
<circle cx="846.9" cy="340.6" r="1.9" fill="#cdd0d1" />
<circle cx="841.6" cy="317.0" r="1.75" fill="#cdd0d1" />
<circle cx="843.4" cy="325.1" r="1.75" fill="#cdd0d1" />
<line x1="843.4" y1="325.1" x2="840.6" y2="328.8" stroke="#cdd0d1" stroke-width="1.4" stroke-linecap="round"/>
<circle cx="840.6" cy="328.8" r="1.75" fill="#cdd0d1" />
<circle cx="845.1" cy="332.5" r="1.75" fill="#cdd0d1" />
<line x1="845.1" y1="332.5" x2="842.6" y2="335.0" stroke="#cdd0d1" stroke-width="1.4" stroke-linecap="round"/>
<circle cx="842.6" cy="335.0" r="1.75" fill="#cdd0d1" />
<path d="M846.9,290.0 L850.3,309.7 L852.0,325.1 L855.4,340.6 L857.2,354.3" stroke="#cdd0d1" stroke-width="2.4" fill="none" stroke-linecap="round" stroke-linejoin="round"/>
<circle cx="850.3" cy="309.7" r="2.1" fill="#cdd0d1" />
<circle cx="852.0" cy="325.1" r="2.1" fill="#cdd0d1" />
<circle cx="855.4" cy="340.6" r="2.1" fill="#cdd0d1" />
<circle cx="857.2" cy="354.3" r="1.9" fill="#cdd0d1" />
<circle cx="848.1" cy="297.4" r="1.75" fill="#cdd0d1" />
<circle cx="849.4" cy="304.8" r="1.75" fill="#cdd0d1" />
<circle cx="850.6" cy="312.2" r="1.75" fill="#cdd0d1" />
<line x1="850.6" y1="312.2" x2="846.7" y2="315.8" stroke="#cdd0d1" stroke-width="1.4" stroke-linecap="round"/>
<circle cx="846.7" cy="315.8" r="1.75" fill="#cdd0d1" />
<circle cx="851.4" cy="319.6" r="1.75" fill="#cdd0d1" />
<line x1="851.4" y1="319.6" x2="857.7" y2="322.6" stroke="#cdd0d1" stroke-width="1.4" stroke-linecap="round"/>
<circle cx="857.7" cy="322.6" r="1.75" fill="#cdd0d1" />
<circle cx="852.4" cy="327.1" r="1.75" fill="#cdd0d1" />
<line x1="852.4" y1="327.1" x2="849.9" y2="332.8" stroke="#cdd0d1" stroke-width="1.4" stroke-linecap="round"/>
<circle cx="849.9" cy="332.8" r="1.75" fill="#cdd0d1" />
<circle cx="854.1" cy="334.4" r="1.75" fill="#cdd0d1" />
<line x1="854.1" y1="334.4" x2="850.2" y2="339.9" stroke="#cdd0d1" stroke-width="1.4" stroke-linecap="round"/>
<circle cx="850.2" cy="339.9" r="1.75" fill="#cdd0d1" />
<circle cx="855.6" cy="341.7" r="1.75" fill="#cdd0d1" />
<circle cx="856.5" cy="349.2" r="1.75" fill="#cdd0d1" />
<line x1="856.5" y1="349.2" x2="852.0" y2="352.3" stroke="#cdd0d1" stroke-width="1.4" stroke-linecap="round"/>
<circle cx="852.0" cy="352.3" r="1.75" fill="#cdd0d1" />
<path d="M852.0,325.1 L860.6,332.0 L865.7,335.4" stroke="#cdd0d1" stroke-width="2.4" fill="none" stroke-linecap="round" stroke-linejoin="round"/>
<circle cx="860.6" cy="332.0" r="2.1" fill="#cdd0d1" />
<circle cx="865.7" cy="335.4" r="1.9" fill="#cdd0d1" />
<circle cx="857.9" cy="329.8" r="1.75" fill="#cdd0d1" />
<circle cx="863.9" cy="334.2" r="1.75" fill="#cdd0d1" />
<line x1="863.9" y1="334.2" x2="864.0" y2="339.2" stroke="#cdd0d1" stroke-width="1.4" stroke-linecap="round"/>
<circle cx="864.0" cy="339.2" r="1.75" fill="#cdd0d1" />
<path d="M855.4,340.6 L864.0,345.7 L870.9,344.0" stroke="#cdd0d1" stroke-width="2.4" fill="none" stroke-linecap="round" stroke-linejoin="round"/>
<circle cx="864.0" cy="345.7" r="2.1" fill="#cdd0d1" />
<circle cx="870.9" cy="344.0" r="1.9" fill="#cdd0d1" />
<circle cx="861.9" cy="344.4" r="1.75" fill="#cdd0d1" />
<line x1="861.9" y1="344.4" x2="867.7" y2="342.0" stroke="#cdd0d1" stroke-width="1.4" stroke-linecap="round"/>
<circle cx="867.7" cy="342.0" r="1.75" fill="#cdd0d1" />
<circle cx="868.9" cy="344.5" r="1.75" fill="#cdd0d1" />
<line x1="868.9" y1="344.5" x2="873.0" y2="339.4" stroke="#cdd0d1" stroke-width="1.4" stroke-linecap="round"/>
<circle cx="873.0" cy="339.4" r="1.75" fill="#cdd0d1" />
<path d="M843.4,285.7 L864.9,279.7 L876.0,273.7 L889.7,268.6 L915.4,265.1" stroke="#cdd0d1" stroke-width="2.4" fill="none" stroke-linecap="round" stroke-linejoin="round"/>
<circle cx="864.9" cy="279.7" r="2.1" fill="#cdd0d1" />
<circle cx="876.0" cy="273.7" r="2.1" fill="#cdd0d1" />
<circle cx="889.7" cy="268.6" r="2.1" fill="#cdd0d1" />
<circle cx="915.4" cy="265.1" r="1.9" fill="#cdd0d1" />
<circle cx="850.7" cy="283.7" r="1.75" fill="#cdd0d1" />
<circle cx="857.9" cy="281.7" r="1.75" fill="#cdd0d1" />
<circle cx="865.1" cy="279.6" r="1.75" fill="#cdd0d1" />
<circle cx="871.7" cy="276.0" r="1.75" fill="#cdd0d1" />
<circle cx="878.4" cy="272.8" r="1.75" fill="#cdd0d1" />
<line x1="878.4" y1="272.8" x2="882.2" y2="275.0" stroke="#cdd0d1" stroke-width="1.4" stroke-linecap="round"/>
<circle cx="882.2" cy="275.0" r="1.75" fill="#cdd0d1" />
<circle cx="885.4" cy="270.2" r="1.75" fill="#cdd0d1" />
<line x1="885.4" y1="270.2" x2="889.5" y2="271.3" stroke="#cdd0d1" stroke-width="1.4" stroke-linecap="round"/>
<circle cx="889.5" cy="271.3" r="1.75" fill="#cdd0d1" />
<circle cx="892.6" cy="268.2" r="1.75" fill="#cdd0d1" />
<circle cx="900.1" cy="267.2" r="1.75" fill="#cdd0d1" />
<circle cx="907.5" cy="266.2" r="1.75" fill="#cdd0d1" />
<path d="M876.0,273.7 L884.6,263.4" stroke="#cdd0d1" stroke-width="2.4" fill="none" stroke-linecap="round" stroke-linejoin="round"/>
<circle cx="884.6" cy="263.4" r="1.9" fill="#cdd0d1" />
<circle cx="880.8" cy="268.0" r="1.75" fill="#cdd0d1" />
<line x1="880.8" y1="268.0" x2="880.8" y2="263.2" stroke="#cdd0d1" stroke-width="1.4" stroke-linecap="round"/>
<circle cx="880.8" cy="263.2" r="1.75" fill="#cdd0d1" />
<path d="M889.7,268.6 L896.6,272.0 L912.0,272.9" stroke="#cdd0d1" stroke-width="2.4" fill="none" stroke-linecap="round" stroke-linejoin="round"/>
<circle cx="896.6" cy="272.0" r="2.1" fill="#cdd0d1" />
<circle cx="912.0" cy="272.9" r="1.9" fill="#cdd0d1" />
<circle cx="896.6" cy="272.0" r="1.75" fill="#cdd0d1" />
<line x1="896.6" y1="272.0" x2="901.3" y2="275.8" stroke="#cdd0d1" stroke-width="1.4" stroke-linecap="round"/>
<circle cx="901.3" cy="275.8" r="1.75" fill="#cdd0d1" />
<circle cx="904.1" cy="272.4" r="1.75" fill="#cdd0d1" />
<path d="M864.9,279.7 L877.7,294.3 L889.7,299.4 L896.6,301.1" stroke="#cdd0d1" stroke-width="2.4" fill="none" stroke-linecap="round" stroke-linejoin="round"/>
<circle cx="877.7" cy="294.3" r="2.1" fill="#cdd0d1" />
<circle cx="889.7" cy="299.4" r="2.1" fill="#cdd0d1" />
<circle cx="896.6" cy="301.1" r="1.9" fill="#cdd0d1" />
<circle cx="869.8" cy="285.3" r="1.75" fill="#cdd0d1" />
<line x1="869.8" y1="285.3" x2="868.4" y2="288.9" stroke="#cdd0d1" stroke-width="1.4" stroke-linecap="round"/>
<circle cx="868.4" cy="288.9" r="1.75" fill="#cdd0d1" />
<circle cx="874.8" cy="291.0" r="1.75" fill="#cdd0d1" />
<circle cx="880.5" cy="295.5" r="1.75" fill="#cdd0d1" />
<circle cx="887.4" cy="298.4" r="1.75" fill="#cdd0d1" />
<circle cx="894.6" cy="300.6" r="1.75" fill="#cdd0d1" />
<path d="M874.3,285.7 L884.6,290.9 L891.4,294.3 L903.4,297.7" stroke="#cdd0d1" stroke-width="2.4" fill="none" stroke-linecap="round" stroke-linejoin="round"/>
<circle cx="884.6" cy="290.9" r="2.1" fill="#cdd0d1" />
<circle cx="891.4" cy="294.3" r="2.1" fill="#cdd0d1" />
<circle cx="903.4" cy="297.7" r="1.9" fill="#cdd0d1" />
<circle cx="881.0" cy="289.1" r="1.75" fill="#cdd0d1" />
<circle cx="887.7" cy="292.4" r="1.75" fill="#cdd0d1" />
<circle cx="894.6" cy="295.2" r="1.75" fill="#cdd0d1" />
<path d="M865.7,285.7 L879.4,304.6 L894.9,309.7 L906.9,309.7 L910.3,314.9" stroke="#cdd0d1" stroke-width="2.4" fill="none" stroke-linecap="round" stroke-linejoin="round"/>
<circle cx="879.4" cy="304.6" r="2.1" fill="#cdd0d1" />
<circle cx="894.9" cy="309.7" r="2.1" fill="#cdd0d1" />
<circle cx="906.9" cy="309.7" r="2.1" fill="#cdd0d1" />
<circle cx="910.3" cy="314.9" r="1.9" fill="#cdd0d1" />
<circle cx="870.1" cy="291.8" r="1.75" fill="#cdd0d1" />
<circle cx="874.5" cy="297.8" r="1.75" fill="#cdd0d1" />
<circle cx="879.4" cy="304.6" r="1.75" fill="#cdd0d1" />
<circle cx="886.5" cy="306.9" r="1.75" fill="#cdd0d1" />
<circle cx="894.9" cy="309.7" r="1.75" fill="#cdd0d1" />
<circle cx="902.4" cy="309.7" r="1.75" fill="#cdd0d1" />
<circle cx="908.5" cy="312.2" r="1.75" fill="#cdd0d1" />
<path d="M894.9,309.7 L900.0,314.9" stroke="#cdd0d1" stroke-width="2.4" fill="none" stroke-linecap="round" stroke-linejoin="round"/>
<circle cx="900.0" cy="314.9" r="1.9" fill="#cdd0d1" />
<path d="M846.9,290.0 L848.6,311.4 L843.4,328.6" stroke="#cdd0d1" stroke-width="2.4" fill="none" stroke-linecap="round" stroke-linejoin="round"/>
<circle cx="848.6" cy="311.4" r="2.1" fill="#cdd0d1" />
<circle cx="843.4" cy="328.6" r="1.9" fill="#cdd0d1" />
<circle cx="847.5" cy="297.5" r="1.75" fill="#cdd0d1" />
<line x1="847.5" y1="297.5" x2="844.2" y2="302.6" stroke="#cdd0d1" stroke-width="1.4" stroke-linecap="round"/>
<circle cx="844.2" cy="302.6" r="1.75" fill="#cdd0d1" />
<circle cx="848.1" cy="305.0" r="1.75" fill="#cdd0d1" />
<line x1="848.1" y1="305.0" x2="844.5" y2="310.4" stroke="#cdd0d1" stroke-width="1.4" stroke-linecap="round"/>
<circle cx="844.5" cy="310.4" r="1.75" fill="#cdd0d1" />
<circle cx="848.3" cy="312.4" r="1.75" fill="#cdd0d1" />
<circle cx="846.1" cy="319.6" r="1.75" fill="#cdd0d1" />
<path d="M848.6,311.4 L857.1,316.6 L857.1,337.1 L862.3,352.6 L857.1,353.4" stroke="#cdd0d1" stroke-width="2.4" fill="none" stroke-linecap="round" stroke-linejoin="round"/>
<circle cx="857.1" cy="316.6" r="2.1" fill="#cdd0d1" />
<circle cx="857.1" cy="337.1" r="2.1" fill="#cdd0d1" />
<circle cx="862.3" cy="352.6" r="2.1" fill="#cdd0d1" />
<circle cx="857.1" cy="353.4" r="1.9" fill="#cdd0d1" />
<circle cx="855.0" cy="315.3" r="1.75" fill="#cdd0d1" />
<line x1="855.0" y1="315.3" x2="856.3" y2="320.2" stroke="#cdd0d1" stroke-width="1.4" stroke-linecap="round"/>
<circle cx="856.3" cy="320.2" r="1.75" fill="#cdd0d1" />
<circle cx="857.1" cy="321.6" r="1.75" fill="#cdd0d1" />
<line x1="857.1" y1="321.6" x2="852.5" y2="326.6" stroke="#cdd0d1" stroke-width="1.4" stroke-linecap="round"/>
<circle cx="852.5" cy="326.6" r="1.75" fill="#cdd0d1" />
<circle cx="857.1" cy="329.1" r="1.75" fill="#cdd0d1" />
<circle cx="857.1" cy="337.1" r="1.75" fill="#cdd0d1" />
<circle cx="859.5" cy="344.3" r="1.75" fill="#cdd0d1" />
<line x1="859.5" y1="344.3" x2="863.7" y2="346.4" stroke="#cdd0d1" stroke-width="1.4" stroke-linecap="round"/>
<circle cx="863.7" cy="346.4" r="1.75" fill="#cdd0d1" />
<circle cx="862.3" cy="352.6" r="1.75" fill="#cdd0d1" />
<line x1="862.3" y1="352.6" x2="858.2" y2="349.2" stroke="#cdd0d1" stroke-width="1.4" stroke-linecap="round"/>
<circle cx="858.2" cy="349.2" r="1.75" fill="#cdd0d1" />
<path d="M850.3,311.4 L862.3,328.6 L874.3,345.7" stroke="#cdd0d1" stroke-width="2.4" fill="none" stroke-linecap="round" stroke-linejoin="round"/>
<circle cx="862.3" cy="328.6" r="2.1" fill="#cdd0d1" />
<circle cx="874.3" cy="345.7" r="1.9" fill="#cdd0d1" />
<circle cx="854.6" cy="317.6" r="1.75" fill="#cdd0d1" />
<line x1="854.6" y1="317.6" x2="858.7" y2="319.1" stroke="#cdd0d1" stroke-width="1.4" stroke-linecap="round"/>
<circle cx="858.7" cy="319.1" r="1.75" fill="#cdd0d1" />
<circle cx="858.9" cy="323.7" r="1.75" fill="#cdd0d1" />
<line x1="858.9" y1="323.7" x2="858.8" y2="327.3" stroke="#cdd0d1" stroke-width="1.4" stroke-linecap="round"/>
<circle cx="858.8" cy="327.3" r="1.75" fill="#cdd0d1" />
<circle cx="863.2" cy="329.9" r="1.75" fill="#cdd0d1" />
<circle cx="867.5" cy="336.0" r="1.75" fill="#cdd0d1" />
<line x1="867.5" y1="336.0" x2="873.6" y2="336.4" stroke="#cdd0d1" stroke-width="1.4" stroke-linecap="round"/>
<circle cx="873.6" cy="336.4" r="1.75" fill="#cdd0d1" />
<circle cx="871.8" cy="342.2" r="1.75" fill="#cdd0d1" />
<path d="M865.7,325.1 L876.0,338.9" stroke="#cdd0d1" stroke-width="2.4" fill="none" stroke-linecap="round" stroke-linejoin="round"/>
<circle cx="876.0" cy="338.9" r="1.9" fill="#cdd0d1" />
<circle cx="870.2" cy="331.1" r="1.75" fill="#cdd0d1" />
<circle cx="874.7" cy="337.1" r="1.75" fill="#cdd0d1" />
<path d="M857.1,337.1 L850.3,340.6" stroke="#cdd0d1" stroke-width="2.4" fill="none" stroke-linecap="round" stroke-linejoin="round"/>
<circle cx="850.3" cy="340.6" r="1.9" fill="#cdd0d1" />
<line x1="760.3" y1="203.1" x2="747.4" y2="198.0" stroke="#cdd0d1" stroke-width="1.5" stroke-linecap="round"/>
<circle cx="747.4" cy="198.0" r="1.8" fill="#cdd0d1" />
<line x1="760.3" y1="203.1" x2="754.3" y2="191.1" stroke="#cdd0d1" stroke-width="1.5" stroke-linecap="round"/>
<circle cx="754.3" cy="191.1" r="1.8" fill="#cdd0d1" />
<line x1="760.3" y1="203.1" x2="763.7" y2="190.3" stroke="#cdd0d1" stroke-width="1.5" stroke-linecap="round"/>
<circle cx="763.7" cy="190.3" r="1.8" fill="#cdd0d1" />
<line x1="760.3" y1="203.1" x2="771.4" y2="199.7" stroke="#cdd0d1" stroke-width="1.5" stroke-linecap="round"/>
<circle cx="771.4" cy="199.7" r="1.8" fill="#cdd0d1" />
<line x1="760.3" y1="203.1" x2="769.7" y2="210.0" stroke="#cdd0d1" stroke-width="1.5" stroke-linecap="round"/>
<circle cx="769.7" cy="210.0" r="1.8" fill="#cdd0d1" />
<line x1="760.3" y1="203.1" x2="758.6" y2="213.4" stroke="#cdd0d1" stroke-width="1.5" stroke-linecap="round"/>
<circle cx="758.6" cy="213.4" r="1.8" fill="#cdd0d1" />
<line x1="760.3" y1="203.1" x2="745.7" y2="206.6" stroke="#cdd0d1" stroke-width="1.5" stroke-linecap="round"/>
<circle cx="745.7" cy="206.6" r="1.8" fill="#cdd0d1" />
<circle cx="760.3" cy="203.1" r="2.3" fill="#cdd0d1" />
<line x1="804.0" y1="171.4" x2="795.4" y2="162.9" stroke="#cdd0d1" stroke-width="1.5" stroke-linecap="round"/>
<circle cx="795.4" cy="162.9" r="1.8" fill="#cdd0d1" />
<line x1="804.0" y1="171.4" x2="800.6" y2="161.1" stroke="#cdd0d1" stroke-width="1.5" stroke-linecap="round"/>
<circle cx="800.6" cy="161.1" r="1.8" fill="#cdd0d1" />
<line x1="804.0" y1="171.4" x2="808.3" y2="163.7" stroke="#cdd0d1" stroke-width="1.5" stroke-linecap="round"/>
<circle cx="808.3" cy="163.7" r="1.8" fill="#cdd0d1" />
<line x1="804.0" y1="171.4" x2="798.0" y2="168.9" stroke="#cdd0d1" stroke-width="1.5" stroke-linecap="round"/>
<circle cx="798.0" cy="168.9" r="1.8" fill="#cdd0d1" />
<circle cx="804.0" cy="171.4" r="2.3" fill="#cdd0d1" />
<line x1="742.3" y1="225.4" x2="733.7" y2="218.6" stroke="#cdd0d1" stroke-width="1.5" stroke-linecap="round"/>
<circle cx="733.7" cy="218.6" r="1.8" fill="#cdd0d1" />
<line x1="742.3" y1="225.4" x2="740.6" y2="216.9" stroke="#cdd0d1" stroke-width="1.5" stroke-linecap="round"/>
<circle cx="740.6" cy="216.9" r="1.8" fill="#cdd0d1" />
<line x1="742.3" y1="225.4" x2="749.1" y2="218.6" stroke="#cdd0d1" stroke-width="1.5" stroke-linecap="round"/>
<circle cx="749.1" cy="218.6" r="1.8" fill="#cdd0d1" />
<line x1="742.3" y1="225.4" x2="751.7" y2="226.3" stroke="#cdd0d1" stroke-width="1.5" stroke-linecap="round"/>
<circle cx="751.7" cy="226.3" r="1.8" fill="#cdd0d1" />
<line x1="742.3" y1="225.4" x2="745.7" y2="234.0" stroke="#cdd0d1" stroke-width="1.5" stroke-linecap="round"/>
<circle cx="745.7" cy="234.0" r="1.8" fill="#cdd0d1" />
<line x1="742.3" y1="225.4" x2="736.3" y2="232.3" stroke="#cdd0d1" stroke-width="1.5" stroke-linecap="round"/>
<circle cx="736.3" cy="232.3" r="1.8" fill="#cdd0d1" />
<line x1="742.3" y1="225.4" x2="732.0" y2="225.4" stroke="#cdd0d1" stroke-width="1.5" stroke-linecap="round"/>
<circle cx="732.0" cy="225.4" r="1.8" fill="#cdd0d1" />
<circle cx="742.3" cy="225.4" r="2.3" fill="#cdd0d1" />
<line x1="750.9" y1="258.5" x2="730.3" y2="252.9" stroke="#cdd0d1" stroke-width="1.5" stroke-linecap="round"/>
<circle cx="730.3" cy="252.9" r="1.8" fill="#cdd0d1" />
<line x1="750.9" y1="258.5" x2="733.7" y2="246.0" stroke="#cdd0d1" stroke-width="1.5" stroke-linecap="round"/>
<circle cx="733.7" cy="246.0" r="1.8" fill="#cdd0d1" />
<line x1="750.9" y1="258.5" x2="742.3" y2="246.0" stroke="#cdd0d1" stroke-width="1.5" stroke-linecap="round"/>
<circle cx="742.3" cy="246.0" r="1.8" fill="#cdd0d1" />
<line x1="750.9" y1="258.5" x2="761.1" y2="249.4" stroke="#cdd0d1" stroke-width="1.5" stroke-linecap="round"/>
<circle cx="761.1" cy="249.4" r="1.8" fill="#cdd0d1" />
<line x1="750.9" y1="258.5" x2="728.6" y2="261.4" stroke="#cdd0d1" stroke-width="1.5" stroke-linecap="round"/>
<circle cx="728.6" cy="261.4" r="1.8" fill="#cdd0d1" />
<line x1="750.9" y1="258.5" x2="737.1" y2="268.3" stroke="#cdd0d1" stroke-width="1.5" stroke-linecap="round"/>
<circle cx="737.1" cy="268.3" r="1.8" fill="#cdd0d1" />
<line x1="750.9" y1="258.5" x2="754.3" y2="268.3" stroke="#cdd0d1" stroke-width="1.5" stroke-linecap="round"/>
<circle cx="754.3" cy="268.3" r="1.8" fill="#cdd0d1" />
<circle cx="750.9" cy="258.5" r="2.3" fill="#cdd0d1" />
<line x1="865.4" y1="177.4" x2="857.1" y2="175.7" stroke="#cdd0d1" stroke-width="1.5" stroke-linecap="round"/>
<circle cx="857.1" cy="175.7" r="1.8" fill="#cdd0d1" />
<line x1="865.4" y1="177.4" x2="864.0" y2="169.7" stroke="#cdd0d1" stroke-width="1.5" stroke-linecap="round"/>
<circle cx="864.0" cy="169.7" r="1.8" fill="#cdd0d1" />
<line x1="865.4" y1="177.4" x2="872.6" y2="170.6" stroke="#cdd0d1" stroke-width="1.5" stroke-linecap="round"/>
<circle cx="872.6" cy="170.6" r="1.8" fill="#cdd0d1" />
<line x1="865.4" y1="177.4" x2="874.3" y2="180.0" stroke="#cdd0d1" stroke-width="1.5" stroke-linecap="round"/>
<circle cx="874.3" cy="180.0" r="1.8" fill="#cdd0d1" />
<line x1="865.4" y1="177.4" x2="869.1" y2="186.0" stroke="#cdd0d1" stroke-width="1.5" stroke-linecap="round"/>
<circle cx="869.1" cy="186.0" r="1.8" fill="#cdd0d1" />
<line x1="865.4" y1="177.4" x2="858.9" y2="180.9" stroke="#cdd0d1" stroke-width="1.5" stroke-linecap="round"/>
<circle cx="858.9" cy="180.9" r="1.8" fill="#cdd0d1" />
<circle cx="865.4" cy="177.4" r="2.3" fill="#cdd0d1" />
<line x1="887.1" y1="190.3" x2="881.1" y2="186.9" stroke="#cdd0d1" stroke-width="1.5" stroke-linecap="round"/>
<circle cx="881.1" cy="186.9" r="1.8" fill="#cdd0d1" />
<line x1="887.1" y1="190.3" x2="887.1" y2="182.6" stroke="#cdd0d1" stroke-width="1.5" stroke-linecap="round"/>
<circle cx="887.1" cy="182.6" r="1.8" fill="#cdd0d1" />
<line x1="887.1" y1="190.3" x2="894.0" y2="182.6" stroke="#cdd0d1" stroke-width="1.5" stroke-linecap="round"/>
<circle cx="894.0" cy="182.6" r="1.8" fill="#cdd0d1" />
<line x1="887.1" y1="190.3" x2="896.6" y2="191.1" stroke="#cdd0d1" stroke-width="1.5" stroke-linecap="round"/>
<circle cx="896.6" cy="191.1" r="1.8" fill="#cdd0d1" />
<line x1="887.1" y1="190.3" x2="898.3" y2="197.1" stroke="#cdd0d1" stroke-width="1.5" stroke-linecap="round"/>
<circle cx="898.3" cy="197.1" r="1.8" fill="#cdd0d1" />
<line x1="887.1" y1="190.3" x2="888.0" y2="198.9" stroke="#cdd0d1" stroke-width="1.5" stroke-linecap="round"/>
<circle cx="888.0" cy="198.9" r="1.8" fill="#cdd0d1" />
<line x1="887.1" y1="190.3" x2="877.7" y2="195.4" stroke="#cdd0d1" stroke-width="1.5" stroke-linecap="round"/>
<circle cx="877.7" cy="195.4" r="1.8" fill="#cdd0d1" />
<circle cx="887.1" cy="190.3" r="2.3" fill="#cdd0d1" />
<line x1="886.3" y1="211.7" x2="879.4" y2="216.9" stroke="#cdd0d1" stroke-width="1.5" stroke-linecap="round"/>
<circle cx="879.4" cy="216.9" r="1.8" fill="#cdd0d1" />
<line x1="886.3" y1="211.7" x2="885.4" y2="205.7" stroke="#cdd0d1" stroke-width="1.5" stroke-linecap="round"/>
<circle cx="885.4" cy="205.7" r="1.8" fill="#cdd0d1" />
<line x1="886.3" y1="211.7" x2="893.1" y2="209.1" stroke="#cdd0d1" stroke-width="1.5" stroke-linecap="round"/>
<circle cx="893.1" cy="209.1" r="1.8" fill="#cdd0d1" />
<line x1="886.3" y1="211.7" x2="891.4" y2="216.0" stroke="#cdd0d1" stroke-width="1.5" stroke-linecap="round"/>
<circle cx="891.4" cy="216.0" r="1.8" fill="#cdd0d1" />
<circle cx="886.3" cy="211.7" r="2.3" fill="#cdd0d1" />
<line x1="883.7" y1="228.0" x2="880.3" y2="223.7" stroke="#cdd0d1" stroke-width="1.5" stroke-linecap="round"/>
<circle cx="880.3" cy="223.7" r="1.8" fill="#cdd0d1" />
<line x1="883.7" y1="228.0" x2="888.0" y2="224.6" stroke="#cdd0d1" stroke-width="1.5" stroke-linecap="round"/>
<circle cx="888.0" cy="224.6" r="1.8" fill="#cdd0d1" />
<line x1="883.7" y1="228.0" x2="889.7" y2="230.6" stroke="#cdd0d1" stroke-width="1.5" stroke-linecap="round"/>
<circle cx="889.7" cy="230.6" r="1.8" fill="#cdd0d1" />
<line x1="883.7" y1="228.0" x2="882.9" y2="234.0" stroke="#cdd0d1" stroke-width="1.5" stroke-linecap="round"/>
<circle cx="882.9" cy="234.0" r="1.8" fill="#cdd0d1" />
<line x1="883.7" y1="228.0" x2="876.0" y2="230.6" stroke="#cdd0d1" stroke-width="1.5" stroke-linecap="round"/>
<circle cx="876.0" cy="230.6" r="1.8" fill="#cdd0d1" />
<circle cx="883.7" cy="228.0" r="2.3" fill="#cdd0d1" />
<line x1="905.1" y1="225.4" x2="904.3" y2="218.6" stroke="#cdd0d1" stroke-width="1.5" stroke-linecap="round"/>
<circle cx="904.3" cy="218.6" r="1.8" fill="#cdd0d1" />
<line x1="905.1" y1="225.4" x2="912.0" y2="221.1" stroke="#cdd0d1" stroke-width="1.5" stroke-linecap="round"/>
<circle cx="912.0" cy="221.1" r="1.8" fill="#cdd0d1" />
<line x1="905.1" y1="225.4" x2="910.3" y2="229.7" stroke="#cdd0d1" stroke-width="1.5" stroke-linecap="round"/>
<circle cx="910.3" cy="229.7" r="1.8" fill="#cdd0d1" />
<circle cx="905.1" cy="225.4" r="2.3" fill="#cdd0d1" />
<line x1="857.2" y1="354.3" x2="848.6" y2="357.7" stroke="#cdd0d1" stroke-width="1.5" stroke-linecap="round"/>
<circle cx="848.6" cy="357.7" r="1.8" fill="#cdd0d1" />
<line x1="857.2" y1="354.3" x2="852.0" y2="362.0" stroke="#cdd0d1" stroke-width="1.5" stroke-linecap="round"/>
<circle cx="852.0" cy="362.0" r="1.8" fill="#cdd0d1" />
<line x1="857.2" y1="354.3" x2="862.3" y2="361.1" stroke="#cdd0d1" stroke-width="1.5" stroke-linecap="round"/>
<circle cx="862.3" cy="361.1" r="1.8" fill="#cdd0d1" />
<line x1="857.2" y1="354.3" x2="865.7" y2="353.4" stroke="#cdd0d1" stroke-width="1.5" stroke-linecap="round"/>
<circle cx="865.7" cy="353.4" r="1.8" fill="#cdd0d1" />
<line x1="857.2" y1="354.3" x2="855.4" y2="346.6" stroke="#cdd0d1" stroke-width="1.5" stroke-linecap="round"/>
<circle cx="855.4" cy="346.6" r="1.8" fill="#cdd0d1" />
<circle cx="857.2" cy="354.3" r="2.3" fill="#cdd0d1" />
<line x1="747.4" y1="332.0" x2="740.6" y2="328.6" stroke="#cdd0d1" stroke-width="1.5" stroke-linecap="round"/>
<circle cx="740.6" cy="328.6" r="1.8" fill="#cdd0d1" />
<line x1="747.4" y1="332.0" x2="738.9" y2="335.4" stroke="#cdd0d1" stroke-width="1.5" stroke-linecap="round"/>
<circle cx="738.9" cy="335.4" r="1.8" fill="#cdd0d1" />
<line x1="747.4" y1="332.0" x2="745.7" y2="338.9" stroke="#cdd0d1" stroke-width="1.5" stroke-linecap="round"/>
<circle cx="745.7" cy="338.9" r="1.8" fill="#cdd0d1" />
<circle cx="747.4" cy="332.0" r="2.3" fill="#cdd0d1" />
<line x1="771.4" y1="353.4" x2="764.6" y2="356.0" stroke="#cdd0d1" stroke-width="1.5" stroke-linecap="round"/>
<circle cx="764.6" cy="356.0" r="1.8" fill="#cdd0d1" />
<line x1="771.4" y1="353.4" x2="769.7" y2="361.1" stroke="#cdd0d1" stroke-width="1.5" stroke-linecap="round"/>
<circle cx="769.7" cy="361.1" r="1.8" fill="#cdd0d1" />
<line x1="771.4" y1="353.4" x2="776.6" y2="359.4" stroke="#cdd0d1" stroke-width="1.5" stroke-linecap="round"/>
<circle cx="776.6" cy="359.4" r="1.8" fill="#cdd0d1" />
<circle cx="771.4" cy="353.4" r="2.3" fill="#cdd0d1" />
<line x1="914.6" y1="290.9" x2="918.9" y2="284.0" stroke="#cdd0d1" stroke-width="1.5" stroke-linecap="round"/>
<circle cx="918.9" cy="284.0" r="1.8" fill="#cdd0d1" />
<line x1="914.6" y1="290.9" x2="922.3" y2="296.9" stroke="#cdd0d1" stroke-width="1.5" stroke-linecap="round"/>
<circle cx="922.3" cy="296.9" r="1.8" fill="#cdd0d1" />
<line x1="914.6" y1="290.9" x2="915.4" y2="298.6" stroke="#cdd0d1" stroke-width="1.5" stroke-linecap="round"/>
<circle cx="915.4" cy="298.6" r="1.8" fill="#cdd0d1" />
<line x1="914.6" y1="290.9" x2="909.4" y2="294.3" stroke="#cdd0d1" stroke-width="1.5" stroke-linecap="round"/>
<circle cx="909.4" cy="294.3" r="1.8" fill="#cdd0d1" />
<circle cx="914.6" cy="290.9" r="2.3" fill="#cdd0d1" />
<line x1="887.1" y1="326.0" x2="896.6" y2="332.0" stroke="#cdd0d1" stroke-width="1.5" stroke-linecap="round"/>
<circle cx="896.6" cy="332.0" r="1.8" fill="#cdd0d1" />
<line x1="887.1" y1="326.0" x2="905.1" y2="333.7" stroke="#cdd0d1" stroke-width="1.5" stroke-linecap="round"/>
<circle cx="905.1" cy="333.7" r="1.8" fill="#cdd0d1" />
<line x1="887.1" y1="326.0" x2="901.7" y2="342.3" stroke="#cdd0d1" stroke-width="1.5" stroke-linecap="round"/>
<circle cx="901.7" cy="342.3" r="1.8" fill="#cdd0d1" />
<line x1="887.1" y1="326.0" x2="889.7" y2="345.7" stroke="#cdd0d1" stroke-width="1.5" stroke-linecap="round"/>
<circle cx="889.7" cy="345.7" r="1.8" fill="#cdd0d1" />
<line x1="887.1" y1="326.0" x2="881.1" y2="332.0" stroke="#cdd0d1" stroke-width="1.5" stroke-linecap="round"/>
<circle cx="881.1" cy="332.0" r="1.8" fill="#cdd0d1" />
<circle cx="887.1" cy="326.0" r="2.3" fill="#cdd0d1" />
<line x1="857.1" y1="353.4" x2="848.6" y2="356.9" stroke="#cdd0d1" stroke-width="1.5" stroke-linecap="round"/>
<circle cx="848.6" cy="356.9" r="1.8" fill="#cdd0d1" />
<line x1="857.1" y1="353.4" x2="853.7" y2="362.0" stroke="#cdd0d1" stroke-width="1.5" stroke-linecap="round"/>
<circle cx="853.7" cy="362.0" r="1.8" fill="#cdd0d1" />
<line x1="857.1" y1="353.4" x2="864.0" y2="361.1" stroke="#cdd0d1" stroke-width="1.5" stroke-linecap="round"/>
<circle cx="864.0" cy="361.1" r="1.8" fill="#cdd0d1" />
<line x1="857.1" y1="353.4" x2="864.0" y2="351.7" stroke="#cdd0d1" stroke-width="1.5" stroke-linecap="round"/>
<circle cx="864.0" cy="351.7" r="1.8" fill="#cdd0d1" />
<circle cx="857.1" cy="353.4" r="2.3" fill="#cdd0d1" />
<line x1="906.9" y1="309.7" x2="910.3" y2="304.6" stroke="#cdd0d1" stroke-width="1.5" stroke-linecap="round"/>
<circle cx="910.3" cy="304.6" r="1.8" fill="#cdd0d1" />
<line x1="906.9" y1="309.7" x2="912.0" y2="311.4" stroke="#cdd0d1" stroke-width="1.5" stroke-linecap="round"/>
<circle cx="912.0" cy="311.4" r="1.8" fill="#cdd0d1" />
<circle cx="906.9" cy="309.7" r="2.3" fill="#cdd0d1" />
<path d="M830.7,254.3 L825.7,234.3 L815.0,219.3" stroke="#cdd0d1" stroke-width="3.4" fill="none" stroke-linecap="round" stroke-linejoin="round"/>
<path d="M830.7,254.3 L796.4,266.4" stroke="#cdd0d1" stroke-width="3.6" fill="none" stroke-linecap="round" stroke-linejoin="round"/>
<path d="M830.7,254.3 L844.3,285.7" stroke="#cdd0d1" stroke-width="3.4" fill="none" stroke-linecap="round" stroke-linejoin="round"/>
<circle cx="830.7" cy="254.3" r="4.6" fill="#cdd0d1" />
<circle cx="796.4" cy="266.4" r="4" fill="#cdd0d1" />
<circle cx="844.3" cy="285.7" r="2.8" fill="#cdd0d1" />
<circle cx="815.0" cy="219.3" r="2.8" fill="#cdd0d1" />
<path d="M825.7,234.3 L833.5,225.0 L839.0,216.0 L842.0,205.0" stroke="#cdd0d1" stroke-width="2.6" fill="none" stroke-linecap="round" stroke-linejoin="round"/>
<circle cx="833.5" cy="225.0" r="2.1" fill="#cdd0d1" />
<circle cx="839.0" cy="216.0" r="2.1" fill="#cdd0d1" />
<circle cx="842.0" cy="205.0" r="1.9" fill="#cdd0d1" />
<circle cx="830.5" cy="228.6" r="1.75" fill="#cdd0d1" />
<circle cx="835.0" cy="222.6" r="1.75" fill="#cdd0d1" />
<circle cx="839.0" cy="216.0" r="1.75" fill="#cdd0d1" />
<circle cx="841.0" cy="208.8" r="1.75" fill="#cdd0d1" />
<line x1="841.0" y1="208.8" x2="838.7" y2="205.9" stroke="#cdd0d1" stroke-width="1.4" stroke-linecap="round"/>
<circle cx="838.7" cy="205.9" r="1.75" fill="#cdd0d1" />
<circle cx="825.7" cy="234.3" r="3" fill="#cdd0d1" />
<path d="M803.1,214.3 L797.1,199.7 L786.0,185.1 L779.7,175.4" stroke="#2563c4" stroke-width="2.6" fill="none" stroke-linecap="round" stroke-linejoin="round"/>
<circle cx="797.1" cy="199.7" r="2.3" fill="#2563c4" />
<circle cx="786.0" cy="185.1" r="2.3" fill="#2563c4" />
<circle cx="779.7" cy="175.4" r="2.3" fill="#2563c4" />
<path d="M786.0,185.1 L787.4,175.7" stroke="#2563c4" stroke-width="2.6" fill="none" stroke-linecap="round" stroke-linejoin="round"/>
<circle cx="787.4" cy="175.7" r="2.3" fill="#2563c4" />
<path d="M786.0,185.1 L778.3,184.3" stroke="#ef5a28" stroke-width="2.2" fill="none" stroke-linecap="round" stroke-linejoin="round"/>
<circle cx="778.3" cy="184.3" r="2" fill="#ef5a28" />
<path d="M815.0,219.3 L803.1,214.3" stroke="#2563c4" stroke-width="2.6" fill="none" stroke-linecap="round" stroke-linejoin="round"/>
<path d="M787.7,216.0 L783.8,213.4 L780.9,206.6 L780.3,198.9" stroke="#2563c4" stroke-width="2.4" fill="none" stroke-linecap="round" stroke-linejoin="round"/>
<circle cx="783.8" cy="213.4" r="2.1" fill="#2563c4" />
<circle cx="780.9" cy="206.6" r="2.1" fill="#2563c4" />
<circle cx="780.3" cy="198.9" r="2.1" fill="#2563c4" />
<path d="M817.7,206.6 L807.8,187.7 L804.0,171.4" stroke="#2563c4" stroke-width="2.6" fill="none" stroke-linecap="round" stroke-linejoin="round"/>
<circle cx="807.8" cy="187.7" r="2.3" fill="#2563c4" />
<circle cx="804.0" cy="171.4" r="2.3" fill="#2563c4" />
<path d="M815.0,219.3 L827.1,208.3 L832.8,193.2" stroke="#2563c4" stroke-width="2.8" fill="none" stroke-linecap="round" stroke-linejoin="round"/>
<circle cx="827.1" cy="208.3" r="2.8" fill="#2563c4" />
<circle cx="832.8" cy="193.2" r="2.8" fill="#2563c4" />
<path d="M844.3,285.7 L866.0,279.5" stroke="#cdd0d1" stroke-width="2.6" fill="none" stroke-linecap="round" stroke-linejoin="round"/>
<path d="M866.0,279.5 L880.3,279.2 L897.4,287.1 L914.6,290.9" stroke="#2563c4" stroke-width="2.8" fill="none" stroke-linecap="round" stroke-linejoin="round"/>
<circle cx="880.3" cy="279.2" r="2.7" fill="#2563c4" />
<circle cx="897.4" cy="287.1" r="2.7" fill="#2563c4" />
<circle cx="914.6" cy="290.9" r="2.7" fill="#2563c4" />
<path d="M846.4,290.0 L858.3,307.4 L874.0,316.0 L887.0,326.4 L890.7,320.3" stroke="#2563c4" stroke-width="2.6" fill="none" stroke-linecap="round" stroke-linejoin="round"/>
<circle cx="858.3" cy="307.4" r="2.5" fill="#2563c4" />
<circle cx="874.0" cy="316.0" r="2.5" fill="#2563c4" />
<circle cx="887.0" cy="326.4" r="2.5" fill="#2563c4" />
<circle cx="890.7" cy="320.3" r="2.5" fill="#2563c4" />
<path d="M796.4,266.4 L793.6,299.4" stroke="#6f98d0" stroke-width="3" fill="none" stroke-linecap="round" stroke-linejoin="round"/>
<circle cx="793.6" cy="299.4" r="2.8" fill="#6f98d0" />
<path d="M793.6,299.4 L779.1,310.6 L772.3,330.3" stroke="#2563c4" stroke-width="2.8" fill="none" stroke-linecap="round" stroke-linejoin="round"/>
<circle cx="779.1" cy="310.6" r="2.7" fill="#2563c4" />
<circle cx="772.3" cy="330.3" r="2.7" fill="#2563c4" />
<path d="M779.1,310.6 L779.1,329.4 L786.0,339.7" stroke="#2563c4" stroke-width="2.8" fill="none" stroke-linecap="round" stroke-linejoin="round"/>
<circle cx="779.1" cy="329.4" r="2.7" fill="#2563c4" />
<circle cx="786.0" cy="339.7" r="2.7" fill="#2563c4" />
<path d="M793.6,299.4 L800.2,320.0" stroke="#6f98d0" stroke-width="2.6" fill="none" stroke-linecap="round" stroke-linejoin="round"/>
<circle cx="800.2" cy="320.0" r="2.5" fill="#6f98d0" />
<path d="M800.2,320.0 L812.9,330.7 L817.9,350.7" stroke="#2563c4" stroke-width="2.6" fill="none" stroke-linecap="round" stroke-linejoin="round"/>
<circle cx="812.9" cy="330.7" r="2.6" fill="#2563c4" />
<circle cx="817.9" cy="350.7" r="2.6" fill="#2563c4" />
<text x="670.2" y="157.0" font-size="13.4" fill="#000" style="color:#000" text-anchor="start" >H</text>
<rect x="672.30" y="169.00" width="4.80" height="4.40" fill="#2a66c8" />
<text x="679.4" y="174.0" font-size="9" fill="#111" style="color:#111" text-anchor="start" >Raw</text>
<rect x="672.30" y="178.00" width="4.80" height="4.40" fill="#ef5a28" />
<text x="679.4" y="182.6" font-size="9" fill="#111" style="color:#111" text-anchor="start" >Day-30</text>
<defs><linearGradient id="cbH" x1="0" y1="0" x2="0" y2="1"><stop offset="0" stop-color="#2a62c0"/><stop offset="0.5" stop-color="#c8c8c8"/><stop offset="1" stop-color="#f0602c"/></linearGradient></defs>
<rect x="686.00" y="187.70" width="6.00" height="53.20" fill="url(#cbH)" />
<text x="693.4" y="193.4" font-size="8" fill="#222" style="color:#222" text-anchor="start" >3.6</text>
<text x="695.1" y="217.1" font-size="8" fill="#222" style="color:#222" text-anchor="start" >0.0</text>
<text x="694.0" y="241.9" font-size="8" fill="#222" style="color:#222" text-anchor="start" >-3.6</text>
<text x="0" y="0" font-size="7" fill="#222" text-anchor="middle" transform="translate(674.5,214.3) rotate(-90)">Log 2 ratio of</text>
<text x="0" y="0" font-size="7" fill="#222" text-anchor="middle" transform="translate(684,216.4) rotate(-90)">median proportions</text>
<text x="0" y="0" font-size="8.4" fill="#222" style="color:#222" text-anchor="middle" transform="translate(676.3,270.9) rotate(-90)">ASV count</text>
<path d="M682.6,261.4 L684.8,261.4 L687.6,285.0 L679.6,285.0 Z" fill="#c8cacb"/>
<text x="689.5" y="264.0" font-size="7.4" fill="#222" style="color:#222" text-anchor="start" >1</text>
<text x="689.5" y="276.0" font-size="7.4" fill="#222" style="color:#222" text-anchor="start" >751</text>
<text x="689.5" y="286.3" font-size="7.4" fill="#222" style="color:#222" text-anchor="start" >3000</text>
<text x="726.8" y="184.9" font-size="8.3" fill="#111" style="color:#111" text-anchor="start" font-style="italic">C. avidum</text>
<line x1="764.5" y1="182.0" x2="777.0" y2="184.0" stroke="#555" stroke-width="0.5" stroke-dasharray="1,0.8"/>
<text x="739.7" y="169.4" font-size="8.3" fill="#111" style="color:#111" text-anchor="start" >Cutibacterium</text>
<line x1="777.0" y1="172.0" x2="788.0" y2="182.0" stroke="#555" stroke-width="0.5" stroke-dasharray="1,0.8"/>
<text x="786.5" y="159.0" font-size="8.3" fill="#111" style="color:#111" text-anchor="start" >Rothia</text>
<line x1="800.0" y1="162.0" x2="805.0" y2="170.0" stroke="#555" stroke-width="0.5" stroke-dasharray="1,0.8"/>
<text x="835.7" y="163.0" font-size="8.3" fill="#111" style="color:#111" text-anchor="start" >Actinomycetaceae</text>
<line x1="858.0" y1="166.0" x2="834.0" y2="192.0" stroke="#555" stroke-width="0.5" stroke-dasharray="1,0.8"/>
<text x="712.3" y="213.4" font-size="8.3" fill="#111" style="color:#111" text-anchor="start" >Lawsonella</text>
<line x1="754.0" y1="211.0" x2="779.0" y2="206.0" stroke="#555" stroke-width="0.5" stroke-dasharray="1,0.8"/>
<text x="924.9" y="291.9" font-size="8.3" fill="#111" style="color:#111" text-anchor="start" >Haemophilus</text>
<line x1="916.0" y1="291.0" x2="923.0" y2="290.0" stroke="#555" stroke-width="0.5" stroke-dasharray="1,0.8"/>
<text x="906.0" y="328.9" font-size="8.3" fill="#111" style="color:#111" text-anchor="start" >Neisseria</text>
<line x1="893.0" y1="321.0" x2="904.0" y2="326.0" stroke="#555" stroke-width="0.5" stroke-dasharray="1,0.8"/>
<text x="676.5" y="338.2" font-size="8.3" fill="#111" style="color:#111" text-anchor="start" >Carnobacteriaceae</text>
<line x1="745.0" y1="335.0" x2="771.0" y2="330.0" stroke="#555" stroke-width="0.5" stroke-dasharray="1,0.8"/>
<text x="734.6" y="363.9" font-size="8.3" fill="#111" style="color:#111" text-anchor="start" >Streptococcus</text>
<line x1="780.0" y1="355.0" x2="786.0" y2="341.0" stroke="#555" stroke-width="0.5" stroke-dasharray="1,0.8"/>
<text x="798.0" y="370.9" font-size="8.3" fill="#111" style="color:#111" text-anchor="start" >Staphyloccoccus</text>
<line x1="818.0" y1="352.0" x2="819.0" y2="362.0" stroke="#555" stroke-width="0.5" stroke-dasharray="1,0.8"/>
<path d="M851.6,433.0 L834.0,422.0 L820.0,418.0" stroke="#cdd0d1" stroke-width="2.2" fill="none" stroke-linecap="round" stroke-linejoin="round"/>
<circle cx="834.0" cy="422.0" r="2.1" fill="#cdd0d1"/>
<circle cx="820.0" cy="418.0" r="2.1" fill="#cdd0d1"/>
<line x1="842.4" y1="427.2" x2="842.2" y2="422.6" stroke="#cdd0d1" stroke-width="1.4" stroke-linecap="round"/>
<circle cx="842.2" cy="422.6" r="1.8" fill="#cdd0d1" />
<line x1="830.6" y1="421.0" x2="824.3" y2="426.2" stroke="#cdd0d1" stroke-width="1.4" stroke-linecap="round"/>
<circle cx="824.3" cy="426.2" r="1.8" fill="#cdd0d1" />
<circle cx="827.5" cy="423.6" r="1.53" fill="#cdd0d1" />
<line x1="822.8" y1="418.8" x2="820.9" y2="414.0" stroke="#cdd0d1" stroke-width="1.4" stroke-linecap="round"/>
<circle cx="820.9" cy="414.0" r="1.8" fill="#cdd0d1" />
<line x1="820.9" y1="414.0" x2="817.8" y2="411.8" stroke="#cdd0d1" stroke-width="1.26" stroke-linecap="round"/>
<circle cx="817.8" cy="411.8" r="1.8" fill="#cdd0d1" />
<path d="M848.6,488.6 L865.9,507.5 L890.3,502.8" stroke="#cdd0d1" stroke-width="2.2" fill="none" stroke-linecap="round" stroke-linejoin="round"/>
<circle cx="865.9" cy="507.5" r="2.1" fill="#cdd0d1"/>
<circle cx="890.3" cy="502.8" r="2.1" fill="#cdd0d1"/>
<line x1="851.6" y1="491.9" x2="850.6" y2="498.9" stroke="#cdd0d1" stroke-width="1.4" stroke-linecap="round"/>
<circle cx="850.6" cy="498.9" r="1.8" fill="#cdd0d1" />
<circle cx="851.1" cy="495.4" r="1.53" fill="#cdd0d1" />
<line x1="855.7" y1="496.3" x2="863.3" y2="495.3" stroke="#cdd0d1" stroke-width="1.4" stroke-linecap="round"/>
<circle cx="863.3" cy="495.3" r="1.8" fill="#cdd0d1" />
<circle cx="859.5" cy="495.8" r="1.53" fill="#cdd0d1" />
<line x1="860.5" y1="501.6" x2="861.3" y2="509.2" stroke="#cdd0d1" stroke-width="1.4" stroke-linecap="round"/>
<circle cx="861.3" cy="509.2" r="1.8" fill="#cdd0d1" />
<circle cx="860.9" cy="505.4" r="1.53" fill="#cdd0d1" />
<line x1="861.3" y1="509.2" x2="864.9" y2="514.0" stroke="#cdd0d1" stroke-width="1.26" stroke-linecap="round"/>
<circle cx="864.9" cy="514.0" r="1.8" fill="#cdd0d1" />
<line x1="868.5" y1="507.0" x2="870.7" y2="500.9" stroke="#cdd0d1" stroke-width="1.4" stroke-linecap="round"/>
<circle cx="870.7" cy="500.9" r="1.8" fill="#cdd0d1" />
<line x1="876.2" y1="505.5" x2="881.3" y2="510.4" stroke="#cdd0d1" stroke-width="1.4" stroke-linecap="round"/>
<circle cx="881.3" cy="510.4" r="1.8" fill="#cdd0d1" />
<circle cx="878.7" cy="508.0" r="1.53" fill="#cdd0d1" />
<line x1="881.9" y1="504.4" x2="886.6" y2="498.3" stroke="#cdd0d1" stroke-width="1.4" stroke-linecap="round"/>
<circle cx="886.6" cy="498.3" r="1.8" fill="#cdd0d1" />
<circle cx="884.3" cy="501.4" r="1.53" fill="#cdd0d1" />
<path d="M865.9,507.5 L882.4,524.0 L912.2,533.4 L926.0,535.8" stroke="#cdd0d1" stroke-width="2.2" fill="none" stroke-linecap="round" stroke-linejoin="round"/>
<circle cx="882.4" cy="524.0" r="2.1" fill="#cdd0d1"/>
<circle cx="912.2" cy="533.4" r="2.1" fill="#cdd0d1"/>
<circle cx="926.0" cy="535.8" r="2.1" fill="#cdd0d1"/>
<line x1="868.5" y1="510.1" x2="869.3" y2="515.4" stroke="#cdd0d1" stroke-width="1.4" stroke-linecap="round"/>
<circle cx="869.3" cy="515.4" r="1.8" fill="#cdd0d1" />
<line x1="873.7" y1="515.3" x2="880.3" y2="515.6" stroke="#cdd0d1" stroke-width="1.4" stroke-linecap="round"/>
<circle cx="880.3" cy="515.6" r="1.8" fill="#cdd0d1" />
<line x1="878.2" y1="519.8" x2="877.1" y2="524.7" stroke="#cdd0d1" stroke-width="1.4" stroke-linecap="round"/>
<circle cx="877.1" cy="524.7" r="1.8" fill="#cdd0d1" />
<line x1="886.9" y1="525.4" x2="894.0" y2="521.5" stroke="#cdd0d1" stroke-width="1.4" stroke-linecap="round"/>
<circle cx="894.0" cy="521.5" r="1.8" fill="#cdd0d1" />
<circle cx="890.4" cy="523.5" r="1.53" fill="#cdd0d1" />
<line x1="892.3" y1="527.1" x2="896.9" y2="534.5" stroke="#cdd0d1" stroke-width="1.4" stroke-linecap="round"/>
<circle cx="896.9" cy="534.5" r="1.8" fill="#cdd0d1" />
<circle cx="894.6" cy="530.8" r="1.53" fill="#cdd0d1" />
<line x1="896.9" y1="534.5" x2="902.1" y2="536.0" stroke="#cdd0d1" stroke-width="1.26" stroke-linecap="round"/>
<circle cx="902.1" cy="536.0" r="1.8" fill="#cdd0d1" />
<line x1="900.3" y1="529.6" x2="905.5" y2="525.6" stroke="#cdd0d1" stroke-width="1.4" stroke-linecap="round"/>
<circle cx="905.5" cy="525.6" r="1.8" fill="#cdd0d1" />
<line x1="906.3" y1="531.5" x2="908.0" y2="537.8" stroke="#cdd0d1" stroke-width="1.4" stroke-linecap="round"/>
<circle cx="908.0" cy="537.8" r="1.8" fill="#cdd0d1" />
<line x1="908.0" y1="537.8" x2="911.6" y2="541.3" stroke="#cdd0d1" stroke-width="1.26" stroke-linecap="round"/>
<circle cx="911.6" cy="541.3" r="1.8" fill="#cdd0d1" />
<line x1="915.1" y1="533.9" x2="919.7" y2="530.8" stroke="#cdd0d1" stroke-width="1.4" stroke-linecap="round"/>
<circle cx="919.7" cy="530.8" r="1.8" fill="#cdd0d1" />
<line x1="921.2" y1="535.0" x2="923.1" y2="539.2" stroke="#cdd0d1" stroke-width="1.4" stroke-linecap="round"/>
<circle cx="923.1" cy="539.2" r="1.8" fill="#cdd0d1" />
<path d="M865.9,507.5 L866.7,522.4 L849.4,520.8" stroke="#cdd0d1" stroke-width="2.2" fill="none" stroke-linecap="round" stroke-linejoin="round"/>
<circle cx="866.7" cy="522.4" r="2.1" fill="#cdd0d1"/>
<circle cx="849.4" cy="520.8" r="2.1" fill="#cdd0d1"/>
<line x1="866.4" y1="517.4" x2="860.4" y2="524.1" stroke="#cdd0d1" stroke-width="1.4" stroke-linecap="round"/>
<circle cx="860.4" cy="524.1" r="1.8" fill="#cdd0d1" />
<circle cx="863.4" cy="520.8" r="1.53" fill="#cdd0d1" />
<line x1="863.6" y1="522.1" x2="860.2" y2="524.6" stroke="#cdd0d1" stroke-width="1.4" stroke-linecap="round"/>
<circle cx="860.2" cy="524.6" r="1.8" fill="#cdd0d1" />
<line x1="860.2" y1="524.6" x2="853.5" y2="523.5" stroke="#cdd0d1" stroke-width="1.26" stroke-linecap="round"/>
<circle cx="853.5" cy="523.5" r="1.8" fill="#cdd0d1" />
<line x1="856.9" y1="521.5" x2="854.0" y2="517.5" stroke="#cdd0d1" stroke-width="1.4" stroke-linecap="round"/>
<circle cx="854.0" cy="517.5" r="1.8" fill="#cdd0d1" />
<path d="M848.6,488.6 L871.4,497.3 L921.7,495.7" stroke="#cdd0d1" stroke-width="2.2" fill="none" stroke-linecap="round" stroke-linejoin="round"/>
<circle cx="871.4" cy="497.3" r="2.1" fill="#cdd0d1"/>
<circle cx="921.7" cy="495.7" r="2.1" fill="#cdd0d1"/>
<line x1="859.2" y1="492.7" x2="860.9" y2="501.2" stroke="#cdd0d1" stroke-width="1.4" stroke-linecap="round"/>
<circle cx="860.9" cy="501.2" r="1.8" fill="#cdd0d1" />
<circle cx="860.1" cy="496.9" r="1.53" fill="#cdd0d1" />
<line x1="865.5" y1="495.1" x2="870.8" y2="491.7" stroke="#cdd0d1" stroke-width="1.4" stroke-linecap="round"/>
<circle cx="870.8" cy="491.7" r="1.8" fill="#cdd0d1" />
<line x1="875.3" y1="497.2" x2="882.4" y2="502.1" stroke="#cdd0d1" stroke-width="1.4" stroke-linecap="round"/>
<circle cx="882.4" cy="502.1" r="1.8" fill="#cdd0d1" />
<circle cx="878.9" cy="499.6" r="1.53" fill="#cdd0d1" />
<line x1="882.4" y1="502.1" x2="887.0" y2="501.7" stroke="#cdd0d1" stroke-width="1.26" stroke-linecap="round"/>
<circle cx="887.0" cy="501.7" r="1.8" fill="#cdd0d1" />
<line x1="888.2" y1="496.8" x2="893.1" y2="492.0" stroke="#cdd0d1" stroke-width="1.4" stroke-linecap="round"/>
<circle cx="893.1" cy="492.0" r="1.8" fill="#cdd0d1" />
<line x1="895.0" y1="496.6" x2="901.6" y2="501.8" stroke="#cdd0d1" stroke-width="1.4" stroke-linecap="round"/>
<circle cx="901.6" cy="501.8" r="1.8" fill="#cdd0d1" />
<circle cx="898.3" cy="499.2" r="1.53" fill="#cdd0d1" />
<line x1="911.3" y1="496.0" x2="915.1" y2="492.8" stroke="#cdd0d1" stroke-width="1.4" stroke-linecap="round"/>
<circle cx="915.1" cy="492.8" r="1.8" fill="#cdd0d1" />
<line x1="915.1" y1="492.8" x2="919.4" y2="492.6" stroke="#cdd0d1" stroke-width="1.26" stroke-linecap="round"/>
<circle cx="919.4" cy="492.6" r="1.8" fill="#cdd0d1" />
<line x1="916.2" y1="495.9" x2="920.6" y2="502.2" stroke="#cdd0d1" stroke-width="1.4" stroke-linecap="round"/>
<circle cx="920.6" cy="502.2" r="1.8" fill="#cdd0d1" />
<circle cx="918.4" cy="499.1" r="1.53" fill="#cdd0d1" />
<path d="M882.4,524.0 L913.8,550.7" stroke="#cdd0d1" stroke-width="2.2" fill="none" stroke-linecap="round" stroke-linejoin="round"/>
<circle cx="913.8" cy="550.7" r="2.1" fill="#cdd0d1"/>
<line x1="884.9" y1="526.1" x2="885.4" y2="531.8" stroke="#cdd0d1" stroke-width="1.4" stroke-linecap="round"/>
<circle cx="885.4" cy="531.8" r="1.8" fill="#cdd0d1" />
<line x1="885.4" y1="531.8" x2="883.4" y2="535.2" stroke="#cdd0d1" stroke-width="1.26" stroke-linecap="round"/>
<circle cx="883.4" cy="535.2" r="1.8" fill="#cdd0d1" />
<line x1="890.4" y1="530.8" x2="895.3" y2="529.4" stroke="#cdd0d1" stroke-width="1.4" stroke-linecap="round"/>
<circle cx="895.3" cy="529.4" r="1.8" fill="#cdd0d1" />
<line x1="895.3" y1="529.4" x2="900.1" y2="531.0" stroke="#cdd0d1" stroke-width="1.26" stroke-linecap="round"/>
<circle cx="900.1" cy="531.0" r="1.8" fill="#cdd0d1" />
<line x1="896.7" y1="536.2" x2="896.2" y2="540.2" stroke="#cdd0d1" stroke-width="1.4" stroke-linecap="round"/>
<circle cx="896.2" cy="540.2" r="1.8" fill="#cdd0d1" />
<line x1="896.2" y1="540.2" x2="892.2" y2="543.5" stroke="#cdd0d1" stroke-width="1.26" stroke-linecap="round"/>
<circle cx="892.2" cy="543.5" r="1.8" fill="#cdd0d1" />
<line x1="901.3" y1="540.0" x2="909.9" y2="539.4" stroke="#cdd0d1" stroke-width="1.4" stroke-linecap="round"/>
<circle cx="909.9" cy="539.4" r="1.8" fill="#cdd0d1" />
<circle cx="905.6" cy="539.7" r="1.53" fill="#cdd0d1" />
<path d="M864.3,553.8 L868.0,575.0 L872.0,590.0" stroke="#cdd0d1" stroke-width="2.2" fill="none" stroke-linecap="round" stroke-linejoin="round"/>
<circle cx="868.0" cy="575.0" r="2.1" fill="#cdd0d1"/>
<circle cx="872.0" cy="590.0" r="2.1" fill="#cdd0d1"/>
<line x1="864.8" y1="556.6" x2="861.6" y2="562.3" stroke="#cdd0d1" stroke-width="1.4" stroke-linecap="round"/>
<circle cx="861.6" cy="562.3" r="1.8" fill="#cdd0d1" />
<line x1="866.3" y1="565.4" x2="873.2" y2="569.1" stroke="#cdd0d1" stroke-width="1.4" stroke-linecap="round"/>
<circle cx="873.2" cy="569.1" r="1.8" fill="#cdd0d1" />
<circle cx="869.7" cy="567.3" r="1.53" fill="#cdd0d1" />
<line x1="867.3" y1="571.2" x2="863.7" y2="574.9" stroke="#cdd0d1" stroke-width="1.4" stroke-linecap="round"/>
<circle cx="863.7" cy="574.9" r="1.8" fill="#cdd0d1" />
<line x1="869.0" y1="578.8" x2="873.2" y2="581.9" stroke="#cdd0d1" stroke-width="1.4" stroke-linecap="round"/>
<circle cx="873.2" cy="581.9" r="1.8" fill="#cdd0d1" />
<line x1="870.8" y1="585.7" x2="868.4" y2="591.8" stroke="#cdd0d1" stroke-width="1.4" stroke-linecap="round"/>
<circle cx="868.4" cy="591.8" r="1.8" fill="#cdd0d1" />
<path d="M854.1,536.5 L845.0,560.0" stroke="#cdd0d1" stroke-width="2.2" fill="none" stroke-linecap="round" stroke-linejoin="round"/>
<circle cx="845.0" cy="560.0" r="2.1" fill="#cdd0d1"/>
<line x1="852.9" y1="539.5" x2="849.1" y2="540.8" stroke="#cdd0d1" stroke-width="1.4" stroke-linecap="round"/>
<circle cx="849.1" cy="540.8" r="1.8" fill="#cdd0d1" />
<path d="M848.6,488.6 L811.4,490.0" stroke="#cdd0d1" stroke-width="2.2" fill="none" stroke-linecap="round" stroke-linejoin="round"/>
<circle cx="811.4" cy="490.0" r="2.1" fill="#cdd0d1"/>
<line x1="845.2" y1="488.7" x2="838.3" y2="483.2" stroke="#cdd0d1" stroke-width="1.4" stroke-linecap="round"/>
<circle cx="838.3" cy="483.2" r="1.8" fill="#cdd0d1" />
<circle cx="841.8" cy="486.0" r="1.53" fill="#cdd0d1" />
<line x1="838.6" y1="489.0" x2="833.9" y2="494.6" stroke="#cdd0d1" stroke-width="1.4" stroke-linecap="round"/>
<circle cx="833.9" cy="494.6" r="1.8" fill="#cdd0d1" />
<circle cx="836.3" cy="491.8" r="1.53" fill="#cdd0d1" />
<line x1="831.8" y1="489.2" x2="828.9" y2="485.0" stroke="#cdd0d1" stroke-width="1.4" stroke-linecap="round"/>
<circle cx="828.9" cy="485.0" r="1.8" fill="#cdd0d1" />
<line x1="828.9" y1="485.0" x2="823.4" y2="483.0" stroke="#cdd0d1" stroke-width="1.26" stroke-linecap="round"/>
<circle cx="823.4" cy="483.0" r="1.8" fill="#cdd0d1" />
<line x1="825.0" y1="489.5" x2="821.3" y2="494.9" stroke="#cdd0d1" stroke-width="1.4" stroke-linecap="round"/>
<circle cx="821.3" cy="494.9" r="1.8" fill="#cdd0d1" />
<line x1="821.3" y1="494.9" x2="814.9" y2="495.6" stroke="#cdd0d1" stroke-width="1.26" stroke-linecap="round"/>
<circle cx="814.9" cy="495.6" r="1.8" fill="#cdd0d1" />
<line x1="817.9" y1="489.8" x2="814.5" y2="485.5" stroke="#cdd0d1" stroke-width="1.4" stroke-linecap="round"/>
<circle cx="814.5" cy="485.5" r="1.8" fill="#cdd0d1" />
<path d="M799.3,482.1 L811.4,490.0" stroke="#cdd0d1" stroke-width="2.2" fill="none" stroke-linecap="round" stroke-linejoin="round"/>
<circle cx="811.4" cy="490.0" r="2.1" fill="#cdd0d1"/>
<line x1="802.2" y1="484.0" x2="803.9" y2="489.8" stroke="#cdd0d1" stroke-width="1.4" stroke-linecap="round"/>
<circle cx="803.9" cy="489.8" r="1.8" fill="#cdd0d1" />
<line x1="809.1" y1="488.5" x2="814.1" y2="487.5" stroke="#cdd0d1" stroke-width="1.4" stroke-linecap="round"/>
<circle cx="814.1" cy="487.5" r="1.8" fill="#cdd0d1" />
<path d="M788.3,502.6 L788.6,511.4" stroke="#cdd0d1" stroke-width="2.2" fill="none" stroke-linecap="round" stroke-linejoin="round"/>
<circle cx="788.6" cy="511.4" r="2.1" fill="#cdd0d1"/>
<line x1="788.4" y1="505.1" x2="785.0" y2="510.0" stroke="#cdd0d1" stroke-width="1.4" stroke-linecap="round"/>
<circle cx="785.0" cy="510.0" r="1.8" fill="#cdd0d1" />
<path d="M830.0,515.7 L801.4,515.7" stroke="#cdd0d1" stroke-width="2.2" fill="none" stroke-linecap="round" stroke-linejoin="round"/>
<circle cx="801.4" cy="515.7" r="2.1" fill="#cdd0d1"/>
<line x1="825.4" y1="515.7" x2="821.1" y2="508.2" stroke="#cdd0d1" stroke-width="1.4" stroke-linecap="round"/>
<circle cx="821.1" cy="508.2" r="1.8" fill="#cdd0d1" />
<circle cx="823.3" cy="512.0" r="1.53" fill="#cdd0d1" />
<line x1="811.8" y1="515.7" x2="808.2" y2="520.3" stroke="#cdd0d1" stroke-width="1.4" stroke-linecap="round"/>
<circle cx="808.2" cy="520.3" r="1.8" fill="#cdd0d1" />
<line x1="806.0" y1="515.7" x2="801.6" y2="512.6" stroke="#cdd0d1" stroke-width="1.4" stroke-linecap="round"/>
<circle cx="801.6" cy="512.6" r="1.8" fill="#cdd0d1" />
<path d="M801.4,515.7 L785.0,540.0 L778.6,559.3" stroke="#cdd0d1" stroke-width="2.2" fill="none" stroke-linecap="round" stroke-linejoin="round"/>
<circle cx="785.0" cy="540.0" r="2.1" fill="#cdd0d1"/>
<circle cx="778.6" cy="559.3" r="2.1" fill="#cdd0d1"/>
<line x1="798.7" y1="519.7" x2="793.7" y2="519.4" stroke="#cdd0d1" stroke-width="1.4" stroke-linecap="round"/>
<circle cx="793.7" cy="519.4" r="1.8" fill="#cdd0d1" />
<line x1="795.0" y1="525.1" x2="795.9" y2="529.3" stroke="#cdd0d1" stroke-width="1.4" stroke-linecap="round"/>
<circle cx="795.9" cy="529.3" r="1.8" fill="#cdd0d1" />
<line x1="788.2" y1="535.3" x2="784.0" y2="535.2" stroke="#cdd0d1" stroke-width="1.4" stroke-linecap="round"/>
<circle cx="784.0" cy="535.2" r="1.8" fill="#cdd0d1" />
<line x1="783.6" y1="544.2" x2="784.9" y2="548.1" stroke="#cdd0d1" stroke-width="1.4" stroke-linecap="round"/>
<circle cx="784.9" cy="548.1" r="1.8" fill="#cdd0d1" />
<line x1="784.9" y1="548.1" x2="781.8" y2="553.4" stroke="#cdd0d1" stroke-width="1.26" stroke-linecap="round"/>
<circle cx="781.8" cy="553.4" r="1.8" fill="#cdd0d1" />
<line x1="781.3" y1="551.0" x2="773.7" y2="555.4" stroke="#cdd0d1" stroke-width="1.4" stroke-linecap="round"/>
<circle cx="773.7" cy="555.4" r="1.8" fill="#cdd0d1" />
<circle cx="777.5" cy="553.2" r="1.53" fill="#cdd0d1" />
<path d="M815.7,556.4 L817.0,570.7" stroke="#cdd0d1" stroke-width="2.2" fill="none" stroke-linecap="round" stroke-linejoin="round"/>
<circle cx="817.0" cy="570.7" r="2.1" fill="#cdd0d1"/>
<line x1="816.0" y1="559.2" x2="812.7" y2="563.5" stroke="#cdd0d1" stroke-width="1.4" stroke-linecap="round"/>
<circle cx="812.7" cy="563.5" r="1.8" fill="#cdd0d1" />
<line x1="812.7" y1="563.5" x2="807.0" y2="564.2" stroke="#cdd0d1" stroke-width="1.26" stroke-linecap="round"/>
<circle cx="807.0" cy="564.2" r="1.8" fill="#cdd0d1" />
<line x1="816.8" y1="568.1" x2="821.4" y2="572.5" stroke="#cdd0d1" stroke-width="1.4" stroke-linecap="round"/>
<circle cx="821.4" cy="572.5" r="1.8" fill="#cdd0d1" />
<path d="M847.1,560.7 L847.0,565.0" stroke="#cdd0d1" stroke-width="2.2" fill="none" stroke-linecap="round" stroke-linejoin="round"/>
<circle cx="847.0" cy="565.0" r="2.1" fill="#cdd0d1"/>
<path d="M868.0,448.0 L875.0,460.0 L890.0,447.0" stroke="#cdd0d1" stroke-width="2.2" fill="none" stroke-linecap="round" stroke-linejoin="round"/>
<circle cx="875.0" cy="460.0" r="2.1" fill="#cdd0d1"/>
<circle cx="890.0" cy="447.0" r="2.1" fill="#cdd0d1"/>
<line x1="870.4" y1="452.1" x2="869.2" y2="458.2" stroke="#cdd0d1" stroke-width="1.4" stroke-linecap="round"/>
<circle cx="869.2" cy="458.2" r="1.8" fill="#cdd0d1" />
<line x1="878.6" y1="456.9" x2="877.7" y2="449.3" stroke="#cdd0d1" stroke-width="1.4" stroke-linecap="round"/>
<circle cx="877.7" cy="449.3" r="1.8" fill="#cdd0d1" />
<circle cx="878.2" cy="453.1" r="1.53" fill="#cdd0d1" />
<line x1="883.5" y1="452.6" x2="889.1" y2="452.8" stroke="#cdd0d1" stroke-width="1.4" stroke-linecap="round"/>
<circle cx="889.1" cy="452.8" r="1.8" fill="#cdd0d1" />
<path d="M881.0,436.0 L860.0,430.0 L870.0,420.0" stroke="#cdd0d1" stroke-width="2.2" fill="none" stroke-linecap="round" stroke-linejoin="round"/>
<circle cx="860.0" cy="430.0" r="2.1" fill="#cdd0d1"/>
<circle cx="870.0" cy="420.0" r="2.1" fill="#cdd0d1"/>
<line x1="876.9" y1="434.8" x2="872.5" y2="428.4" stroke="#cdd0d1" stroke-width="1.4" stroke-linecap="round"/>
<circle cx="872.5" cy="428.4" r="1.8" fill="#cdd0d1" />
<circle cx="874.7" cy="431.6" r="1.53" fill="#cdd0d1" />
<line x1="872.5" y1="428.4" x2="867.6" y2="426.1" stroke="#cdd0d1" stroke-width="1.26" stroke-linecap="round"/>
<circle cx="867.6" cy="426.1" r="1.8" fill="#cdd0d1" />
<line x1="862.0" y1="428.0" x2="862.9" y2="421.6" stroke="#cdd0d1" stroke-width="1.4" stroke-linecap="round"/>
<circle cx="862.9" cy="421.6" r="1.8" fill="#cdd0d1" />
<line x1="867.3" y1="422.7" x2="874.4" y2="422.7" stroke="#cdd0d1" stroke-width="1.4" stroke-linecap="round"/>
<circle cx="874.4" cy="422.7" r="1.8" fill="#cdd0d1" />
<circle cx="870.9" cy="422.7" r="1.53" fill="#cdd0d1" />
<path d="M896.0,455.0 L905.0,445.0 L925.0,445.0" stroke="#cdd0d1" stroke-width="2.2" fill="none" stroke-linecap="round" stroke-linejoin="round"/>
<circle cx="905.0" cy="445.0" r="2.1" fill="#cdd0d1"/>
<circle cx="925.0" cy="445.0" r="2.1" fill="#cdd0d1"/>
<line x1="898.8" y1="451.9" x2="903.4" y2="452.2" stroke="#cdd0d1" stroke-width="1.4" stroke-linecap="round"/>
<circle cx="903.4" cy="452.2" r="1.8" fill="#cdd0d1" />
<line x1="907.9" y1="445.0" x2="913.4" y2="439.6" stroke="#cdd0d1" stroke-width="1.4" stroke-linecap="round"/>
<circle cx="913.4" cy="439.6" r="1.8" fill="#cdd0d1" />
<circle cx="910.7" cy="442.3" r="1.53" fill="#cdd0d1" />
<line x1="913.4" y1="439.6" x2="917.4" y2="439.0" stroke="#cdd0d1" stroke-width="1.26" stroke-linecap="round"/>
<circle cx="917.4" cy="439.0" r="1.8" fill="#cdd0d1" />
<line x1="916.6" y1="445.0" x2="920.9" y2="449.1" stroke="#cdd0d1" stroke-width="1.4" stroke-linecap="round"/>
<circle cx="920.9" cy="449.1" r="1.8" fill="#cdd0d1" />
<path d="M872.0,474.0 L895.0,462.0 L915.0,455.0" stroke="#cdd0d1" stroke-width="2.2" fill="none" stroke-linecap="round" stroke-linejoin="round"/>
<circle cx="895.0" cy="462.0" r="2.1" fill="#cdd0d1"/>
<circle cx="915.0" cy="455.0" r="2.1" fill="#cdd0d1"/>
<line x1="875.1" y1="472.4" x2="881.6" y2="475.7" stroke="#cdd0d1" stroke-width="1.4" stroke-linecap="round"/>
<circle cx="881.6" cy="475.7" r="1.8" fill="#cdd0d1" />
<circle cx="878.3" cy="474.1" r="1.53" fill="#cdd0d1" />
<line x1="880.3" y1="469.7" x2="881.3" y2="461.5" stroke="#cdd0d1" stroke-width="1.4" stroke-linecap="round"/>
<circle cx="881.3" cy="461.5" r="1.8" fill="#cdd0d1" />
<circle cx="880.8" cy="465.6" r="1.53" fill="#cdd0d1" />
<line x1="886.4" y1="466.5" x2="891.2" y2="467.4" stroke="#cdd0d1" stroke-width="1.4" stroke-linecap="round"/>
<circle cx="891.2" cy="467.4" r="1.8" fill="#cdd0d1" />
<line x1="911.4" y1="456.3" x2="913.8" y2="447.9" stroke="#cdd0d1" stroke-width="1.4" stroke-linecap="round"/>
<circle cx="913.8" cy="447.9" r="1.8" fill="#cdd0d1" />
<circle cx="912.6" cy="452.1" r="1.53" fill="#cdd0d1" />
<line x1="913.8" y1="447.9" x2="912.0" y2="444.0" stroke="#cdd0d1" stroke-width="1.26" stroke-linecap="round"/>
<circle cx="912.0" cy="444.0" r="1.8" fill="#cdd0d1" />
<path d="M876.0,481.0 L900.0,490.0 L920.0,487.0" stroke="#cdd0d1" stroke-width="2.2" fill="none" stroke-linecap="round" stroke-linejoin="round"/>
<circle cx="900.0" cy="490.0" r="2.1" fill="#cdd0d1"/>
<circle cx="920.0" cy="487.0" r="2.1" fill="#cdd0d1"/>
<line x1="878.9" y1="482.1" x2="881.5" y2="486.7" stroke="#cdd0d1" stroke-width="1.4" stroke-linecap="round"/>
<circle cx="881.5" cy="486.7" r="1.8" fill="#cdd0d1" />
<line x1="886.2" y1="484.8" x2="891.7" y2="483.4" stroke="#cdd0d1" stroke-width="1.4" stroke-linecap="round"/>
<circle cx="891.7" cy="483.4" r="1.8" fill="#cdd0d1" />
<line x1="891.6" y1="486.8" x2="895.5" y2="493.8" stroke="#cdd0d1" stroke-width="1.4" stroke-linecap="round"/>
<circle cx="895.5" cy="493.8" r="1.8" fill="#cdd0d1" />
<circle cx="893.5" cy="490.3" r="1.53" fill="#cdd0d1" />
<line x1="902.3" y1="489.7" x2="906.3" y2="484.2" stroke="#cdd0d1" stroke-width="1.4" stroke-linecap="round"/>
<circle cx="906.3" cy="484.2" r="1.8" fill="#cdd0d1" />
<line x1="909.3" y1="488.6" x2="913.6" y2="492.8" stroke="#cdd0d1" stroke-width="1.4" stroke-linecap="round"/>
<circle cx="913.6" cy="492.8" r="1.8" fill="#cdd0d1" />
<line x1="913.6" y1="492.8" x2="914.4" y2="497.3" stroke="#cdd0d1" stroke-width="1.26" stroke-linecap="round"/>
<circle cx="914.4" cy="497.3" r="1.8" fill="#cdd0d1" />
<path d="M762.9,472.9 L752.0,480.0 L735.0,478.0" stroke="#cdd0d1" stroke-width="2.2" fill="none" stroke-linecap="round" stroke-linejoin="round"/>
<circle cx="752.0" cy="480.0" r="2.1" fill="#cdd0d1"/>
<circle cx="735.0" cy="478.0" r="2.1" fill="#cdd0d1"/>
<line x1="759.8" y1="474.9" x2="751.7" y2="473.1" stroke="#cdd0d1" stroke-width="1.4" stroke-linecap="round"/>
<circle cx="751.7" cy="473.1" r="1.8" fill="#cdd0d1" />
<circle cx="755.7" cy="474.0" r="1.53" fill="#cdd0d1" />
<line x1="748.9" y1="479.6" x2="745.4" y2="483.3" stroke="#cdd0d1" stroke-width="1.4" stroke-linecap="round"/>
<circle cx="745.4" cy="483.3" r="1.8" fill="#cdd0d1" />
<line x1="745.4" y1="483.3" x2="739.1" y2="483.1" stroke="#cdd0d1" stroke-width="1.26" stroke-linecap="round"/>
<circle cx="739.1" cy="483.1" r="1.8" fill="#cdd0d1" />
<path d="M758.6,492.9 L765.0,480.0 L775.0,470.0" stroke="#cdd0d1" stroke-width="2.2" fill="none" stroke-linecap="round" stroke-linejoin="round"/>
<circle cx="765.0" cy="480.0" r="2.1" fill="#cdd0d1"/>
<circle cx="775.0" cy="470.0" r="2.1" fill="#cdd0d1"/>
<line x1="760.1" y1="489.9" x2="766.1" y2="486.7" stroke="#cdd0d1" stroke-width="1.4" stroke-linecap="round"/>
<circle cx="766.1" cy="486.7" r="1.8" fill="#cdd0d1" />
<line x1="763.8" y1="482.5" x2="761.4" y2="477.1" stroke="#cdd0d1" stroke-width="1.4" stroke-linecap="round"/>
<circle cx="761.4" cy="477.1" r="1.8" fill="#cdd0d1" />
<line x1="766.8" y1="478.2" x2="775.4" y2="478.7" stroke="#cdd0d1" stroke-width="1.4" stroke-linecap="round"/>
<circle cx="775.4" cy="478.7" r="1.8" fill="#cdd0d1" />
<circle cx="771.1" cy="478.5" r="1.53" fill="#cdd0d1" />
<line x1="775.4" y1="478.7" x2="780.4" y2="483.4" stroke="#cdd0d1" stroke-width="1.26" stroke-linecap="round"/>
<circle cx="780.4" cy="483.4" r="1.8" fill="#cdd0d1" />
<line x1="771.8" y1="473.2" x2="769.7" y2="464.5" stroke="#cdd0d1" stroke-width="1.4" stroke-linecap="round"/>
<circle cx="769.7" cy="464.5" r="1.8" fill="#cdd0d1" />
<circle cx="770.8" cy="468.9" r="1.53" fill="#cdd0d1" />
<path d="M774.3,505.7 L770.0,520.0 L755.0,530.0" stroke="#cdd0d1" stroke-width="2.2" fill="none" stroke-linecap="round" stroke-linejoin="round"/>
<circle cx="770.0" cy="520.0" r="2.1" fill="#cdd0d1"/>
<circle cx="755.0" cy="530.0" r="2.1" fill="#cdd0d1"/>
<line x1="766.8" y1="522.1" x2="758.9" y2="521.4" stroke="#cdd0d1" stroke-width="1.4" stroke-linecap="round"/>
<circle cx="758.9" cy="521.4" r="1.8" fill="#cdd0d1" />
<circle cx="762.9" cy="521.8" r="1.53" fill="#cdd0d1" />
<line x1="758.9" y1="521.4" x2="754.3" y2="517.0" stroke="#cdd0d1" stroke-width="1.26" stroke-linecap="round"/>
<circle cx="754.3" cy="517.0" r="1.8" fill="#cdd0d1" />
<line x1="762.0" y1="525.3" x2="760.7" y2="531.8" stroke="#cdd0d1" stroke-width="1.4" stroke-linecap="round"/>
<circle cx="760.7" cy="531.8" r="1.8" fill="#cdd0d1" />
<path d="M776.4,532.9 L765.0,555.0 L770.0,570.0" stroke="#cdd0d1" stroke-width="2.2" fill="none" stroke-linecap="round" stroke-linejoin="round"/>
<circle cx="765.0" cy="555.0" r="2.1" fill="#cdd0d1"/>
<circle cx="770.0" cy="570.0" r="2.1" fill="#cdd0d1"/>
<line x1="775.3" y1="535.1" x2="766.9" y2="536.5" stroke="#cdd0d1" stroke-width="1.4" stroke-linecap="round"/>
<circle cx="766.9" cy="536.5" r="1.8" fill="#cdd0d1" />
<circle cx="771.1" cy="535.8" r="1.53" fill="#cdd0d1" />
<line x1="766.9" y1="536.5" x2="763.8" y2="534.6" stroke="#cdd0d1" stroke-width="1.26" stroke-linecap="round"/>
<circle cx="763.8" cy="534.6" r="1.8" fill="#cdd0d1" />
<line x1="771.2" y1="543.1" x2="773.8" y2="549.3" stroke="#cdd0d1" stroke-width="1.4" stroke-linecap="round"/>
<circle cx="773.8" cy="549.3" r="1.8" fill="#cdd0d1" />
<line x1="768.6" y1="548.0" x2="762.7" y2="549.4" stroke="#cdd0d1" stroke-width="1.4" stroke-linecap="round"/>
<circle cx="762.7" cy="549.4" r="1.8" fill="#cdd0d1" />
<line x1="766.1" y1="558.2" x2="771.8" y2="562.3" stroke="#cdd0d1" stroke-width="1.4" stroke-linecap="round"/>
<circle cx="771.8" cy="562.3" r="1.8" fill="#cdd0d1" />
<circle cx="768.9" cy="560.3" r="1.53" fill="#cdd0d1" />
<line x1="768.1" y1="564.3" x2="764.4" y2="569.3" stroke="#cdd0d1" stroke-width="1.4" stroke-linecap="round"/>
<circle cx="764.4" cy="569.3" r="1.8" fill="#cdd0d1" />
<line x1="764.4" y1="569.3" x2="764.6" y2="573.3" stroke="#cdd0d1" stroke-width="1.26" stroke-linecap="round"/>
<circle cx="764.6" cy="573.3" r="1.8" fill="#cdd0d1" />
<path d="M801.4,539.3 L790.0,560.0 L795.0,578.0" stroke="#cdd0d1" stroke-width="2.2" fill="none" stroke-linecap="round" stroke-linejoin="round"/>
<circle cx="790.0" cy="560.0" r="2.1" fill="#cdd0d1"/>
<circle cx="795.0" cy="578.0" r="2.1" fill="#cdd0d1"/>
<line x1="799.8" y1="542.2" x2="793.5" y2="543.9" stroke="#cdd0d1" stroke-width="1.4" stroke-linecap="round"/>
<circle cx="793.5" cy="543.9" r="1.8" fill="#cdd0d1" />
<line x1="793.5" y1="543.9" x2="790.3" y2="549.0" stroke="#cdd0d1" stroke-width="1.26" stroke-linecap="round"/>
<circle cx="790.3" cy="549.0" r="1.8" fill="#cdd0d1" />
<line x1="796.0" y1="549.2" x2="796.8" y2="555.6" stroke="#cdd0d1" stroke-width="1.4" stroke-linecap="round"/>
<circle cx="796.8" cy="555.6" r="1.8" fill="#cdd0d1" />
<line x1="792.3" y1="555.7" x2="783.4" y2="556.5" stroke="#cdd0d1" stroke-width="1.4" stroke-linecap="round"/>
<circle cx="783.4" cy="556.5" r="1.8" fill="#cdd0d1" />
<circle cx="787.9" cy="556.1" r="1.53" fill="#cdd0d1" />
<line x1="791.2" y1="564.2" x2="797.4" y2="565.9" stroke="#cdd0d1" stroke-width="1.4" stroke-linecap="round"/>
<circle cx="797.4" cy="565.9" r="1.8" fill="#cdd0d1" />
<line x1="793.1" y1="571.2" x2="787.7" y2="577.9" stroke="#cdd0d1" stroke-width="1.4" stroke-linecap="round"/>
<circle cx="787.7" cy="577.9" r="1.8" fill="#cdd0d1" />
<circle cx="790.4" cy="574.6" r="1.53" fill="#cdd0d1" />
<line x1="787.7" y1="577.9" x2="783.7" y2="578.9" stroke="#cdd0d1" stroke-width="1.26" stroke-linecap="round"/>
<circle cx="783.7" cy="578.9" r="1.8" fill="#cdd0d1" />
<path d="M808.6,547.9 L800.0,575.0 L805.0,585.0" stroke="#cdd0d1" stroke-width="2.2" fill="none" stroke-linecap="round" stroke-linejoin="round"/>
<circle cx="800.0" cy="575.0" r="2.1" fill="#cdd0d1"/>
<circle cx="805.0" cy="585.0" r="2.1" fill="#cdd0d1"/>
<line x1="807.2" y1="552.3" x2="802.7" y2="553.7" stroke="#cdd0d1" stroke-width="1.4" stroke-linecap="round"/>
<circle cx="802.7" cy="553.7" r="1.8" fill="#cdd0d1" />
<line x1="805.1" y1="559.0" x2="807.7" y2="565.0" stroke="#cdd0d1" stroke-width="1.4" stroke-linecap="round"/>
<circle cx="807.7" cy="565.0" r="1.8" fill="#cdd0d1" />
<line x1="803.7" y1="563.3" x2="796.4" y2="568.1" stroke="#cdd0d1" stroke-width="1.4" stroke-linecap="round"/>
<circle cx="796.4" cy="568.1" r="1.8" fill="#cdd0d1" />
<circle cx="800.1" cy="565.7" r="1.53" fill="#cdd0d1" />
<line x1="800.9" y1="572.3" x2="803.6" y2="576.0" stroke="#cdd0d1" stroke-width="1.4" stroke-linecap="round"/>
<circle cx="803.6" cy="576.0" r="1.8" fill="#cdd0d1" />
<line x1="801.7" y1="578.5" x2="798.3" y2="584.3" stroke="#cdd0d1" stroke-width="1.4" stroke-linecap="round"/>
<circle cx="798.3" cy="584.3" r="1.8" fill="#cdd0d1" />
<path d="M828.6,542.1 L835.0,575.0 L838.0,590.0" stroke="#cdd0d1" stroke-width="2.2" fill="none" stroke-linecap="round" stroke-linejoin="round"/>
<circle cx="835.0" cy="575.0" r="2.1" fill="#cdd0d1"/>
<circle cx="838.0" cy="590.0" r="2.1" fill="#cdd0d1"/>
<line x1="829.5" y1="546.6" x2="824.1" y2="551.3" stroke="#cdd0d1" stroke-width="1.4" stroke-linecap="round"/>
<circle cx="824.1" cy="551.3" r="1.8" fill="#cdd0d1" />
<circle cx="826.8" cy="548.9" r="1.53" fill="#cdd0d1" />
<line x1="830.8" y1="553.2" x2="837.3" y2="555.5" stroke="#cdd0d1" stroke-width="1.4" stroke-linecap="round"/>
<circle cx="837.3" cy="555.5" r="1.8" fill="#cdd0d1" />
<line x1="832.1" y1="560.0" x2="828.4" y2="566.8" stroke="#cdd0d1" stroke-width="1.4" stroke-linecap="round"/>
<circle cx="828.4" cy="566.8" r="1.8" fill="#cdd0d1" />
<circle cx="830.2" cy="563.4" r="1.53" fill="#cdd0d1" />
<line x1="828.4" y1="566.8" x2="830.2" y2="572.3" stroke="#cdd0d1" stroke-width="1.26" stroke-linecap="round"/>
<circle cx="830.2" cy="572.3" r="1.8" fill="#cdd0d1" />
<line x1="833.5" y1="567.5" x2="838.5" y2="570.0" stroke="#cdd0d1" stroke-width="1.4" stroke-linecap="round"/>
<circle cx="838.5" cy="570.0" r="1.8" fill="#cdd0d1" />
<line x1="838.5" y1="570.0" x2="841.5" y2="574.8" stroke="#cdd0d1" stroke-width="1.26" stroke-linecap="round"/>
<circle cx="841.5" cy="574.8" r="1.8" fill="#cdd0d1" />
<line x1="835.6" y1="578.2" x2="832.3" y2="581.5" stroke="#cdd0d1" stroke-width="1.4" stroke-linecap="round"/>
<circle cx="832.3" cy="581.5" r="1.8" fill="#cdd0d1" />
<line x1="832.3" y1="581.5" x2="832.1" y2="585.0" stroke="#cdd0d1" stroke-width="1.26" stroke-linecap="round"/>
<circle cx="832.1" cy="585.0" r="1.8" fill="#cdd0d1" />
<line x1="837.0" y1="584.9" x2="841.2" y2="587.8" stroke="#cdd0d1" stroke-width="1.4" stroke-linecap="round"/>
<circle cx="841.2" cy="587.8" r="1.8" fill="#cdd0d1" />
<path d="M874.3,550.7 L895.0,570.0 L900.0,585.0" stroke="#cdd0d1" stroke-width="2.2" fill="none" stroke-linecap="round" stroke-linejoin="round"/>
<circle cx="895.0" cy="570.0" r="2.1" fill="#cdd0d1"/>
<circle cx="900.0" cy="585.0" r="2.1" fill="#cdd0d1"/>
<line x1="877.0" y1="553.3" x2="876.6" y2="559.6" stroke="#cdd0d1" stroke-width="1.4" stroke-linecap="round"/>
<circle cx="876.6" cy="559.6" r="1.8" fill="#cdd0d1" />
<line x1="876.6" y1="559.6" x2="879.5" y2="562.5" stroke="#cdd0d1" stroke-width="1.26" stroke-linecap="round"/>
<circle cx="879.5" cy="562.5" r="1.8" fill="#cdd0d1" />
<line x1="881.2" y1="557.1" x2="888.8" y2="555.2" stroke="#cdd0d1" stroke-width="1.4" stroke-linecap="round"/>
<circle cx="888.8" cy="555.2" r="1.8" fill="#cdd0d1" />
<circle cx="885.0" cy="556.1" r="1.53" fill="#cdd0d1" />
<line x1="886.6" y1="562.2" x2="886.1" y2="569.0" stroke="#cdd0d1" stroke-width="1.4" stroke-linecap="round"/>
<circle cx="886.1" cy="569.0" r="1.8" fill="#cdd0d1" />
<line x1="892.5" y1="567.7" x2="899.9" y2="565.6" stroke="#cdd0d1" stroke-width="1.4" stroke-linecap="round"/>
<circle cx="899.9" cy="565.6" r="1.8" fill="#cdd0d1" />
<circle cx="896.2" cy="566.7" r="1.53" fill="#cdd0d1" />
<line x1="899.9" y1="565.6" x2="904.4" y2="568.5" stroke="#cdd0d1" stroke-width="1.26" stroke-linecap="round"/>
<circle cx="904.4" cy="568.5" r="1.8" fill="#cdd0d1" />
<line x1="896.0" y1="573.1" x2="893.6" y2="580.6" stroke="#cdd0d1" stroke-width="1.4" stroke-linecap="round"/>
<circle cx="893.6" cy="580.6" r="1.8" fill="#cdd0d1" />
<circle cx="894.8" cy="576.8" r="1.53" fill="#cdd0d1" />
<line x1="893.6" y1="580.6" x2="890.2" y2="582.6" stroke="#cdd0d1" stroke-width="1.26" stroke-linecap="round"/>
<circle cx="890.2" cy="582.6" r="1.8" fill="#cdd0d1" />
<line x1="898.1" y1="579.2" x2="904.6" y2="582.1" stroke="#cdd0d1" stroke-width="1.4" stroke-linecap="round"/>
<circle cx="904.6" cy="582.1" r="1.8" fill="#cdd0d1" />
<circle cx="901.3" cy="580.6" r="1.53" fill="#cdd0d1" />
<line x1="841.0" y1="414.0" x2="848.0" y2="414.0" stroke="#cdd0d1" stroke-width="1.4" stroke-linecap="round"/>
<circle cx="848.0" cy="414.0" r="1.8" fill="#cdd0d1" />
<circle cx="844.9" cy="414.0" r="1.4400000000000002" fill="#cdd0d1" />
<line x1="841.0" y1="414.0" x2="846.4" y2="418.5" stroke="#cdd0d1" stroke-width="1.4" stroke-linecap="round"/>
<circle cx="846.4" cy="418.5" r="1.8" fill="#cdd0d1" />
<circle cx="843.9" cy="416.5" r="1.4400000000000002" fill="#cdd0d1" />
<line x1="841.0" y1="414.0" x2="842.2" y2="420.9" stroke="#cdd0d1" stroke-width="1.4" stroke-linecap="round"/>
<circle cx="842.2" cy="420.9" r="1.8" fill="#cdd0d1" />
<circle cx="841.7" cy="417.8" r="1.4400000000000002" fill="#cdd0d1" />
<line x1="841.0" y1="414.0" x2="837.5" y2="420.1" stroke="#cdd0d1" stroke-width="1.4" stroke-linecap="round"/>
<circle cx="837.5" cy="420.1" r="1.8" fill="#cdd0d1" />
<circle cx="839.1" cy="417.3" r="1.4400000000000002" fill="#cdd0d1" />
<line x1="841.0" y1="414.0" x2="834.4" y2="416.4" stroke="#cdd0d1" stroke-width="1.4" stroke-linecap="round"/>
<circle cx="834.4" cy="416.4" r="1.8" fill="#cdd0d1" />
<circle cx="837.4" cy="415.3" r="1.4400000000000002" fill="#cdd0d1" />
<line x1="841.0" y1="414.0" x2="834.4" y2="411.6" stroke="#cdd0d1" stroke-width="1.4" stroke-linecap="round"/>
<circle cx="834.4" cy="411.6" r="1.8" fill="#cdd0d1" />
<circle cx="837.4" cy="412.7" r="1.4400000000000002" fill="#cdd0d1" />
<line x1="841.0" y1="414.0" x2="837.5" y2="407.9" stroke="#cdd0d1" stroke-width="1.4" stroke-linecap="round"/>
<circle cx="837.5" cy="407.9" r="1.8" fill="#cdd0d1" />
<circle cx="839.1" cy="410.7" r="1.4400000000000002" fill="#cdd0d1" />
<line x1="841.0" y1="414.0" x2="842.2" y2="407.1" stroke="#cdd0d1" stroke-width="1.4" stroke-linecap="round"/>
<circle cx="842.2" cy="407.1" r="1.8" fill="#cdd0d1" />
<circle cx="841.7" cy="410.2" r="1.4400000000000002" fill="#cdd0d1" />
<line x1="841.0" y1="414.0" x2="846.4" y2="409.5" stroke="#cdd0d1" stroke-width="1.4" stroke-linecap="round"/>
<circle cx="846.4" cy="409.5" r="1.8" fill="#cdd0d1" />
<circle cx="843.9" cy="411.5" r="1.4400000000000002" fill="#cdd0d1" />
<circle cx="841.0" cy="414.0" r="2.2" fill="#cdd0d1" />
<line x1="865.0" y1="410.0" x2="872.0" y2="410.0" stroke="#cdd0d1" stroke-width="1.4" stroke-linecap="round"/>
<circle cx="872.0" cy="410.0" r="1.8" fill="#cdd0d1" />
<circle cx="868.9" cy="410.0" r="1.4400000000000002" fill="#cdd0d1" />
<line x1="865.0" y1="410.0" x2="869.9" y2="414.9" stroke="#cdd0d1" stroke-width="1.4" stroke-linecap="round"/>
<circle cx="869.9" cy="414.9" r="1.8" fill="#cdd0d1" />
<circle cx="867.7" cy="412.7" r="1.4400000000000002" fill="#cdd0d1" />
<line x1="865.0" y1="410.0" x2="865.0" y2="417.0" stroke="#cdd0d1" stroke-width="1.4" stroke-linecap="round"/>
<circle cx="865.0" cy="417.0" r="1.8" fill="#cdd0d1" />
<circle cx="865.0" cy="413.9" r="1.4400000000000002" fill="#cdd0d1" />
<line x1="865.0" y1="410.0" x2="860.1" y2="414.9" stroke="#cdd0d1" stroke-width="1.4" stroke-linecap="round"/>
<circle cx="860.1" cy="414.9" r="1.8" fill="#cdd0d1" />
<circle cx="862.3" cy="412.7" r="1.4400000000000002" fill="#cdd0d1" />
<line x1="865.0" y1="410.0" x2="858.0" y2="410.0" stroke="#cdd0d1" stroke-width="1.4" stroke-linecap="round"/>
<circle cx="858.0" cy="410.0" r="1.8" fill="#cdd0d1" />
<circle cx="861.1" cy="410.0" r="1.4400000000000002" fill="#cdd0d1" />
<line x1="865.0" y1="410.0" x2="860.1" y2="405.1" stroke="#cdd0d1" stroke-width="1.4" stroke-linecap="round"/>
<circle cx="860.1" cy="405.1" r="1.8" fill="#cdd0d1" />
<circle cx="862.3" cy="407.3" r="1.4400000000000002" fill="#cdd0d1" />
<line x1="865.0" y1="410.0" x2="865.0" y2="403.0" stroke="#cdd0d1" stroke-width="1.4" stroke-linecap="round"/>
<circle cx="865.0" cy="403.0" r="1.8" fill="#cdd0d1" />
<circle cx="865.0" cy="406.1" r="1.4400000000000002" fill="#cdd0d1" />
<line x1="865.0" y1="410.0" x2="869.9" y2="405.1" stroke="#cdd0d1" stroke-width="1.4" stroke-linecap="round"/>
<circle cx="869.9" cy="405.1" r="1.8" fill="#cdd0d1" />
<circle cx="867.7" cy="407.3" r="1.4400000000000002" fill="#cdd0d1" />
<circle cx="865.0" cy="410.0" r="2.2" fill="#cdd0d1" />
<line x1="927.0" y1="470.0" x2="935.0" y2="470.0" stroke="#cdd0d1" stroke-width="1.4" stroke-linecap="round"/>
<circle cx="935.0" cy="470.0" r="1.8" fill="#cdd0d1" />
<circle cx="931.4" cy="470.0" r="1.4400000000000002" fill="#cdd0d1" />
<line x1="927.0" y1="470.0" x2="932.7" y2="475.7" stroke="#cdd0d1" stroke-width="1.4" stroke-linecap="round"/>
<circle cx="932.7" cy="475.7" r="1.8" fill="#cdd0d1" />
<circle cx="930.1" cy="473.1" r="1.4400000000000002" fill="#cdd0d1" />
<line x1="927.0" y1="470.0" x2="927.0" y2="478.0" stroke="#cdd0d1" stroke-width="1.4" stroke-linecap="round"/>
<circle cx="927.0" cy="478.0" r="1.8" fill="#cdd0d1" />
<circle cx="927.0" cy="474.4" r="1.4400000000000002" fill="#cdd0d1" />
<line x1="927.0" y1="470.0" x2="921.3" y2="475.7" stroke="#cdd0d1" stroke-width="1.4" stroke-linecap="round"/>
<circle cx="921.3" cy="475.7" r="1.8" fill="#cdd0d1" />
<circle cx="923.9" cy="473.1" r="1.4400000000000002" fill="#cdd0d1" />
<line x1="927.0" y1="470.0" x2="919.0" y2="470.0" stroke="#cdd0d1" stroke-width="1.4" stroke-linecap="round"/>
<circle cx="919.0" cy="470.0" r="1.8" fill="#cdd0d1" />
<circle cx="922.6" cy="470.0" r="1.4400000000000002" fill="#cdd0d1" />
<line x1="927.0" y1="470.0" x2="921.3" y2="464.3" stroke="#cdd0d1" stroke-width="1.4" stroke-linecap="round"/>
<circle cx="921.3" cy="464.3" r="1.8" fill="#cdd0d1" />
<circle cx="923.9" cy="466.9" r="1.4400000000000002" fill="#cdd0d1" />
<line x1="927.0" y1="470.0" x2="927.0" y2="462.0" stroke="#cdd0d1" stroke-width="1.4" stroke-linecap="round"/>
<circle cx="927.0" cy="462.0" r="1.8" fill="#cdd0d1" />
<circle cx="927.0" cy="465.6" r="1.4400000000000002" fill="#cdd0d1" />
<line x1="927.0" y1="470.0" x2="932.7" y2="464.3" stroke="#cdd0d1" stroke-width="1.4" stroke-linecap="round"/>
<circle cx="932.7" cy="464.3" r="1.8" fill="#cdd0d1" />
<circle cx="930.1" cy="466.9" r="1.4400000000000002" fill="#cdd0d1" />
<circle cx="927.0" cy="470.0" r="2.2" fill="#cdd0d1" />
<line x1="928.0" y1="535.8" x2="934.0" y2="535.8" stroke="#cdd0d1" stroke-width="1.4" stroke-linecap="round"/>
<circle cx="934.0" cy="535.8" r="1.8" fill="#cdd0d1" />
<circle cx="931.3" cy="535.8" r="1.4400000000000002" fill="#cdd0d1" />
<line x1="928.0" y1="535.8" x2="931.7" y2="540.5" stroke="#cdd0d1" stroke-width="1.4" stroke-linecap="round"/>
<circle cx="931.7" cy="540.5" r="1.8" fill="#cdd0d1" />
<circle cx="930.1" cy="538.4" r="1.4400000000000002" fill="#cdd0d1" />
<line x1="928.0" y1="535.8" x2="926.7" y2="541.6" stroke="#cdd0d1" stroke-width="1.4" stroke-linecap="round"/>
<circle cx="926.7" cy="541.6" r="1.8" fill="#cdd0d1" />
<circle cx="927.3" cy="539.0" r="1.4400000000000002" fill="#cdd0d1" />
<line x1="928.0" y1="535.8" x2="922.6" y2="538.4" stroke="#cdd0d1" stroke-width="1.4" stroke-linecap="round"/>
<circle cx="922.6" cy="538.4" r="1.8" fill="#cdd0d1" />
<circle cx="925.0" cy="537.2" r="1.4400000000000002" fill="#cdd0d1" />
<line x1="928.0" y1="535.8" x2="922.6" y2="533.2" stroke="#cdd0d1" stroke-width="1.4" stroke-linecap="round"/>
<circle cx="922.6" cy="533.2" r="1.8" fill="#cdd0d1" />
<circle cx="925.0" cy="534.4" r="1.4400000000000002" fill="#cdd0d1" />
<line x1="928.0" y1="535.8" x2="926.7" y2="530.0" stroke="#cdd0d1" stroke-width="1.4" stroke-linecap="round"/>
<circle cx="926.7" cy="530.0" r="1.8" fill="#cdd0d1" />
<circle cx="927.3" cy="532.6" r="1.4400000000000002" fill="#cdd0d1" />
<line x1="928.0" y1="535.8" x2="931.7" y2="531.1" stroke="#cdd0d1" stroke-width="1.4" stroke-linecap="round"/>
<circle cx="931.7" cy="531.1" r="1.8" fill="#cdd0d1" />
<circle cx="930.1" cy="533.2" r="1.4400000000000002" fill="#cdd0d1" />
<circle cx="928.0" cy="535.8" r="2.2" fill="#cdd0d1" />
<line x1="913.8" y1="550.7" x2="920.7" y2="554.7" stroke="#cdd0d1" stroke-width="1.4" stroke-linecap="round"/>
<circle cx="920.7" cy="554.7" r="1.8" fill="#cdd0d1" />
<circle cx="917.6" cy="552.9" r="1.4400000000000002" fill="#cdd0d1" />
<line x1="913.8" y1="550.7" x2="915.0" y2="558.6" stroke="#cdd0d1" stroke-width="1.4" stroke-linecap="round"/>
<circle cx="915.0" cy="558.6" r="1.8" fill="#cdd0d1" />
<circle cx="914.5" cy="555.1" r="1.4400000000000002" fill="#cdd0d1" />
<line x1="913.8" y1="550.7" x2="908.4" y2="556.6" stroke="#cdd0d1" stroke-width="1.4" stroke-linecap="round"/>
<circle cx="908.4" cy="556.6" r="1.8" fill="#cdd0d1" />
<circle cx="910.8" cy="553.9" r="1.4400000000000002" fill="#cdd0d1" />
<line x1="913.8" y1="550.7" x2="905.8" y2="550.1" stroke="#cdd0d1" stroke-width="1.4" stroke-linecap="round"/>
<circle cx="905.8" cy="550.1" r="1.8" fill="#cdd0d1" />
<circle cx="909.4" cy="550.4" r="1.4400000000000002" fill="#cdd0d1" />
<line x1="913.8" y1="550.7" x2="909.3" y2="544.1" stroke="#cdd0d1" stroke-width="1.4" stroke-linecap="round"/>
<circle cx="909.3" cy="544.1" r="1.8" fill="#cdd0d1" />
<circle cx="911.3" cy="547.1" r="1.4400000000000002" fill="#cdd0d1" />
<line x1="913.8" y1="550.7" x2="916.2" y2="543.1" stroke="#cdd0d1" stroke-width="1.4" stroke-linecap="round"/>
<circle cx="916.2" cy="543.1" r="1.8" fill="#cdd0d1" />
<circle cx="915.1" cy="546.5" r="1.4400000000000002" fill="#cdd0d1" />
<line x1="913.8" y1="550.7" x2="921.2" y2="547.8" stroke="#cdd0d1" stroke-width="1.4" stroke-linecap="round"/>
<circle cx="921.2" cy="547.8" r="1.8" fill="#cdd0d1" />
<circle cx="917.9" cy="549.1" r="1.4400000000000002" fill="#cdd0d1" />
<circle cx="913.8" cy="550.7" r="2.2" fill="#cdd0d1" />
<line x1="778.6" y1="559.3" x2="788.4" y2="561.0" stroke="#cdd0d1" stroke-width="1.4" stroke-linecap="round"/>
<circle cx="788.4" cy="561.0" r="1.8" fill="#cdd0d1" />
<circle cx="784.0" cy="560.3" r="1.4400000000000002" fill="#cdd0d1" />
<line x1="778.6" y1="559.3" x2="784.3" y2="567.5" stroke="#cdd0d1" stroke-width="1.4" stroke-linecap="round"/>
<circle cx="784.3" cy="567.5" r="1.8" fill="#cdd0d1" />
<circle cx="781.8" cy="563.8" r="1.4400000000000002" fill="#cdd0d1" />
<line x1="778.6" y1="559.3" x2="776.9" y2="569.1" stroke="#cdd0d1" stroke-width="1.4" stroke-linecap="round"/>
<circle cx="776.9" cy="569.1" r="1.8" fill="#cdd0d1" />
<circle cx="777.6" cy="564.7" r="1.4400000000000002" fill="#cdd0d1" />
<line x1="778.6" y1="559.3" x2="770.4" y2="565.0" stroke="#cdd0d1" stroke-width="1.4" stroke-linecap="round"/>
<circle cx="770.4" cy="565.0" r="1.8" fill="#cdd0d1" />
<circle cx="774.1" cy="562.5" r="1.4400000000000002" fill="#cdd0d1" />
<line x1="778.6" y1="559.3" x2="768.8" y2="557.6" stroke="#cdd0d1" stroke-width="1.4" stroke-linecap="round"/>
<circle cx="768.8" cy="557.6" r="1.8" fill="#cdd0d1" />
<circle cx="773.2" cy="558.3" r="1.4400000000000002" fill="#cdd0d1" />
<line x1="778.6" y1="559.3" x2="772.9" y2="551.1" stroke="#cdd0d1" stroke-width="1.4" stroke-linecap="round"/>
<circle cx="772.9" cy="551.1" r="1.8" fill="#cdd0d1" />
<circle cx="775.4" cy="554.8" r="1.4400000000000002" fill="#cdd0d1" />
<line x1="778.6" y1="559.3" x2="780.3" y2="549.5" stroke="#cdd0d1" stroke-width="1.4" stroke-linecap="round"/>
<circle cx="780.3" cy="549.5" r="1.8" fill="#cdd0d1" />
<circle cx="779.6" cy="553.9" r="1.4400000000000002" fill="#cdd0d1" />
<line x1="778.6" y1="559.3" x2="786.8" y2="553.6" stroke="#cdd0d1" stroke-width="1.4" stroke-linecap="round"/>
<circle cx="786.8" cy="553.6" r="1.8" fill="#cdd0d1" />
<circle cx="783.1" cy="556.1" r="1.4400000000000002" fill="#cdd0d1" />
<circle cx="778.6" cy="559.3" r="2.2" fill="#cdd0d1" />
<line x1="817.0" y1="571.0" x2="829.1" y2="578.0" stroke="#cdd0d1" stroke-width="1.4" stroke-linecap="round"/>
<circle cx="829.1" cy="578.0" r="1.8" fill="#cdd0d1" />
<circle cx="823.7" cy="574.9" r="1.4400000000000002" fill="#cdd0d1" />
<line x1="817.0" y1="571.0" x2="824.0" y2="583.1" stroke="#cdd0d1" stroke-width="1.4" stroke-linecap="round"/>
<circle cx="824.0" cy="583.1" r="1.8" fill="#cdd0d1" />
<circle cx="820.9" cy="577.7" r="1.4400000000000002" fill="#cdd0d1" />
<line x1="817.0" y1="571.0" x2="817.0" y2="585.0" stroke="#cdd0d1" stroke-width="1.4" stroke-linecap="round"/>
<circle cx="817.0" cy="585.0" r="1.8" fill="#cdd0d1" />
<circle cx="817.0" cy="578.7" r="1.4400000000000002" fill="#cdd0d1" />
<line x1="817.0" y1="571.0" x2="810.0" y2="583.1" stroke="#cdd0d1" stroke-width="1.4" stroke-linecap="round"/>
<circle cx="810.0" cy="583.1" r="1.8" fill="#cdd0d1" />
<circle cx="813.1" cy="577.7" r="1.4400000000000002" fill="#cdd0d1" />
<line x1="817.0" y1="571.0" x2="804.9" y2="578.0" stroke="#cdd0d1" stroke-width="1.4" stroke-linecap="round"/>
<circle cx="804.9" cy="578.0" r="1.8" fill="#cdd0d1" />
<circle cx="810.3" cy="574.9" r="1.4400000000000002" fill="#cdd0d1" />
<line x1="817.0" y1="571.0" x2="803.0" y2="571.0" stroke="#cdd0d1" stroke-width="1.4" stroke-linecap="round"/>
<circle cx="803.0" cy="571.0" r="1.8" fill="#cdd0d1" />
<circle cx="809.3" cy="571.0" r="1.4400000000000002" fill="#cdd0d1" />
<line x1="817.0" y1="571.0" x2="804.9" y2="564.0" stroke="#cdd0d1" stroke-width="1.4" stroke-linecap="round"/>
<circle cx="804.9" cy="564.0" r="1.8" fill="#cdd0d1" />
<circle cx="810.3" cy="567.1" r="1.4400000000000002" fill="#cdd0d1" />
<line x1="817.0" y1="571.0" x2="810.0" y2="558.9" stroke="#cdd0d1" stroke-width="1.4" stroke-linecap="round"/>
<circle cx="810.0" cy="558.9" r="1.8" fill="#cdd0d1" />
<circle cx="813.1" cy="564.3" r="1.4400000000000002" fill="#cdd0d1" />
<line x1="817.0" y1="571.0" x2="817.0" y2="557.0" stroke="#cdd0d1" stroke-width="1.4" stroke-linecap="round"/>
<circle cx="817.0" cy="557.0" r="1.8" fill="#cdd0d1" />
<circle cx="817.0" cy="563.3" r="1.4400000000000002" fill="#cdd0d1" />
<line x1="817.0" y1="571.0" x2="824.0" y2="558.9" stroke="#cdd0d1" stroke-width="1.4" stroke-linecap="round"/>
<circle cx="824.0" cy="558.9" r="1.8" fill="#cdd0d1" />
<circle cx="820.9" cy="564.3" r="1.4400000000000002" fill="#cdd0d1" />
<line x1="817.0" y1="571.0" x2="829.1" y2="564.0" stroke="#cdd0d1" stroke-width="1.4" stroke-linecap="round"/>
<circle cx="829.1" cy="564.0" r="1.8" fill="#cdd0d1" />
<circle cx="823.7" cy="567.1" r="1.4400000000000002" fill="#cdd0d1" />
<line x1="817.0" y1="571.0" x2="831.0" y2="571.0" stroke="#cdd0d1" stroke-width="1.4" stroke-linecap="round"/>
<circle cx="831.0" cy="571.0" r="1.8" fill="#cdd0d1" />
<circle cx="824.7" cy="571.0" r="1.4400000000000002" fill="#cdd0d1" />
<circle cx="817.0" cy="571.0" r="2.2" fill="#cdd0d1" />
<line x1="847.0" y1="567.0" x2="861.0" y2="567.0" stroke="#cdd0d1" stroke-width="1.4" stroke-linecap="round"/>
<circle cx="861.0" cy="567.0" r="1.8" fill="#cdd0d1" />
<circle cx="854.7" cy="567.0" r="1.4400000000000002" fill="#cdd0d1" />
<line x1="847.0" y1="567.0" x2="859.1" y2="574.0" stroke="#cdd0d1" stroke-width="1.4" stroke-linecap="round"/>
<circle cx="859.1" cy="574.0" r="1.8" fill="#cdd0d1" />
<circle cx="853.7" cy="570.9" r="1.4400000000000002" fill="#cdd0d1" />
<line x1="847.0" y1="567.0" x2="854.0" y2="579.1" stroke="#cdd0d1" stroke-width="1.4" stroke-linecap="round"/>
<circle cx="854.0" cy="579.1" r="1.8" fill="#cdd0d1" />
<circle cx="850.9" cy="573.7" r="1.4400000000000002" fill="#cdd0d1" />
<line x1="847.0" y1="567.0" x2="847.0" y2="581.0" stroke="#cdd0d1" stroke-width="1.4" stroke-linecap="round"/>
<circle cx="847.0" cy="581.0" r="1.8" fill="#cdd0d1" />
<circle cx="847.0" cy="574.7" r="1.4400000000000002" fill="#cdd0d1" />
<line x1="847.0" y1="567.0" x2="840.0" y2="579.1" stroke="#cdd0d1" stroke-width="1.4" stroke-linecap="round"/>
<circle cx="840.0" cy="579.1" r="1.8" fill="#cdd0d1" />
<circle cx="843.1" cy="573.7" r="1.4400000000000002" fill="#cdd0d1" />
<line x1="847.0" y1="567.0" x2="834.9" y2="574.0" stroke="#cdd0d1" stroke-width="1.4" stroke-linecap="round"/>
<circle cx="834.9" cy="574.0" r="1.8" fill="#cdd0d1" />
<circle cx="840.3" cy="570.9" r="1.4400000000000002" fill="#cdd0d1" />
<line x1="847.0" y1="567.0" x2="833.0" y2="567.0" stroke="#cdd0d1" stroke-width="1.4" stroke-linecap="round"/>
<circle cx="833.0" cy="567.0" r="1.8" fill="#cdd0d1" />
<circle cx="839.3" cy="567.0" r="1.4400000000000002" fill="#cdd0d1" />
<line x1="847.0" y1="567.0" x2="834.9" y2="560.0" stroke="#cdd0d1" stroke-width="1.4" stroke-linecap="round"/>
<circle cx="834.9" cy="560.0" r="1.8" fill="#cdd0d1" />
<circle cx="840.3" cy="563.1" r="1.4400000000000002" fill="#cdd0d1" />
<line x1="847.0" y1="567.0" x2="840.0" y2="554.9" stroke="#cdd0d1" stroke-width="1.4" stroke-linecap="round"/>
<circle cx="840.0" cy="554.9" r="1.8" fill="#cdd0d1" />
<circle cx="843.1" cy="560.3" r="1.4400000000000002" fill="#cdd0d1" />
<line x1="847.0" y1="567.0" x2="847.0" y2="553.0" stroke="#cdd0d1" stroke-width="1.4" stroke-linecap="round"/>
<circle cx="847.0" cy="553.0" r="1.8" fill="#cdd0d1" />
<circle cx="847.0" cy="559.3" r="1.4400000000000002" fill="#cdd0d1" />
<line x1="847.0" y1="567.0" x2="854.0" y2="554.9" stroke="#cdd0d1" stroke-width="1.4" stroke-linecap="round"/>
<circle cx="854.0" cy="554.9" r="1.8" fill="#cdd0d1" />
<circle cx="850.9" cy="560.3" r="1.4400000000000002" fill="#cdd0d1" />
<line x1="847.0" y1="567.0" x2="859.1" y2="560.0" stroke="#cdd0d1" stroke-width="1.4" stroke-linecap="round"/>
<circle cx="859.1" cy="560.0" r="1.8" fill="#cdd0d1" />
<circle cx="853.7" cy="563.1" r="1.4400000000000002" fill="#cdd0d1" />
<circle cx="847.0" cy="567.0" r="2.2" fill="#cdd0d1" />
<line x1="740.0" y1="520.0" x2="740.0" y2="527.0" stroke="#cdd0d1" stroke-width="1.4" stroke-linecap="round"/>
<circle cx="740.0" cy="527.0" r="1.8" fill="#cdd0d1" />
<circle cx="740.0" cy="523.9" r="1.4400000000000002" fill="#cdd0d1" />
<line x1="740.0" y1="520.0" x2="733.9" y2="523.5" stroke="#cdd0d1" stroke-width="1.4" stroke-linecap="round"/>
<circle cx="733.9" cy="523.5" r="1.8" fill="#cdd0d1" />
<circle cx="736.7" cy="521.9" r="1.4400000000000002" fill="#cdd0d1" />
<line x1="740.0" y1="520.0" x2="733.9" y2="516.5" stroke="#cdd0d1" stroke-width="1.4" stroke-linecap="round"/>
<circle cx="733.9" cy="516.5" r="1.8" fill="#cdd0d1" />
<circle cx="736.7" cy="518.1" r="1.4400000000000002" fill="#cdd0d1" />
<line x1="740.0" y1="520.0" x2="740.0" y2="513.0" stroke="#cdd0d1" stroke-width="1.4" stroke-linecap="round"/>
<circle cx="740.0" cy="513.0" r="1.8" fill="#cdd0d1" />
<circle cx="740.0" cy="516.1" r="1.4400000000000002" fill="#cdd0d1" />
<line x1="740.0" y1="520.0" x2="746.1" y2="516.5" stroke="#cdd0d1" stroke-width="1.4" stroke-linecap="round"/>
<circle cx="746.1" cy="516.5" r="1.8" fill="#cdd0d1" />
<circle cx="743.3" cy="518.1" r="1.4400000000000002" fill="#cdd0d1" />
<line x1="740.0" y1="520.0" x2="746.1" y2="523.5" stroke="#cdd0d1" stroke-width="1.4" stroke-linecap="round"/>
<circle cx="746.1" cy="523.5" r="1.8" fill="#cdd0d1" />
<circle cx="743.3" cy="521.9" r="1.4400000000000002" fill="#cdd0d1" />
<circle cx="740.0" cy="520.0" r="2.2" fill="#cdd0d1" />
<line x1="745.0" y1="462.0" x2="751.0" y2="462.0" stroke="#cdd0d1" stroke-width="1.4" stroke-linecap="round"/>
<circle cx="751.0" cy="462.0" r="1.8" fill="#cdd0d1" />
<circle cx="748.3" cy="462.0" r="1.4400000000000002" fill="#cdd0d1" />
<line x1="745.0" y1="462.0" x2="748.0" y2="467.2" stroke="#cdd0d1" stroke-width="1.4" stroke-linecap="round"/>
<circle cx="748.0" cy="467.2" r="1.8" fill="#cdd0d1" />
<circle cx="746.6" cy="464.9" r="1.4400000000000002" fill="#cdd0d1" />
<line x1="745.0" y1="462.0" x2="742.0" y2="467.2" stroke="#cdd0d1" stroke-width="1.4" stroke-linecap="round"/>
<circle cx="742.0" cy="467.2" r="1.8" fill="#cdd0d1" />
<circle cx="743.4" cy="464.9" r="1.4400000000000002" fill="#cdd0d1" />
<line x1="745.0" y1="462.0" x2="739.0" y2="462.0" stroke="#cdd0d1" stroke-width="1.4" stroke-linecap="round"/>
<circle cx="739.0" cy="462.0" r="1.8" fill="#cdd0d1" />
<circle cx="741.7" cy="462.0" r="1.4400000000000002" fill="#cdd0d1" />
<line x1="745.0" y1="462.0" x2="742.0" y2="456.8" stroke="#cdd0d1" stroke-width="1.4" stroke-linecap="round"/>
<circle cx="742.0" cy="456.8" r="1.8" fill="#cdd0d1" />
<circle cx="743.4" cy="459.1" r="1.4400000000000002" fill="#cdd0d1" />
<line x1="745.0" y1="462.0" x2="748.0" y2="456.8" stroke="#cdd0d1" stroke-width="1.4" stroke-linecap="round"/>
<circle cx="748.0" cy="456.8" r="1.8" fill="#cdd0d1" />
<circle cx="746.6" cy="459.1" r="1.4400000000000002" fill="#cdd0d1" />
<circle cx="745.0" cy="462.0" r="2.2" fill="#cdd0d1" />
<line x1="872.0" y1="590.0" x2="875.0" y2="595.2" stroke="#cdd0d1" stroke-width="1.4" stroke-linecap="round"/>
<circle cx="875.0" cy="595.2" r="1.8" fill="#cdd0d1" />
<circle cx="873.6" cy="592.9" r="1.4400000000000002" fill="#cdd0d1" />
<line x1="872.0" y1="590.0" x2="869.0" y2="595.2" stroke="#cdd0d1" stroke-width="1.4" stroke-linecap="round"/>
<circle cx="869.0" cy="595.2" r="1.8" fill="#cdd0d1" />
<circle cx="870.4" cy="592.9" r="1.4400000000000002" fill="#cdd0d1" />
<line x1="872.0" y1="590.0" x2="866.0" y2="590.0" stroke="#cdd0d1" stroke-width="1.4" stroke-linecap="round"/>
<circle cx="866.0" cy="590.0" r="1.8" fill="#cdd0d1" />
<circle cx="868.7" cy="590.0" r="1.4400000000000002" fill="#cdd0d1" />
<line x1="872.0" y1="590.0" x2="869.0" y2="584.8" stroke="#cdd0d1" stroke-width="1.4" stroke-linecap="round"/>
<circle cx="869.0" cy="584.8" r="1.8" fill="#cdd0d1" />
<circle cx="870.4" cy="587.1" r="1.4400000000000002" fill="#cdd0d1" />
<line x1="872.0" y1="590.0" x2="875.0" y2="584.8" stroke="#cdd0d1" stroke-width="1.4" stroke-linecap="round"/>
<circle cx="875.0" cy="584.8" r="1.8" fill="#cdd0d1" />
<circle cx="873.6" cy="587.1" r="1.4400000000000002" fill="#cdd0d1" />
<line x1="872.0" y1="590.0" x2="878.0" y2="590.0" stroke="#cdd0d1" stroke-width="1.4" stroke-linecap="round"/>
<circle cx="878.0" cy="590.0" r="1.8" fill="#cdd0d1" />
<circle cx="875.3" cy="590.0" r="1.4400000000000002" fill="#cdd0d1" />
<circle cx="872.0" cy="590.0" r="2.2" fill="#cdd0d1" />
<line x1="808.8" y1="416.7" x2="822.7" y2="417.8" stroke="#cdd0d1" stroke-width="1.8" />
<circle cx="822.7" cy="417.8" r="1.9" fill="#cdd0d1" />
<circle cx="816.8" cy="417.4" r="1.6" fill="#cdd0d1" />
<line x1="808.8" y1="416.7" x2="821.5" y2="422.2" stroke="#cdd0d1" stroke-width="1.8" />
<circle cx="821.5" cy="422.2" r="1.9" fill="#cdd0d1" />
<circle cx="816.1" cy="419.9" r="1.6" fill="#cdd0d1" />
<line x1="808.8" y1="416.7" x2="818.7" y2="425.9" stroke="#cdd0d1" stroke-width="1.8" />
<circle cx="818.7" cy="425.9" r="1.9" fill="#cdd0d1" />
<circle cx="814.5" cy="422.0" r="1.6" fill="#cdd0d1" />
<line x1="808.8" y1="416.7" x2="814.7" y2="428.5" stroke="#cdd0d1" stroke-width="1.8" />
<circle cx="814.7" cy="428.5" r="1.9" fill="#cdd0d1" />
<circle cx="812.2" cy="423.5" r="1.6" fill="#cdd0d1" />
<line x1="808.8" y1="416.7" x2="810.0" y2="429.7" stroke="#cdd0d1" stroke-width="1.8" />
<circle cx="810.0" cy="429.7" r="1.9" fill="#cdd0d1" />
<circle cx="809.5" cy="424.2" r="1.6" fill="#cdd0d1" />
<line x1="808.8" y1="416.7" x2="805.2" y2="429.3" stroke="#cdd0d1" stroke-width="1.8" />
<circle cx="805.2" cy="429.3" r="1.9" fill="#cdd0d1" />
<circle cx="806.7" cy="423.9" r="1.6" fill="#cdd0d1" />
<line x1="808.8" y1="416.7" x2="800.8" y2="427.3" stroke="#cdd0d1" stroke-width="1.8" />
<circle cx="800.8" cy="427.3" r="1.9" fill="#cdd0d1" />
<circle cx="804.2" cy="422.8" r="1.6" fill="#cdd0d1" />
<line x1="808.8" y1="416.7" x2="797.3" y2="424.2" stroke="#cdd0d1" stroke-width="1.8" />
<circle cx="797.3" cy="424.2" r="1.9" fill="#cdd0d1" />
<circle cx="802.2" cy="421.0" r="1.6" fill="#cdd0d1" />
<line x1="808.8" y1="416.7" x2="795.3" y2="420.1" stroke="#cdd0d1" stroke-width="1.8" />
<circle cx="795.3" cy="420.1" r="1.9" fill="#cdd0d1" />
<circle cx="801.1" cy="418.6" r="1.6" fill="#cdd0d1" />
<line x1="808.8" y1="416.7" x2="794.9" y2="415.6" stroke="#cdd0d1" stroke-width="1.8" />
<circle cx="794.9" cy="415.6" r="1.9" fill="#cdd0d1" />
<circle cx="800.8" cy="416.0" r="1.6" fill="#cdd0d1" />
<line x1="808.8" y1="416.7" x2="796.1" y2="411.2" stroke="#cdd0d1" stroke-width="1.8" />
<circle cx="796.1" cy="411.2" r="1.9" fill="#cdd0d1" />
<circle cx="801.5" cy="413.5" r="1.6" fill="#cdd0d1" />
<line x1="808.8" y1="416.7" x2="798.9" y2="407.5" stroke="#cdd0d1" stroke-width="1.8" />
<circle cx="798.9" cy="407.5" r="1.9" fill="#cdd0d1" />
<circle cx="803.1" cy="411.4" r="1.6" fill="#cdd0d1" />
<line x1="808.8" y1="416.7" x2="802.9" y2="404.9" stroke="#cdd0d1" stroke-width="1.8" />
<circle cx="802.9" cy="404.9" r="1.9" fill="#cdd0d1" />
<circle cx="805.4" cy="409.9" r="1.6" fill="#cdd0d1" />
<line x1="808.8" y1="416.7" x2="807.6" y2="403.7" stroke="#cdd0d1" stroke-width="1.8" />
<circle cx="807.6" cy="403.7" r="1.9" fill="#cdd0d1" />
<circle cx="808.1" cy="409.2" r="1.6" fill="#cdd0d1" />
<line x1="808.8" y1="416.7" x2="812.4" y2="404.1" stroke="#cdd0d1" stroke-width="1.8" />
<circle cx="812.4" cy="404.1" r="1.9" fill="#cdd0d1" />
<circle cx="810.9" cy="409.5" r="1.6" fill="#cdd0d1" />
<line x1="808.8" y1="416.7" x2="816.8" y2="406.1" stroke="#cdd0d1" stroke-width="1.8" />
<circle cx="816.8" cy="406.1" r="1.9" fill="#cdd0d1" />
<circle cx="813.4" cy="410.6" r="1.6" fill="#cdd0d1" />
<line x1="808.8" y1="416.7" x2="820.3" y2="409.2" stroke="#cdd0d1" stroke-width="1.8" />
<circle cx="820.3" cy="409.2" r="1.9" fill="#cdd0d1" />
<circle cx="815.4" cy="412.4" r="1.6" fill="#cdd0d1" />
<line x1="808.8" y1="416.7" x2="822.3" y2="413.3" stroke="#cdd0d1" stroke-width="1.8" />
<circle cx="822.3" cy="413.3" r="1.9" fill="#cdd0d1" />
<circle cx="816.5" cy="414.8" r="1.6" fill="#cdd0d1" />
<circle cx="808.8" cy="416.7" r="5.5" fill="#cdd0d1" />
<line x1="770.3" y1="445.8" x2="781.1" y2="447.7" stroke="#cdd0d1" stroke-width="1.6" />
<circle cx="781.1" cy="447.7" r="1.9" fill="#cdd0d1" />
<line x1="770.3" y1="445.8" x2="776.6" y2="454.8" stroke="#cdd0d1" stroke-width="1.6" />
<circle cx="776.6" cy="454.8" r="1.9" fill="#cdd0d1" />
<line x1="770.3" y1="445.8" x2="768.4" y2="456.6" stroke="#cdd0d1" stroke-width="1.6" />
<circle cx="768.4" cy="456.6" r="1.9" fill="#cdd0d1" />
<line x1="770.3" y1="445.8" x2="761.3" y2="452.1" stroke="#cdd0d1" stroke-width="1.6" />
<circle cx="761.3" cy="452.1" r="1.9" fill="#cdd0d1" />
<line x1="770.3" y1="445.8" x2="759.5" y2="443.9" stroke="#cdd0d1" stroke-width="1.6" />
<circle cx="759.5" cy="443.9" r="1.9" fill="#cdd0d1" />
<line x1="770.3" y1="445.8" x2="764.0" y2="436.8" stroke="#cdd0d1" stroke-width="1.6" />
<circle cx="764.0" cy="436.8" r="1.9" fill="#cdd0d1" />
<line x1="770.3" y1="445.8" x2="772.2" y2="435.0" stroke="#cdd0d1" stroke-width="1.6" />
<circle cx="772.2" cy="435.0" r="1.9" fill="#cdd0d1" />
<line x1="770.3" y1="445.8" x2="779.3" y2="439.5" stroke="#cdd0d1" stroke-width="1.6" />
<circle cx="779.3" cy="439.5" r="1.9" fill="#cdd0d1" />
<circle cx="770.3" cy="445.8" r="2.6" fill="#cdd0d1" />
<path d="M808.8,416.7 L834.7,423.0 L850.4,433.2" stroke="#cdd0d1" stroke-width="2.6" fill="none" stroke-linecap="round" stroke-linejoin="round"/>
<circle cx="834.7" cy="423.0" r="2.1" fill="#cdd0d1" />
<circle cx="850.4" cy="433.2" r="1.9" fill="#cdd0d1" />
<circle cx="816.1" cy="418.5" r="1.75" fill="#cdd0d1" />
<line x1="816.1" y1="418.5" x2="818.0" y2="421.6" stroke="#cdd0d1" stroke-width="1.4" stroke-linecap="round"/>
<circle cx="818.0" cy="421.6" r="1.75" fill="#cdd0d1" />
<circle cx="823.4" cy="420.2" r="1.75" fill="#cdd0d1" />
<circle cx="830.7" cy="422.0" r="1.75" fill="#cdd0d1" />
<circle cx="837.5" cy="424.8" r="1.75" fill="#cdd0d1" />
<circle cx="843.8" cy="428.9" r="1.75" fill="#cdd0d1" />
<line x1="843.8" y1="428.9" x2="848.5" y2="426.8" stroke="#cdd0d1" stroke-width="1.4" stroke-linecap="round"/>
<circle cx="848.5" cy="426.8" r="1.75" fill="#cdd0d1" />
<path d="M848.6,488.6 L857.0,461.0 L851.0,448.0 L851.6,433.0 L858.0,422.0 L865.0,410.0" stroke="#d9a595" stroke-width="3.2" fill="none" stroke-linecap="round" stroke-linejoin="round"/>
<circle cx="857.0" cy="461.0" r="2.7" fill="#d9a595"/>
<circle cx="851.0" cy="448.0" r="2.7" fill="#d9a595"/>
<circle cx="851.6" cy="433.0" r="2.7" fill="#d9a595"/>
<circle cx="858.0" cy="422.0" r="2.7" fill="#d9a595"/>
<path d="M848.6,488.6 L830.0,515.7" stroke="#d9a595" stroke-width="3.2" fill="none" stroke-linecap="round" stroke-linejoin="round"/>
<circle cx="830.0" cy="515.7" r="3" fill="#d9a595" />
<path d="M858.0,457.0 L868.0,448.0 L881.0,436.0 L885.0,423.0 L892.0,414.0 L890.0,405.0" stroke="#3a70c6" stroke-width="2.4" fill="none" stroke-linecap="round" stroke-linejoin="round"/>
<circle cx="868.0" cy="448.0" r="2.2" fill="#3a70c6" />
<circle cx="881.0" cy="436.0" r="2.2" fill="#3a70c6" />
<circle cx="885.0" cy="423.0" r="2.2" fill="#3a70c6" />
<circle cx="892.0" cy="414.0" r="2.2" fill="#3a70c6" />
<circle cx="890.0" cy="405.0" r="2.2" fill="#3a70c6" />
<path d="M892.0,414.0 L897.0,407.0" stroke="#3a70c6" stroke-width="2" fill="none" stroke-linecap="round" stroke-linejoin="round"/>
<circle cx="897.0" cy="407.0" r="2" fill="#3a70c6" />
<path d="M881.0,436.0 L888.0,429.0 L896.0,437.0" stroke="#5f8fd0" stroke-width="2" fill="none" stroke-linecap="round" stroke-linejoin="round"/>
<circle cx="888.0" cy="429.0" r="2" fill="#5f8fd0" />
<circle cx="896.0" cy="437.0" r="2" fill="#5f8fd0" />
<path d="M854.0,476.0 L896.0,455.0 L911.0,440.0 L921.0,439.0" stroke="#5f8fd0" stroke-width="2.2" fill="none" stroke-linecap="round" stroke-linejoin="round"/>
<circle cx="896.0" cy="455.0" r="2" fill="#5f8fd0" />
<circle cx="911.0" cy="440.0" r="2" fill="#5f8fd0" />
<circle cx="921.0" cy="439.0" r="2" fill="#5f8fd0" />
<path d="M858.0,479.0 L898.0,468.0 L913.0,461.0" stroke="#2563c4" stroke-width="2.2" fill="none" stroke-linecap="round" stroke-linejoin="round"/>
<circle cx="898.0" cy="468.0" r="2" fill="#2563c4" />
<circle cx="913.0" cy="461.0" r="2" fill="#2563c4" />
<path d="M896.0,455.0 L909.0,456.0 L911.0,449.0" stroke="#2563c4" stroke-width="2" fill="none" stroke-linecap="round" stroke-linejoin="round"/>
<circle cx="909.0" cy="456.0" r="2" fill="#2563c4" />
<circle cx="911.0" cy="449.0" r="2" fill="#2563c4" />
<path d="M853.0,485.0 L872.0,474.0 L908.0,470.0 L927.0,470.0" stroke="#ef5a28" stroke-width="2.4" fill="none" stroke-linecap="round" stroke-linejoin="round"/>
<circle cx="872.0" cy="474.0" r="2.2" fill="#ef5a28" />
<circle cx="908.0" cy="470.0" r="2.2" fill="#ef5a28" />
<circle cx="927.0" cy="470.0" r="2.2" fill="#ef5a28" />
<path d="M854.0,487.0 L876.0,481.0 L894.0,479.0 L910.0,481.0 L908.0,476.0" stroke="#ef5a28" stroke-width="2.2" fill="none" stroke-linecap="round" stroke-linejoin="round"/>
<circle cx="876.0" cy="481.0" r="2.2" fill="#ef5a28" />
<circle cx="894.0" cy="479.0" r="2.2" fill="#ef5a28" />
<circle cx="910.0" cy="481.0" r="2.2" fill="#ef5a28" />
<circle cx="908.0" cy="476.0" r="2.2" fill="#ef5a28" />
<line x1="808.8" y1="416.7" x2="818.0" y2="403.6" stroke="#ef5a28" stroke-width="1.6" />
<circle cx="818.0" cy="403.6" r="2" fill="#ef5a28" />
<line x1="808.8" y1="416.7" x2="821.9" y2="407.5" stroke="#ef5a28" stroke-width="1.6" />
<circle cx="821.9" cy="407.5" r="2" fill="#ef5a28" />
<line x1="808.8" y1="416.7" x2="821.5" y2="414.0" stroke="#ef5a28" stroke-width="1.6" />
<circle cx="821.5" cy="414.0" r="2" fill="#ef5a28" />
<line x1="808.8" y1="416.7" x2="817.0" y2="420.5" stroke="#2563c4" stroke-width="1.6" />
<circle cx="817.0" cy="420.5" r="2" fill="#2563c4" />
<line x1="808.8" y1="416.7" x2="817.2" y2="426.7" stroke="#2563c4" stroke-width="1.6" />
<circle cx="817.2" cy="426.7" r="2" fill="#2563c4" />
<line x1="808.8" y1="416.7" x2="799.6" y2="425.9" stroke="#ef5a28" stroke-width="1.6" />
<circle cx="799.6" cy="425.9" r="2" fill="#ef5a28" />
<line x1="808.8" y1="416.7" x2="798.4" y2="410.7" stroke="#d9a595" stroke-width="1.6" />
<circle cx="798.4" cy="410.7" r="2" fill="#d9a595" />
<path d="M841.0,414.0 L835.0,411.0" stroke="#ef5a28" stroke-width="1.5" fill="none" stroke-linecap="round" stroke-linejoin="round"/>
<circle cx="835.0" cy="411.0" r="1.8" fill="#ef5a28" />
<path d="M841.0,414.0 L847.0,414.0" stroke="#2563c4" stroke-width="1.5" fill="none" stroke-linecap="round" stroke-linejoin="round"/>
<circle cx="847.0" cy="414.0" r="1.8" fill="#2563c4" />
<path d="M841.0,414.0 L843.0,420.0" stroke="#ef5a28" stroke-width="1.5" fill="none" stroke-linecap="round" stroke-linejoin="round"/>
<circle cx="843.0" cy="420.0" r="1.8" fill="#ef5a28" />
<path d="M865.0,410.0 L858.0,409.0" stroke="#ef5a28" stroke-width="1.5" fill="none" stroke-linecap="round" stroke-linejoin="round"/>
<circle cx="858.0" cy="409.0" r="1.8" fill="#ef5a28" />
<path d="M848.6,488.6 L831.4,480.0 L813.6,469.3 L795.7,460.0 L785.7,450.7 L770.0,445.0" stroke="#2f6ac4" stroke-width="3" fill="none" stroke-linecap="round" stroke-linejoin="round"/>
<circle cx="831.4" cy="480.0" r="2.6" fill="#2f6ac4" />
<circle cx="813.6" cy="469.3" r="2.6" fill="#2f6ac4" />
<circle cx="795.7" cy="460.0" r="2.6" fill="#2f6ac4" />
<circle cx="785.7" cy="450.7" r="2.6" fill="#2f6ac4" />
<circle cx="770.0" cy="445.0" r="2.6" fill="#2f6ac4" />
<path d="M795.7,460.0 L778.6,461.4 L765.0,461.1" stroke="#3a72c8" stroke-width="2.4" fill="none" stroke-linecap="round" stroke-linejoin="round"/>
<circle cx="778.6" cy="461.4" r="2.3" fill="#3a72c8" />
<circle cx="765.0" cy="461.1" r="2.3" fill="#3a72c8" />
<path d="M785.7,450.7 L791.4,444.3 L789.3,437.9" stroke="#2563c4" stroke-width="2" fill="none" stroke-linecap="round" stroke-linejoin="round"/>
<circle cx="791.4" cy="444.3" r="2" fill="#2563c4" />
<circle cx="789.3" cy="437.9" r="2" fill="#2563c4" />
<path d="M770.0,445.0 L767.9,455.7" stroke="#2563c4" stroke-width="2" fill="none" stroke-linecap="round" stroke-linejoin="round"/>
<circle cx="767.9" cy="455.7" r="2" fill="#2563c4" />
<path d="M770.0,445.0 L776.0,449.0" stroke="#2563c4" stroke-width="2" fill="none" stroke-linecap="round" stroke-linejoin="round"/>
<circle cx="776.0" cy="449.0" r="2" fill="#2563c4" />
<path d="M782.9,467.1 L789.3,465.0 L796.4,470.7 L800.7,477.1 L800.0,480.7" stroke="#ef5a28" stroke-width="2" fill="none" stroke-linecap="round" stroke-linejoin="round"/>
<circle cx="789.3" cy="465.0" r="2" fill="#ef5a28" />
<circle cx="796.4" cy="470.7" r="2" fill="#ef5a28" />
<circle cx="800.7" cy="477.1" r="2" fill="#ef5a28" />
<circle cx="800.0" cy="480.7" r="2" fill="#ef5a28" />
<path d="M800.0,482.0 L782.9,477.1 L762.9,472.9 L750.7,470.7 L745.7,464.3" stroke="#6f98d0" stroke-width="2" fill="none" stroke-linecap="round" stroke-linejoin="round"/>
<circle cx="782.9" cy="477.1" r="2" fill="#6f98d0" />
<circle cx="762.9" cy="472.9" r="2" fill="#6f98d0" />
<circle cx="750.7" cy="470.7" r="2" fill="#6f98d0" />
<circle cx="745.7" cy="464.3" r="2" fill="#6f98d0" />
<path d="M848.6,488.6 L812.9,490.7 L788.3,502.6" stroke="#3a72c8" stroke-width="3.4" fill="none" stroke-linecap="round" stroke-linejoin="round"/>
<circle cx="812.9" cy="490.7" r="3" fill="#3a72c8" />
<circle cx="788.3" cy="502.6" r="3" fill="#3a72c8" />
<path d="M788.3,502.6 L777.0,497.0 L758.6,492.9 L748.6,490.0 L737.9,494.3" stroke="#3a72c8" stroke-width="2.4" fill="none" stroke-linecap="round" stroke-linejoin="round"/>
<circle cx="777.0" cy="497.0" r="2.3" fill="#3a72c8" />
<circle cx="758.6" cy="492.9" r="2.3" fill="#3a72c8" />
<circle cx="748.6" cy="490.0" r="2.3" fill="#3a72c8" />
<circle cx="737.9" cy="494.3" r="2.3" fill="#3a72c8" />
<path d="M758.6,492.9 L753.6,502.9" stroke="#2563c4" stroke-width="2" fill="none" stroke-linecap="round" stroke-linejoin="round"/>
<circle cx="753.6" cy="502.9" r="2.2" fill="#2563c4" />
<path d="M762.9,492.0 L772.9,490.7" stroke="#ef5a28" stroke-width="1.8" fill="none" stroke-linecap="round" stroke-linejoin="round"/>
<circle cx="772.9" cy="490.7" r="1.8" fill="#ef5a28" />
<path d="M788.3,502.6 L774.3,505.7 L761.4,509.3 L739.3,512.1" stroke="#2563c4" stroke-width="2.4" fill="none" stroke-linecap="round" stroke-linejoin="round"/>
<circle cx="774.3" cy="505.7" r="2.3" fill="#2563c4" />
<circle cx="761.4" cy="509.3" r="2.3" fill="#2563c4" />
<circle cx="739.3" cy="512.1" r="2.3" fill="#2563c4" />
<path d="M746.4,515.7 L745.7,522.9" stroke="#2563c4" stroke-width="2" fill="none" stroke-linecap="round" stroke-linejoin="round"/>
<circle cx="745.7" cy="522.9" r="2.2" fill="#2563c4" />
<path d="M746.4,515.7 L740.0,518.6" stroke="#2563c4" stroke-width="2" fill="none" stroke-linecap="round" stroke-linejoin="round"/>
<circle cx="740.0" cy="518.6" r="2" fill="#2563c4" />
<path d="M787.1,514.3 L777.9,522.1 L762.1,525.7" stroke="#2563c4" stroke-width="3" fill="none" stroke-linecap="round" stroke-linejoin="round"/>
<circle cx="777.9" cy="522.1" r="2.8" fill="#2563c4" />
<circle cx="762.1" cy="525.7" r="2.8" fill="#2563c4" />
<path d="M799.3,517.1 L788.6,522.1 L776.4,532.9 L762.1,540.7" stroke="#2563c4" stroke-width="2.4" fill="none" stroke-linecap="round" stroke-linejoin="round"/>
<circle cx="788.6" cy="522.1" r="2.4" fill="#2563c4" />
<circle cx="776.4" cy="532.9" r="2.4" fill="#2563c4" />
<circle cx="762.1" cy="540.7" r="2.4" fill="#2563c4" />
<path d="M830.0,515.7 L825.7,519.3 L811.4,522.9 L802.9,528.6 L792.9,536.4" stroke="#e0907a" stroke-width="2.2" fill="none" stroke-linecap="round" stroke-linejoin="round"/>
<circle cx="825.7" cy="519.3" r="2" fill="#e0907a" />
<circle cx="811.4" cy="522.9" r="2" fill="#e0907a" />
<circle cx="802.9" cy="528.6" r="2" fill="#e0907a" />
<circle cx="792.9" cy="536.4" r="2" fill="#e0907a" />
<path d="M825.7,519.3 L819.3,526.4 L812.9,531.4 L806.4,535.0 L801.4,539.3" stroke="#ef5a28" stroke-width="2.2" fill="none" stroke-linecap="round" stroke-linejoin="round"/>
<circle cx="819.3" cy="526.4" r="2.2" fill="#ef5a28" />
<circle cx="812.9" cy="531.4" r="2.2" fill="#ef5a28" />
<circle cx="806.4" cy="535.0" r="2.2" fill="#ef5a28" />
<circle cx="801.4" cy="539.3" r="2.2" fill="#ef5a28" />
<path d="M830.0,515.7 L833.6,530.7 L828.6,542.1 L815.7,556.4" stroke="#e4866a" stroke-width="2.6" fill="none" stroke-linecap="round" stroke-linejoin="round"/>
<circle cx="833.6" cy="530.7" r="2.4" fill="#e4866a" />
<circle cx="828.6" cy="542.1" r="2.4" fill="#e4866a" />
<circle cx="815.7" cy="556.4" r="2.4" fill="#e4866a" />
<path d="M828.6,542.9 L808.6,547.9" stroke="#7aa0d4" stroke-width="2" fill="none" stroke-linecap="round" stroke-linejoin="round"/>
<path d="M808.6,547.9 L801.4,547.1 L794.3,549.3" stroke="#2563c4" stroke-width="2" fill="none" stroke-linecap="round" stroke-linejoin="round"/>
<circle cx="801.4" cy="547.1" r="2" fill="#2563c4" />
<circle cx="794.3" cy="549.3" r="2" fill="#2563c4" />
<path d="M828.6,542.1 L847.1,560.7 L845.7,553.6" stroke="#ef5a28" stroke-width="2.2" fill="none" stroke-linecap="round" stroke-linejoin="round"/>
<circle cx="847.1" cy="560.7" r="2.2" fill="#ef5a28" />
<circle cx="845.7" cy="553.6" r="2.2" fill="#ef5a28" />
<path d="M847.1,560.7 L850.7,546.4" stroke="#ef5a28" stroke-width="1.8" fill="none" stroke-linecap="round" stroke-linejoin="round"/>
<circle cx="850.7" cy="546.4" r="2.2" fill="#ef5a28" />
<path d="M850.0,553.0 L852.9,552.9" stroke="#c0502a" stroke-width="1.5" fill="none" stroke-linecap="round" stroke-linejoin="round"/>
<circle cx="852.9" cy="552.9" r="1.8" fill="#c0502a" />
<path d="M828.6,548.0 L830.0,555.7" stroke="#ef5a28" stroke-width="1.6" fill="none" stroke-linecap="round" stroke-linejoin="round"/>
<circle cx="830.0" cy="555.7" r="1.8" fill="#ef5a28" />
<path d="M826.0,550.0 L822.9,552.1" stroke="#ef5a28" stroke-width="1.6" fill="none" stroke-linecap="round" stroke-linejoin="round"/>
<circle cx="822.9" cy="552.1" r="1.8" fill="#ef5a28" />
<path d="M815.7,557.1 L807.1,559.3 L797.1,566.4" stroke="#2563c4" stroke-width="2.2" fill="none" stroke-linecap="round" stroke-linejoin="round"/>
<circle cx="807.1" cy="559.3" r="2.2" fill="#2563c4" />
<circle cx="797.1" cy="566.4" r="2.2" fill="#2563c4" />
<path d="M811.0,560.0 L805.0,565.7" stroke="#2563c4" stroke-width="1.8" fill="none" stroke-linecap="round" stroke-linejoin="round"/>
<circle cx="805.0" cy="565.7" r="2" fill="#2563c4" />
<path d="M813.0,560.0 L812.9,567.9" stroke="#4f86cc" stroke-width="1.6" fill="none" stroke-linecap="round" stroke-linejoin="round"/>
<circle cx="812.9" cy="567.9" r="1.8" fill="#4f86cc" />
<path d="M815.0,577.0 L809.0,577.1" stroke="#6f98d0" stroke-width="1.4" fill="none" stroke-linecap="round" stroke-linejoin="round"/>
<circle cx="809.0" cy="577.1" r="1.5" fill="#6f98d0" />
<path d="M820.0,560.0 L826.0,570.0" stroke="#e0a090" stroke-width="1.6" fill="none" stroke-linecap="round" stroke-linejoin="round"/>
<circle cx="826.0" cy="570.0" r="1.8" fill="#e0a090" />
<path d="M830.0,515.7 L854.3,535.7 L864.3,553.8 L873.8,549.1 L884.8,560.1 L892.6,561.4" stroke="#7aa0d4" stroke-width="2.8" fill="none" stroke-linecap="round" stroke-linejoin="round"/>
<circle cx="854.3" cy="535.7" r="2.6" fill="#7aa0d4" />
<circle cx="864.3" cy="553.8" r="2.6" fill="#7aa0d4" />
<circle cx="873.8" cy="549.1" r="2.6" fill="#7aa0d4" />
<circle cx="884.8" cy="560.1" r="2.6" fill="#7aa0d4" />
<circle cx="892.6" cy="561.4" r="2.6" fill="#7aa0d4" />
<path d="M884.8,560.1 L878.0,556.0" stroke="#ef5a28" stroke-width="1.5" fill="none" stroke-linecap="round" stroke-linejoin="round"/>
<circle cx="878.0" cy="556.0" r="2" fill="#ef5a28" />
<path d="M882.0,562.0 L878.0,566.0" stroke="#ef5a28" stroke-width="1.5" fill="none" stroke-linecap="round" stroke-linejoin="round"/>
<circle cx="878.0" cy="566.0" r="2" fill="#ef5a28" />
<path d="M890.3,502.8 L904.4,506.7 L918.5,511.4 L931.1,506.7 L940.5,502.8" stroke="#6f98d0" stroke-width="2.4" fill="none" stroke-linecap="round" stroke-linejoin="round"/>
<circle cx="904.4" cy="506.7" r="2.2" fill="#6f98d0" />
<circle cx="918.5" cy="511.4" r="2.2" fill="#6f98d0" />
<circle cx="931.1" cy="506.7" r="2.2" fill="#6f98d0" />
<circle cx="940.5" cy="502.8" r="2.2" fill="#6f98d0" />
<path d="M918.5,511.4 L924.5,516.2" stroke="#ef5a28" stroke-width="2" fill="none" stroke-linecap="round" stroke-linejoin="round"/>
<circle cx="924.5" cy="516.2" r="2.2" fill="#ef5a28" />
<path d="M881.8,508.8 L888.3,517.1 L897.5,520.0 L902.2,519.0" stroke="#ef5a28" stroke-width="2" fill="none" stroke-linecap="round" stroke-linejoin="round"/>
<circle cx="888.3" cy="517.1" r="2.2" fill="#ef5a28" />
<circle cx="897.5" cy="520.0" r="2.2" fill="#ef5a28" />
<circle cx="902.2" cy="519.0" r="2.2" fill="#ef5a28" />
<path d="M881.8,521.8 L892.0,530.0 L899.4,537.5 L904.0,544.0" stroke="#2563c4" stroke-width="2" fill="none" stroke-linecap="round" stroke-linejoin="round"/>
<circle cx="892.0" cy="530.0" r="2" fill="#2563c4" />
<circle cx="899.4" cy="537.5" r="2" fill="#2563c4" />
<circle cx="904.0" cy="544.0" r="2" fill="#2563c4" />
<path d="M927.2,536.6 L931.9,539.8" stroke="#ef5a28" stroke-width="1.8" fill="none" stroke-linecap="round" stroke-linejoin="round"/>
<circle cx="931.9" cy="539.8" r="2" fill="#ef5a28" />
<path d="M865.0,553.6 L868.0,557.0" stroke="#5a8fd0" stroke-width="1.6" fill="none" stroke-linecap="round" stroke-linejoin="round"/>
<circle cx="868.0" cy="557.0" r="1.8" fill="#5a8fd0" />
<circle cx="848.6" cy="488.6" r="5.6" fill="#cdd0d1" />
<text x="669.8" y="399.0" font-size="13.4" fill="#000" style="color:#000" text-anchor="start" >I</text>
<rect x="672.30" y="408.40" width="4.80" height="4.40" fill="#2a66c8" />
<text x="679.4" y="413.4" font-size="9" fill="#111" style="color:#111" text-anchor="start" >Raw</text>
<rect x="672.30" y="417.40" width="4.80" height="4.40" fill="#ef5a28" />
<text x="679.4" y="422.0" font-size="9" fill="#111" style="color:#111" text-anchor="start" >Day-30</text>
<defs><linearGradient id="cbI" x1="0" y1="0" x2="0" y2="1"><stop offset="0" stop-color="#2a62c0"/><stop offset="0.5" stop-color="#c8c8c8"/><stop offset="1" stop-color="#f0602c"/></linearGradient></defs>
<rect x="686.00" y="427.10" width="6.00" height="53.20" fill="url(#cbI)" />
<text x="693.4" y="432.8" font-size="8" fill="#222" style="color:#222" text-anchor="start" >5.2</text>
<text x="695.1" y="456.5" font-size="8" fill="#222" style="color:#222" text-anchor="start" >0.0</text>
<text x="694.0" y="481.3" font-size="8" fill="#222" style="color:#222" text-anchor="start" >-5.2</text>
<text x="0" y="0" font-size="7" fill="#222" text-anchor="middle" transform="translate(674.5,453.7) rotate(-90)">Log 2 ratio of</text>
<text x="0" y="0" font-size="7" fill="#222" text-anchor="middle" transform="translate(684,455.8) rotate(-90)">median proportions</text>
<text x="0" y="0" font-size="8.4" fill="#222" style="color:#222" text-anchor="middle" transform="translate(676.3,509.7) rotate(-90)">ASV count</text>
<path d="M682.6,495.2 L684.8,495.2 L687.6,518.8 L679.6,518.8 Z" fill="#c8cacb"/>
<text x="689.5" y="499.2" font-size="7.4" fill="#222" style="color:#222" text-anchor="start" >1</text>
<text x="689.5" y="509.8" font-size="7.4" fill="#222" style="color:#222" text-anchor="start" >751</text>
<text x="689.5" y="520.1" font-size="7.4" fill="#222" style="color:#222" text-anchor="start" >3000</text>
<text x="745.7" y="400.4" font-size="8.3" fill="#111" style="color:#111" text-anchor="start" >Prevotella</text>
<line x1="768.0" y1="404.0" x2="808.0" y2="416.0" stroke="#555" stroke-width="0.5" stroke-dasharray="1,0.8"/>
<text x="799.7" y="395.9" font-size="8.3" fill="#111" style="color:#111" text-anchor="start" >Alloprevotella</text>
<line x1="838.0" y1="400.0" x2="841.0" y2="410.0" stroke="#555" stroke-width="0.5" stroke-dasharray="1,0.8"/>
<text x="853.0" y="394.9" font-size="8.3" fill="#111" style="color:#111" text-anchor="start" font-style="italic">P. endodontalis</text>
<line x1="876.0" y1="399.0" x2="862.0" y2="408.0" stroke="#555" stroke-width="0.5" stroke-dasharray="1,0.8"/>
<text x="905.0" y="402.9" font-size="8.3" fill="#111" style="color:#111" text-anchor="start" >Flavobacteriales</text>
<line x1="915.0" y1="407.0" x2="870.0" y2="450.0" stroke="#555" stroke-width="0.5" stroke-dasharray="1,0.8"/>
<text x="912.0" y="425.4" font-size="8.3" fill="#111" style="color:#111" text-anchor="start" >Saccharibacteria</text>
<line x1="924.0" y1="430.0" x2="880.0" y2="462.0" stroke="#555" stroke-width="0.5" stroke-dasharray="1,0.8"/>
<text x="925.0" y="445.9" font-size="8.3" fill="#111" style="color:#111" text-anchor="start" >Absconditabacteria</text>
<line x1="925.0" y1="449.0" x2="888.0" y2="470.0" stroke="#555" stroke-width="0.5" stroke-dasharray="1,0.8"/>
<text x="944.0" y="456.9" font-size="8.3" fill="#111" style="color:#111" text-anchor="start" >Treponema</text>
<line x1="950.0" y1="461.0" x2="930.0" y2="470.0" stroke="#555" stroke-width="0.5" stroke-dasharray="1,0.8"/>
<text x="937.6" y="479.9" font-size="8.3" fill="#111" style="color:#111" text-anchor="start" >Fretibacterium</text>
<line x1="935.0" y1="477.0" x2="911.0" y2="476.0" stroke="#555" stroke-width="0.5" stroke-dasharray="1,0.8"/>
<text x="934.4" y="490.9" font-size="8.3" fill="#111" style="color:#111" text-anchor="start" font-style="italic">H. parainfluenzae</text>
<line x1="946.0" y1="494.0" x2="940.0" y2="502.0" stroke="#555" stroke-width="0.5" stroke-dasharray="1,0.8"/>
<text x="935.6" y="519.9" font-size="8.3" fill="#111" style="color:#111" text-anchor="start" >Aggregatibacter</text>
<line x1="933.0" y1="517.0" x2="926.0" y2="516.0" stroke="#555" stroke-width="0.5" stroke-dasharray="1,0.8"/>
<text x="939.3" y="544.9" font-size="8.3" fill="#111" style="color:#111" text-anchor="start" font-style="italic">N. elongata</text>
<line x1="936.0" y1="542.0" x2="932.0" y2="540.0" stroke="#555" stroke-width="0.5" stroke-dasharray="1,0.8"/>
<text x="905.9" y="566.4" font-size="8.3" fill="#111" style="color:#111" text-anchor="start" font-style="italic">L. mirabilis</text>
<line x1="906.0" y1="562.0" x2="904.0" y2="545.0" stroke="#555" stroke-width="0.5" stroke-dasharray="1,0.8"/>
<text x="892.9" y="580.4" font-size="8.3" fill="#111" style="color:#111" text-anchor="start" >Streptococcus</text>
<line x1="900.0" y1="575.0" x2="885.0" y2="561.0" stroke="#555" stroke-width="0.5" stroke-dasharray="1,0.8"/>
<text x="853.9" y="598.9" font-size="8.3" fill="#111" style="color:#111" text-anchor="start" font-style="italic">P. stomatis</text>
<line x1="865.0" y1="592.0" x2="852.0" y2="553.0" stroke="#555" stroke-width="0.5" stroke-dasharray="1,0.8"/>
<text x="787.0" y="596.9" font-size="8.3" fill="#111" style="color:#111" text-anchor="start" >Lachnospiraceae</text>
<line x1="812.0" y1="588.0" x2="814.0" y2="560.0" stroke="#555" stroke-width="0.5" stroke-dasharray="1,0.8"/>
<text x="776.6" y="585.9" font-size="8.3" fill="#111" style="color:#111" text-anchor="start" font-style="italic">P. micra</text>
<line x1="795.0" y1="578.0" x2="801.0" y2="540.0" stroke="#555" stroke-width="0.5" stroke-dasharray="1,0.8"/>
<text x="751.0" y="575.9" font-size="8.3" fill="#111" style="color:#111" text-anchor="start" font-style="italic">S. moorei</text>
<line x1="772.0" y1="568.0" x2="793.0" y2="537.0" stroke="#555" stroke-width="0.5" stroke-dasharray="1,0.8"/>
<text x="711.6" y="562.9" font-size="8.3" fill="#111" style="color:#111" text-anchor="start" >Selenomonas</text>
<line x1="738.0" y1="556.0" x2="762.0" y2="541.0" stroke="#555" stroke-width="0.5" stroke-dasharray="1,0.8"/>
<text x="687.0" y="545.9" font-size="8.3" fill="#111" style="color:#111" text-anchor="start" >Corynebacterium</text>
<line x1="735.0" y1="540.0" x2="762.0" y2="526.0" stroke="#555" stroke-width="0.5" stroke-dasharray="1,0.8"/>
<text x="690.0" y="533.9" font-size="8.3" fill="#111" style="color:#111" text-anchor="start" >Actinobacteria</text>
<line x1="733.0" y1="528.0" x2="788.0" y2="502.0" stroke="#555" stroke-width="0.5" stroke-dasharray="1,0.8"/>
<text x="705.0" y="509.9" font-size="8.3" fill="#111" style="color:#111" text-anchor="start" font-style="italic">M. mulieris</text>
<line x1="735.0" y1="506.0" x2="763.0" y2="492.0" stroke="#555" stroke-width="0.5" stroke-dasharray="1,0.8"/>
<text x="713.1" y="459.9" font-size="8.3" fill="#111" style="color:#111" text-anchor="start" font-style="italic">S. exigua</text>
<line x1="748.0" y1="458.0" x2="783.0" y2="467.0" stroke="#555" stroke-width="0.5" stroke-dasharray="1,0.8"/>
<text x="724.8" y="426.4" font-size="8.3" fill="#111" style="color:#111" text-anchor="start" >Fusobacteriales</text>
<line x1="744.0" y1="430.0" x2="790.0" y2="460.0" stroke="#555" stroke-width="0.5" stroke-dasharray="1,0.8"/>
</svg></body></html>
